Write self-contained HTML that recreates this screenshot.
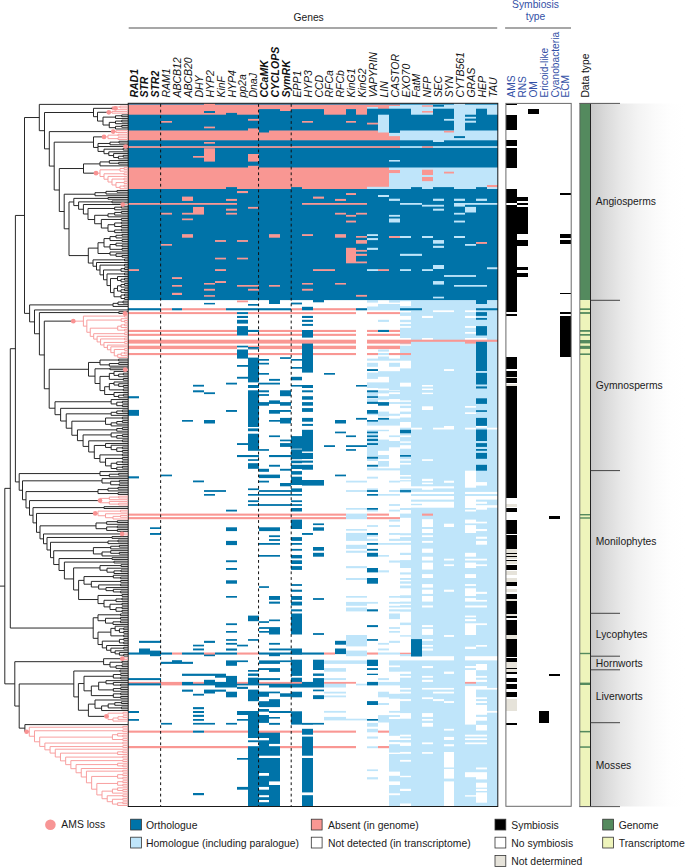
<!DOCTYPE html>
<html><head><meta charset="utf-8"><style>
html,body{margin:0;padding:0;background:#fff;width:685px;height:867px;overflow:hidden}
svg{display:block;font-family:"Liberation Sans",sans-serif}
</style></head><body>
<svg width="685" height="867" viewBox="0 0 685 867" font-family="&apos;Liberation Sans&apos;, sans-serif">
<defs><linearGradient id="gr" x1="0" x2="1" y1="0" y2="0">
<stop offset="0" stop-color="#c9c9c9"/><stop offset="0.15" stop-color="#d9d9d9"/><stop offset="0.32" stop-color="#e8e8e8"/>
<stop offset="0.5" stop-color="#f3f3f3"/><stop offset="0.68" stop-color="#fafafa"/><stop offset="0.85" stop-color="#fefefe"/><stop offset="1" stop-color="#ffffff"/>
</linearGradient></defs>
<rect x="590.5" y="103.5" width="94.5" height="703" fill="url(#gr)"/>
<text x="308.6" y="21.4" font-size="10.3" text-anchor="middle" fill="#1a1a1a">Genes</text>
<line x1="128.7" y1="28" x2="497.2" y2="28" stroke="#8a8a8a" stroke-width="1.7"/>
<text x="535.5" y="7.7" font-size="10.3" text-anchor="middle" fill="#3350a6">Symbiosis</text>
<text x="535.5" y="19.7" font-size="10.3" text-anchor="middle" fill="#3350a6">type</text>
<line x1="505.1" y1="28" x2="571" y2="28" stroke="#8a8a8a" stroke-width="1.7"/>
<text transform="translate(137.60,97.6) rotate(-90)" font-size="10.5" font-style="italic" font-weight="bold" fill="#111">RAD1</text>
<text transform="translate(148.48,97.6) rotate(-90)" font-size="10.5" font-style="italic" font-weight="bold" fill="#111">STR</text>
<text transform="translate(159.36,97.6) rotate(-90)" font-size="10.5" font-style="italic" font-weight="bold" fill="#111">STR2</text>
<text transform="translate(170.24,97.6) rotate(-90)" font-size="10.5" font-style="italic" fill="#111">RAM1</text>
<text transform="translate(181.12,97.6) rotate(-90)" font-size="10.5" font-style="italic" fill="#111">ABCB12</text>
<text transform="translate(192.00,97.6) rotate(-90)" font-size="10.5" font-style="italic" fill="#111">ABCB20</text>
<text transform="translate(202.88,97.6) rotate(-90)" font-size="10.5" font-style="italic" fill="#111">DHY</text>
<text transform="translate(213.76,97.6) rotate(-90)" font-size="10.5" font-style="italic" fill="#111">HYP2</text>
<text transform="translate(224.64,97.6) rotate(-90)" font-size="10.5" font-style="italic" fill="#111">KinF</text>
<text transform="translate(235.52,97.6) rotate(-90)" font-size="10.5" font-style="italic" fill="#111">HYP4</text>
<text transform="translate(246.40,97.6) rotate(-90)" font-size="10.5" font-style="italic" fill="#111">pp2a</text>
<text transform="translate(257.28,97.6) rotate(-90)" font-size="10.5" font-style="italic" fill="#111">DnaJ</text>
<text transform="translate(268.16,97.6) rotate(-90)" font-size="10.5" font-style="italic" font-weight="bold" fill="#111">CCaMK</text>
<text transform="translate(279.04,97.6) rotate(-90)" font-size="10.5" font-style="italic" font-weight="bold" fill="#111">CYCLOPS</text>
<text transform="translate(289.92,97.6) rotate(-90)" font-size="10.5" font-style="italic" font-weight="bold" fill="#111">SymRK</text>
<text transform="translate(300.80,97.6) rotate(-90)" font-size="10.5" font-style="italic" fill="#111">EPP1</text>
<text transform="translate(311.68,97.6) rotate(-90)" font-size="10.5" font-style="italic" fill="#111">HYP3</text>
<text transform="translate(322.56,97.6) rotate(-90)" font-size="10.5" font-style="italic" fill="#111">CCD</text>
<text transform="translate(333.44,97.6) rotate(-90)" font-size="10.5" font-style="italic" fill="#111">RFCa</text>
<text transform="translate(344.32,97.6) rotate(-90)" font-size="10.5" font-style="italic" fill="#111">RFCb</text>
<text transform="translate(355.20,97.6) rotate(-90)" font-size="10.5" font-style="italic" fill="#111">KinG1</text>
<text transform="translate(366.08,97.6) rotate(-90)" font-size="10.5" font-style="italic" fill="#111">KinG2</text>
<text transform="translate(376.96,97.6) rotate(-90)" font-size="10.5" font-style="italic" fill="#111">VAPYRIN</text>
<text transform="translate(387.84,97.6) rotate(-90)" font-size="10.5" font-style="italic" fill="#111">LIN</text>
<text transform="translate(398.72,97.6) rotate(-90)" font-size="10.5" font-style="italic" fill="#111">CASTOR</text>
<text transform="translate(409.60,97.6) rotate(-90)" font-size="10.5" font-style="italic" fill="#111">EXO70</text>
<text transform="translate(420.48,97.6) rotate(-90)" font-size="10.5" font-style="italic" fill="#111">FatM</text>
<text transform="translate(431.36,97.6) rotate(-90)" font-size="10.5" font-style="italic" fill="#111">NFP</text>
<text transform="translate(442.24,97.6) rotate(-90)" font-size="10.5" font-style="italic" fill="#111">SEC</text>
<text transform="translate(453.12,97.6) rotate(-90)" font-size="10.5" font-style="italic" fill="#111">SYN</text>
<text transform="translate(464.00,97.6) rotate(-90)" font-size="10.5" font-style="italic" fill="#111">CYTB561</text>
<text transform="translate(474.88,97.6) rotate(-90)" font-size="10.5" font-style="italic" fill="#111">GRAS</text>
<text transform="translate(485.76,97.6) rotate(-90)" font-size="10.5" font-style="italic" fill="#111">HEP</text>
<text transform="translate(496.64,97.6) rotate(-90)" font-size="10.5" font-style="italic" fill="#111">TAU</text>
<text transform="translate(515.10,97.6) rotate(-90)" font-size="10.2" fill="#3350a6">AMS</text>
<text transform="translate(525.97,97.6) rotate(-90)" font-size="10.2" fill="#3350a6">RNS</text>
<text transform="translate(536.84,97.6) rotate(-90)" font-size="10.2" fill="#3350a6">OM</text>
<text transform="translate(547.71,97.6) rotate(-90)" font-size="10.2" fill="#3350a6">Ericoid-like</text>
<text transform="translate(558.58,97.6) rotate(-90)" font-size="10.2" fill="#3350a6">Cyanobacteria</text>
<text transform="translate(569.45,97.6) rotate(-90)" font-size="10.2" fill="#3350a6">ECM</text>
<text transform="translate(589.2,97.6) rotate(-90)" font-size="10.3" fill="#111">Data type</text>
<g>
<rect x="128" y="103.50" width="11" height="1.70" fill="#0073a8"/>
<rect x="128" y="104.60" width="11" height="10.70" fill="#f99793"/>
<rect x="128" y="114.70" width="11" height="16.40" fill="#0073a8"/>
<rect x="128" y="130.50" width="11" height="10.40" fill="#f99793"/>
<rect x="128" y="140.30" width="11" height="6.50" fill="#0073a8"/>
<rect x="128" y="146.20" width="11" height="2.30" fill="#f99793"/>
<rect x="128" y="147.90" width="11" height="20.20" fill="#0073a8"/>
<rect x="128" y="167.50" width="11" height="22.10" fill="#f99793"/>
<rect x="128" y="189.00" width="11" height="14.60" fill="#0073a8"/>
<rect x="128" y="203.00" width="11" height="2.40" fill="#f99793"/>
<rect x="128" y="204.80" width="11" height="65.00" fill="#0073a8"/>
<rect x="128" y="269.20" width="11" height="2.40" fill="#f99793"/>
<rect x="128" y="271.00" width="11" height="29.10" fill="#0073a8"/>
<rect x="128" y="308.20" width="11" height="2.10" fill="#0073a8"/>
<rect x="128" y="312.10" width="11" height="2.00" fill="#f99793"/>
<rect x="128" y="329.90" width="11" height="2.10" fill="#f99793"/>
<rect x="128" y="333.80" width="11" height="2.10" fill="#f99793"/>
<rect x="128" y="339.70" width="11" height="3.90" fill="#f99793"/>
<rect x="128" y="345.70" width="11" height="3.40" fill="#f99793"/>
<rect x="128" y="353.00" width="11" height="2.10" fill="#f99793"/>
<rect x="128" y="396.20" width="11" height="2.10" fill="#0073a8"/>
<rect x="128" y="409.90" width="11" height="5.90" fill="#0073a8"/>
<rect x="128" y="476.30" width="11" height="2.10" fill="#0073a8"/>
<rect x="128" y="513.60" width="11" height="2.10" fill="#f99793"/>
<rect x="128" y="517.10" width="11" height="2.10" fill="#f99793"/>
<rect x="128" y="652.50" width="11" height="2.10" fill="#0073a8"/>
<rect x="128" y="678.10" width="11" height="2.00" fill="#0073a8"/>
<rect x="128" y="681.90" width="11" height="2.00" fill="#f99793"/>
<rect x="128" y="683.30" width="11" height="2.10" fill="#0073a8"/>
<rect x="128" y="711.00" width="11" height="2.00" fill="#0073a8"/>
<rect x="128" y="719.00" width="11" height="1.80" fill="#0073a8"/>
<rect x="128" y="730.60" width="11" height="2.10" fill="#f99793"/>
<rect x="128" y="746.00" width="11" height="2.20" fill="#f99793"/>
<rect x="139" y="103.50" width="11" height="1.70" fill="#0073a8"/>
<rect x="139" y="104.60" width="11" height="10.70" fill="#f99793"/>
<rect x="139" y="114.70" width="11" height="16.40" fill="#0073a8"/>
<rect x="139" y="130.50" width="11" height="10.40" fill="#f99793"/>
<rect x="139" y="140.30" width="11" height="6.50" fill="#0073a8"/>
<rect x="139" y="146.20" width="11" height="2.30" fill="#f99793"/>
<rect x="139" y="147.90" width="11" height="20.20" fill="#0073a8"/>
<rect x="139" y="167.50" width="11" height="22.10" fill="#f99793"/>
<rect x="139" y="189.00" width="11" height="14.60" fill="#0073a8"/>
<rect x="139" y="203.00" width="11" height="2.40" fill="#f99793"/>
<rect x="139" y="204.80" width="11" height="95.30" fill="#0073a8"/>
<rect x="139" y="308.20" width="11" height="2.10" fill="#0073a8"/>
<rect x="139" y="312.10" width="11" height="2.00" fill="#f99793"/>
<rect x="139" y="329.90" width="11" height="2.10" fill="#f99793"/>
<rect x="139" y="333.80" width="11" height="2.10" fill="#f99793"/>
<rect x="139" y="339.70" width="11" height="3.90" fill="#f99793"/>
<rect x="139" y="345.70" width="11" height="3.40" fill="#f99793"/>
<rect x="139" y="353.00" width="11" height="2.10" fill="#f99793"/>
<rect x="139" y="513.60" width="11" height="2.10" fill="#f99793"/>
<rect x="139" y="517.10" width="11" height="2.10" fill="#f99793"/>
<rect x="139" y="640.80" width="11" height="2.10" fill="#0073a8"/>
<rect x="139" y="648.50" width="11" height="6.10" fill="#0073a8"/>
<rect x="139" y="678.10" width="11" height="2.00" fill="#0073a8"/>
<rect x="139" y="681.90" width="11" height="2.00" fill="#f99793"/>
<rect x="139" y="683.30" width="11" height="2.10" fill="#0073a8"/>
<rect x="139" y="730.60" width="11" height="2.10" fill="#f99793"/>
<rect x="139" y="746.00" width="11" height="2.20" fill="#f99793"/>
<rect x="150" y="103.50" width="11" height="1.70" fill="#0073a8"/>
<rect x="150" y="104.60" width="11" height="10.70" fill="#f99793"/>
<rect x="150" y="114.70" width="11" height="16.40" fill="#0073a8"/>
<rect x="150" y="130.50" width="11" height="10.40" fill="#f99793"/>
<rect x="150" y="140.30" width="11" height="6.50" fill="#0073a8"/>
<rect x="150" y="146.20" width="11" height="2.30" fill="#f99793"/>
<rect x="150" y="147.90" width="11" height="20.20" fill="#0073a8"/>
<rect x="150" y="167.50" width="11" height="22.10" fill="#f99793"/>
<rect x="150" y="189.00" width="11" height="14.60" fill="#0073a8"/>
<rect x="150" y="203.00" width="11" height="2.40" fill="#f99793"/>
<rect x="150" y="204.80" width="11" height="95.30" fill="#0073a8"/>
<rect x="150" y="308.20" width="11" height="2.10" fill="#0073a8"/>
<rect x="150" y="312.10" width="11" height="2.00" fill="#f99793"/>
<rect x="150" y="329.90" width="11" height="2.10" fill="#f99793"/>
<rect x="150" y="333.80" width="11" height="2.10" fill="#f99793"/>
<rect x="150" y="339.70" width="11" height="3.90" fill="#f99793"/>
<rect x="150" y="345.70" width="11" height="3.40" fill="#f99793"/>
<rect x="150" y="353.00" width="11" height="2.10" fill="#f99793"/>
<rect x="150" y="513.60" width="11" height="2.10" fill="#f99793"/>
<rect x="150" y="517.10" width="11" height="2.10" fill="#f99793"/>
<rect x="150" y="527.30" width="11" height="1.70" fill="#0073a8"/>
<rect x="150" y="533.00" width="11" height="1.90" fill="#0073a8"/>
<rect x="150" y="640.80" width="11" height="2.10" fill="#0073a8"/>
<rect x="150" y="650.60" width="11" height="5.60" fill="#0073a8"/>
<rect x="150" y="678.10" width="11" height="2.00" fill="#0073a8"/>
<rect x="150" y="681.90" width="11" height="2.00" fill="#f99793"/>
<rect x="150" y="683.30" width="11" height="2.10" fill="#0073a8"/>
<rect x="150" y="730.60" width="11" height="2.10" fill="#f99793"/>
<rect x="150" y="746.00" width="11" height="2.20" fill="#f99793"/>
<rect x="161" y="103.50" width="11" height="1.70" fill="#0073a8"/>
<rect x="161" y="104.60" width="11" height="10.70" fill="#f99793"/>
<rect x="161" y="114.70" width="11" height="6.90" fill="#0073a8"/>
<rect x="161" y="121.00" width="11" height="2.30" fill="#f99793"/>
<rect x="161" y="122.70" width="11" height="8.40" fill="#0073a8"/>
<rect x="161" y="130.50" width="11" height="10.40" fill="#f99793"/>
<rect x="161" y="140.30" width="11" height="6.50" fill="#0073a8"/>
<rect x="161" y="146.20" width="11" height="2.30" fill="#f99793"/>
<rect x="161" y="147.90" width="11" height="20.20" fill="#0073a8"/>
<rect x="161" y="167.50" width="11" height="22.10" fill="#f99793"/>
<rect x="161" y="189.00" width="11" height="14.60" fill="#0073a8"/>
<rect x="161" y="203.00" width="11" height="2.40" fill="#f99793"/>
<rect x="161" y="204.80" width="11" height="8.60" fill="#0073a8"/>
<rect x="161" y="212.80" width="11" height="2.40" fill="#f99793"/>
<rect x="161" y="214.60" width="11" height="30.00" fill="#0073a8"/>
<rect x="161" y="244.00" width="11" height="2.30" fill="#f99793"/>
<rect x="161" y="245.70" width="11" height="54.40" fill="#0073a8"/>
<rect x="161" y="308.20" width="11" height="2.10" fill="#f99793"/>
<rect x="161" y="312.10" width="11" height="2.00" fill="#f99793"/>
<rect x="161" y="329.90" width="11" height="2.10" fill="#f99793"/>
<rect x="161" y="333.80" width="11" height="2.10" fill="#f99793"/>
<rect x="161" y="339.70" width="11" height="3.90" fill="#f99793"/>
<rect x="161" y="345.70" width="11" height="3.40" fill="#f99793"/>
<rect x="161" y="353.00" width="11" height="2.10" fill="#f99793"/>
<rect x="161" y="474.60" width="11" height="1.70" fill="#0073a8"/>
<rect x="161" y="513.60" width="11" height="2.10" fill="#f99793"/>
<rect x="161" y="517.10" width="11" height="2.10" fill="#f99793"/>
<rect x="161" y="652.50" width="11" height="2.10" fill="#0073a8"/>
<rect x="161" y="661.80" width="11" height="2.10" fill="#0073a8"/>
<rect x="161" y="681.90" width="11" height="3.50" fill="#f99793"/>
<rect x="161" y="722.90" width="11" height="1.70" fill="#0073a8"/>
<rect x="161" y="730.60" width="11" height="2.10" fill="#f99793"/>
<rect x="161" y="746.00" width="11" height="2.20" fill="#f99793"/>
<rect x="172" y="103.50" width="10" height="1.70" fill="#0073a8"/>
<rect x="172" y="104.60" width="10" height="10.70" fill="#f99793"/>
<rect x="172" y="114.70" width="10" height="16.40" fill="#0073a8"/>
<rect x="172" y="130.50" width="10" height="10.40" fill="#f99793"/>
<rect x="172" y="140.30" width="10" height="6.50" fill="#0073a8"/>
<rect x="172" y="146.20" width="10" height="2.30" fill="#f99793"/>
<rect x="172" y="147.90" width="10" height="20.20" fill="#0073a8"/>
<rect x="172" y="167.50" width="10" height="22.10" fill="#f99793"/>
<rect x="172" y="189.00" width="10" height="14.60" fill="#0073a8"/>
<rect x="172" y="203.00" width="10" height="2.40" fill="#f99793"/>
<rect x="172" y="204.80" width="10" height="73.00" fill="#0073a8"/>
<rect x="172" y="277.20" width="10" height="2.40" fill="#f99793"/>
<rect x="172" y="279.00" width="10" height="6.60" fill="#0073a8"/>
<rect x="172" y="285.00" width="10" height="2.30" fill="#f99793"/>
<rect x="172" y="286.70" width="10" height="6.70" fill="#0073a8"/>
<rect x="172" y="292.80" width="10" height="2.80" fill="#f99793"/>
<rect x="172" y="295.00" width="10" height="5.10" fill="#0073a8"/>
<rect x="172" y="308.20" width="10" height="2.10" fill="#0073a8"/>
<rect x="172" y="312.10" width="10" height="2.00" fill="#f99793"/>
<rect x="172" y="329.90" width="10" height="2.10" fill="#f99793"/>
<rect x="172" y="333.80" width="10" height="2.10" fill="#f99793"/>
<rect x="172" y="339.70" width="10" height="3.90" fill="#f99793"/>
<rect x="172" y="345.70" width="10" height="3.40" fill="#f99793"/>
<rect x="172" y="353.00" width="10" height="2.10" fill="#f99793"/>
<rect x="172" y="513.60" width="10" height="2.10" fill="#f99793"/>
<rect x="172" y="517.10" width="10" height="2.10" fill="#f99793"/>
<rect x="172" y="652.50" width="10" height="2.10" fill="#f99793"/>
<rect x="172" y="660.20" width="10" height="3.70" fill="#0073a8"/>
<rect x="172" y="681.90" width="10" height="3.50" fill="#f99793"/>
<rect x="172" y="730.60" width="10" height="2.10" fill="#f99793"/>
<rect x="172" y="746.00" width="10" height="2.20" fill="#f99793"/>
<rect x="182" y="103.50" width="11" height="1.70" fill="#0073a8"/>
<rect x="182" y="104.60" width="11" height="10.70" fill="#f99793"/>
<rect x="182" y="114.70" width="11" height="16.40" fill="#0073a8"/>
<rect x="182" y="130.50" width="11" height="10.40" fill="#f99793"/>
<rect x="182" y="140.30" width="11" height="6.50" fill="#0073a8"/>
<rect x="182" y="146.20" width="11" height="2.30" fill="#f99793"/>
<rect x="182" y="147.90" width="11" height="20.20" fill="#0073a8"/>
<rect x="182" y="167.50" width="11" height="22.10" fill="#f99793"/>
<rect x="182" y="189.00" width="11" height="8.20" fill="#0073a8"/>
<rect x="182" y="196.60" width="11" height="4.90" fill="#f99793"/>
<rect x="182" y="200.90" width="11" height="2.70" fill="#0073a8"/>
<rect x="182" y="203.00" width="11" height="2.40" fill="#f99793"/>
<rect x="182" y="204.80" width="11" height="8.60" fill="#0073a8"/>
<rect x="182" y="212.80" width="11" height="2.40" fill="#f99793"/>
<rect x="182" y="214.60" width="11" height="4.50" fill="#0073a8"/>
<rect x="182" y="218.50" width="11" height="2.30" fill="#f99793"/>
<rect x="182" y="220.20" width="11" height="14.60" fill="#0073a8"/>
<rect x="182" y="234.20" width="11" height="4.10" fill="#f99793"/>
<rect x="182" y="237.70" width="11" height="62.40" fill="#0073a8"/>
<rect x="182" y="308.20" width="11" height="2.10" fill="#f99793"/>
<rect x="182" y="312.10" width="11" height="2.00" fill="#f99793"/>
<rect x="182" y="329.90" width="11" height="2.10" fill="#f99793"/>
<rect x="182" y="333.80" width="11" height="2.10" fill="#f99793"/>
<rect x="182" y="339.70" width="11" height="3.90" fill="#f99793"/>
<rect x="182" y="345.70" width="11" height="3.40" fill="#f99793"/>
<rect x="182" y="353.00" width="11" height="2.10" fill="#f99793"/>
<rect x="182" y="420.00" width="11" height="1.70" fill="#0073a8"/>
<rect x="182" y="513.60" width="11" height="2.10" fill="#f99793"/>
<rect x="182" y="517.10" width="11" height="2.10" fill="#f99793"/>
<rect x="182" y="652.50" width="11" height="2.10" fill="#0073a8"/>
<rect x="182" y="661.80" width="11" height="2.10" fill="#0073a8"/>
<rect x="182" y="673.70" width="11" height="2.20" fill="#0073a8"/>
<rect x="182" y="681.90" width="11" height="3.50" fill="#0073a8"/>
<rect x="182" y="689.60" width="11" height="2.10" fill="#0073a8"/>
<rect x="182" y="730.60" width="11" height="2.10" fill="#f99793"/>
<rect x="182" y="746.00" width="11" height="2.20" fill="#f99793"/>
<rect x="193" y="103.50" width="11" height="1.70" fill="#0073a8"/>
<rect x="193" y="104.60" width="11" height="10.70" fill="#f99793"/>
<rect x="193" y="114.70" width="11" height="16.40" fill="#0073a8"/>
<rect x="193" y="130.50" width="11" height="10.40" fill="#f99793"/>
<rect x="193" y="140.30" width="11" height="6.50" fill="#0073a8"/>
<rect x="193" y="146.20" width="11" height="2.30" fill="#f99793"/>
<rect x="193" y="147.90" width="11" height="8.70" fill="#0073a8"/>
<rect x="193" y="156.00" width="11" height="2.30" fill="#f99793"/>
<rect x="193" y="157.70" width="11" height="10.40" fill="#0073a8"/>
<rect x="193" y="167.50" width="11" height="22.10" fill="#f99793"/>
<rect x="193" y="189.00" width="11" height="14.60" fill="#0073a8"/>
<rect x="193" y="203.00" width="11" height="2.40" fill="#f99793"/>
<rect x="193" y="204.80" width="11" height="2.70" fill="#0073a8"/>
<rect x="193" y="206.90" width="11" height="8.30" fill="#f99793"/>
<rect x="193" y="214.60" width="11" height="85.50" fill="#0073a8"/>
<rect x="193" y="308.20" width="11" height="2.10" fill="#f99793"/>
<rect x="193" y="312.10" width="11" height="2.00" fill="#f99793"/>
<rect x="193" y="329.90" width="11" height="2.10" fill="#f99793"/>
<rect x="193" y="333.80" width="11" height="2.10" fill="#f99793"/>
<rect x="193" y="339.70" width="11" height="3.90" fill="#f99793"/>
<rect x="193" y="345.70" width="11" height="3.40" fill="#f99793"/>
<rect x="193" y="353.00" width="11" height="2.10" fill="#f99793"/>
<rect x="193" y="384.80" width="11" height="1.80" fill="#0073a8"/>
<rect x="193" y="390.30" width="11" height="2.00" fill="#0073a8"/>
<rect x="193" y="480.50" width="11" height="1.80" fill="#0073a8"/>
<rect x="193" y="513.60" width="11" height="2.10" fill="#f99793"/>
<rect x="193" y="517.10" width="11" height="2.10" fill="#f99793"/>
<rect x="193" y="644.70" width="11" height="1.70" fill="#0073a8"/>
<rect x="193" y="648.50" width="11" height="1.90" fill="#0073a8"/>
<rect x="193" y="652.50" width="11" height="2.10" fill="#0073a8"/>
<rect x="193" y="673.70" width="11" height="2.20" fill="#0073a8"/>
<rect x="193" y="681.90" width="11" height="2.40" fill="#f99793"/>
<rect x="193" y="683.70" width="11" height="1.70" fill="#0073a8"/>
<rect x="193" y="693.80" width="11" height="1.80" fill="#0073a8"/>
<rect x="193" y="707.10" width="11" height="2.10" fill="#0073a8"/>
<rect x="193" y="711.00" width="11" height="2.00" fill="#0073a8"/>
<rect x="193" y="714.80" width="11" height="2.10" fill="#0073a8"/>
<rect x="193" y="719.00" width="11" height="1.80" fill="#0073a8"/>
<rect x="193" y="722.90" width="11" height="1.70" fill="#0073a8"/>
<rect x="193" y="730.60" width="11" height="2.10" fill="#0073a8"/>
<rect x="193" y="746.00" width="11" height="2.20" fill="#f99793"/>
<rect x="193" y="793.00" width="11" height="2.20" fill="#0073a8"/>
<rect x="204" y="103.50" width="11" height="8.10" fill="#f99793"/>
<rect x="204" y="111.00" width="11" height="2.60" fill="#0073a8"/>
<rect x="204" y="113.00" width="11" height="2.30" fill="#f99793"/>
<rect x="204" y="114.70" width="11" height="12.50" fill="#0073a8"/>
<rect x="204" y="126.60" width="11" height="2.30" fill="#f99793"/>
<rect x="204" y="128.30" width="11" height="2.80" fill="#0073a8"/>
<rect x="204" y="130.50" width="11" height="10.40" fill="#f99793"/>
<rect x="204" y="140.30" width="11" height="2.30" fill="#0073a8"/>
<rect x="204" y="142.00" width="11" height="2.30" fill="#f99793"/>
<rect x="204" y="143.70" width="11" height="3.10" fill="#0073a8"/>
<rect x="204" y="146.20" width="11" height="2.30" fill="#f99793"/>
<rect x="204" y="147.90" width="11" height="1.00" fill="#0073a8"/>
<rect x="204" y="148.30" width="11" height="13.90" fill="#f99793"/>
<rect x="204" y="161.60" width="11" height="6.50" fill="#0073a8"/>
<rect x="204" y="167.50" width="11" height="22.10" fill="#f99793"/>
<rect x="204" y="189.00" width="11" height="14.60" fill="#0073a8"/>
<rect x="204" y="203.00" width="11" height="2.40" fill="#f99793"/>
<rect x="204" y="204.80" width="11" height="78.80" fill="#0073a8"/>
<rect x="204" y="283.00" width="11" height="2.20" fill="#f99793"/>
<rect x="204" y="284.60" width="11" height="4.80" fill="#0073a8"/>
<rect x="204" y="288.80" width="11" height="2.50" fill="#f99793"/>
<rect x="204" y="290.70" width="11" height="5.10" fill="#0073a8"/>
<rect x="204" y="295.20" width="11" height="2.10" fill="#f99793"/>
<rect x="204" y="296.70" width="11" height="3.40" fill="#0073a8"/>
<rect x="204" y="302.90" width="11" height="1.50" fill="#0073a8"/>
<rect x="204" y="308.20" width="11" height="2.10" fill="#f99793"/>
<rect x="204" y="312.10" width="11" height="2.00" fill="#f99793"/>
<rect x="204" y="329.90" width="11" height="2.10" fill="#f99793"/>
<rect x="204" y="333.80" width="11" height="2.10" fill="#f99793"/>
<rect x="204" y="339.70" width="11" height="3.90" fill="#f99793"/>
<rect x="204" y="345.70" width="11" height="3.40" fill="#f99793"/>
<rect x="204" y="353.00" width="11" height="2.10" fill="#f99793"/>
<rect x="204" y="392.30" width="11" height="1.80" fill="#0073a8"/>
<rect x="204" y="420.00" width="11" height="3.50" fill="#0073a8"/>
<rect x="204" y="490.10" width="11" height="1.80" fill="#0073a8"/>
<rect x="204" y="494.00" width="11" height="1.70" fill="#0073a8"/>
<rect x="204" y="513.60" width="11" height="2.10" fill="#f99793"/>
<rect x="204" y="517.10" width="11" height="2.10" fill="#f99793"/>
<rect x="204" y="640.80" width="11" height="2.10" fill="#0073a8"/>
<rect x="204" y="652.50" width="11" height="2.70" fill="#f99793"/>
<rect x="204" y="654.60" width="11" height="1.60" fill="#0073a8"/>
<rect x="204" y="673.70" width="11" height="2.20" fill="#0073a8"/>
<rect x="204" y="679.80" width="11" height="5.60" fill="#0073a8"/>
<rect x="204" y="689.60" width="11" height="3.90" fill="#0073a8"/>
<rect x="204" y="722.90" width="11" height="1.70" fill="#0073a8"/>
<rect x="204" y="730.60" width="11" height="2.10" fill="#f99793"/>
<rect x="204" y="746.00" width="11" height="2.20" fill="#f99793"/>
<rect x="215" y="103.50" width="11" height="1.70" fill="#0073a8"/>
<rect x="215" y="104.60" width="11" height="10.70" fill="#f99793"/>
<rect x="215" y="114.70" width="11" height="16.40" fill="#0073a8"/>
<rect x="215" y="130.50" width="11" height="10.40" fill="#f99793"/>
<rect x="215" y="140.30" width="11" height="6.50" fill="#0073a8"/>
<rect x="215" y="146.20" width="11" height="2.30" fill="#f99793"/>
<rect x="215" y="147.90" width="11" height="20.20" fill="#0073a8"/>
<rect x="215" y="167.50" width="11" height="22.10" fill="#f99793"/>
<rect x="215" y="189.00" width="11" height="14.60" fill="#0073a8"/>
<rect x="215" y="203.00" width="11" height="2.40" fill="#f99793"/>
<rect x="215" y="204.80" width="11" height="35.90" fill="#0073a8"/>
<rect x="215" y="240.10" width="11" height="2.40" fill="#f99793"/>
<rect x="215" y="241.90" width="11" height="16.40" fill="#0073a8"/>
<rect x="215" y="257.70" width="11" height="2.30" fill="#f99793"/>
<rect x="215" y="259.40" width="11" height="10.40" fill="#0073a8"/>
<rect x="215" y="269.20" width="11" height="2.40" fill="#f99793"/>
<rect x="215" y="271.00" width="11" height="10.70" fill="#0073a8"/>
<rect x="215" y="281.10" width="11" height="2.50" fill="#f99793"/>
<rect x="215" y="283.00" width="11" height="17.10" fill="#0073a8"/>
<rect x="215" y="308.20" width="11" height="2.10" fill="#f99793"/>
<rect x="215" y="312.10" width="11" height="2.00" fill="#f99793"/>
<rect x="215" y="329.90" width="11" height="2.10" fill="#f99793"/>
<rect x="215" y="333.80" width="11" height="2.10" fill="#f99793"/>
<rect x="215" y="339.70" width="11" height="3.90" fill="#f99793"/>
<rect x="215" y="345.70" width="11" height="3.40" fill="#f99793"/>
<rect x="215" y="353.00" width="11" height="2.10" fill="#f99793"/>
<rect x="215" y="490.10" width="11" height="1.80" fill="#0073a8"/>
<rect x="215" y="513.60" width="11" height="2.10" fill="#f99793"/>
<rect x="215" y="517.10" width="11" height="2.10" fill="#f99793"/>
<rect x="215" y="652.50" width="11" height="2.10" fill="#0073a8"/>
<rect x="215" y="673.70" width="11" height="4.00" fill="#0073a8"/>
<rect x="215" y="681.90" width="11" height="5.60" fill="#0073a8"/>
<rect x="215" y="689.60" width="11" height="2.10" fill="#0073a8"/>
<rect x="215" y="730.60" width="11" height="2.10" fill="#f99793"/>
<rect x="215" y="746.00" width="11" height="2.20" fill="#f99793"/>
<rect x="226" y="103.50" width="11" height="1.70" fill="#0073a8"/>
<rect x="226" y="104.60" width="11" height="8.90" fill="#f99793"/>
<rect x="226" y="112.90" width="11" height="18.20" fill="#0073a8"/>
<rect x="226" y="130.50" width="11" height="10.40" fill="#f99793"/>
<rect x="226" y="140.30" width="11" height="6.50" fill="#0073a8"/>
<rect x="226" y="146.20" width="11" height="2.30" fill="#f99793"/>
<rect x="226" y="147.90" width="11" height="20.20" fill="#0073a8"/>
<rect x="226" y="167.50" width="11" height="20.20" fill="#f99793"/>
<rect x="226" y="187.10" width="11" height="12.40" fill="#0073a8"/>
<rect x="226" y="198.90" width="11" height="2.60" fill="#f99793"/>
<rect x="226" y="200.90" width="11" height="2.70" fill="#0073a8"/>
<rect x="226" y="203.00" width="11" height="2.40" fill="#f99793"/>
<rect x="226" y="204.80" width="11" height="4.50" fill="#0073a8"/>
<rect x="226" y="208.70" width="11" height="2.60" fill="#f99793"/>
<rect x="226" y="210.70" width="11" height="2.70" fill="#0073a8"/>
<rect x="226" y="212.80" width="11" height="2.40" fill="#f99793"/>
<rect x="226" y="214.60" width="11" height="85.50" fill="#0073a8"/>
<rect x="226" y="308.20" width="11" height="2.10" fill="#0073a8"/>
<rect x="226" y="312.10" width="11" height="2.00" fill="#f99793"/>
<rect x="226" y="329.90" width="11" height="2.10" fill="#f99793"/>
<rect x="226" y="333.80" width="11" height="2.10" fill="#f99793"/>
<rect x="226" y="339.70" width="11" height="3.90" fill="#f99793"/>
<rect x="226" y="345.70" width="11" height="3.40" fill="#f99793"/>
<rect x="226" y="353.00" width="11" height="2.10" fill="#f99793"/>
<rect x="226" y="382.70" width="11" height="1.80" fill="#0073a8"/>
<rect x="226" y="410.00" width="11" height="1.90" fill="#0073a8"/>
<rect x="226" y="509.70" width="11" height="1.80" fill="#0073a8"/>
<rect x="226" y="513.60" width="11" height="2.10" fill="#f99793"/>
<rect x="226" y="517.10" width="11" height="2.10" fill="#f99793"/>
<rect x="226" y="527.30" width="11" height="3.80" fill="#0073a8"/>
<rect x="226" y="540.90" width="11" height="4.20" fill="#0073a8"/>
<rect x="226" y="560.30" width="11" height="1.90" fill="#0073a8"/>
<rect x="226" y="568.00" width="11" height="1.90" fill="#0073a8"/>
<rect x="226" y="580.30" width="11" height="3.40" fill="#0073a8"/>
<rect x="226" y="596.00" width="11" height="1.70" fill="#0073a8"/>
<rect x="226" y="623.30" width="11" height="1.80" fill="#0073a8"/>
<rect x="226" y="631.00" width="11" height="1.70" fill="#0073a8"/>
<rect x="226" y="639.10" width="11" height="1.70" fill="#0073a8"/>
<rect x="226" y="642.90" width="11" height="1.80" fill="#0073a8"/>
<rect x="226" y="648.50" width="11" height="2.10" fill="#0073a8"/>
<rect x="226" y="652.50" width="11" height="2.10" fill="#0073a8"/>
<rect x="226" y="660.40" width="11" height="5.40" fill="#0073a8"/>
<rect x="226" y="675.90" width="11" height="11.60" fill="#0073a8"/>
<rect x="226" y="691.70" width="11" height="5.60" fill="#0073a8"/>
<rect x="226" y="722.90" width="11" height="1.70" fill="#0073a8"/>
<rect x="226" y="730.60" width="11" height="2.10" fill="#f99793"/>
<rect x="226" y="746.00" width="11" height="2.20" fill="#f99793"/>
<rect x="237" y="103.50" width="11" height="1.70" fill="#0073a8"/>
<rect x="237" y="104.60" width="11" height="10.70" fill="#f99793"/>
<rect x="237" y="114.70" width="11" height="16.40" fill="#0073a8"/>
<rect x="237" y="130.50" width="11" height="10.40" fill="#f99793"/>
<rect x="237" y="140.30" width="11" height="6.50" fill="#0073a8"/>
<rect x="237" y="146.20" width="11" height="2.30" fill="#f99793"/>
<rect x="237" y="147.90" width="11" height="20.20" fill="#0073a8"/>
<rect x="237" y="167.50" width="11" height="22.10" fill="#f99793"/>
<rect x="237" y="189.00" width="11" height="2.60" fill="#0073a8"/>
<rect x="237" y="191.00" width="11" height="2.70" fill="#f99793"/>
<rect x="237" y="193.10" width="11" height="47.60" fill="#0073a8"/>
<rect x="237" y="240.10" width="11" height="2.40" fill="#f99793"/>
<rect x="237" y="241.90" width="11" height="16.40" fill="#0073a8"/>
<rect x="237" y="257.70" width="11" height="2.30" fill="#f99793"/>
<rect x="237" y="259.40" width="11" height="26.20" fill="#0073a8"/>
<rect x="237" y="285.00" width="11" height="2.30" fill="#f99793"/>
<rect x="237" y="286.70" width="11" height="13.40" fill="#0073a8"/>
<rect x="237" y="300.50" width="11" height="1.80" fill="#f99793"/>
<rect x="237" y="308.20" width="11" height="2.10" fill="#0073a8"/>
<rect x="237" y="312.10" width="11" height="2.00" fill="#0073a8"/>
<rect x="237" y="315.90" width="11" height="2.10" fill="#0073a8"/>
<rect x="237" y="319.80" width="11" height="3.80" fill="#0073a8"/>
<rect x="237" y="326.10" width="11" height="9.40" fill="#0073a8"/>
<rect x="237" y="339.70" width="11" height="3.90" fill="#f99793"/>
<rect x="237" y="345.70" width="11" height="1.70" fill="#0073a8"/>
<rect x="237" y="349.50" width="11" height="9.10" fill="#0073a8"/>
<rect x="237" y="365.00" width="11" height="1.80" fill="#0073a8"/>
<rect x="237" y="376.80" width="11" height="1.90" fill="#0073a8"/>
<rect x="237" y="443.10" width="11" height="1.90" fill="#0073a8"/>
<rect x="237" y="455.00" width="11" height="2.10" fill="#0073a8"/>
<rect x="237" y="513.60" width="11" height="2.10" fill="#f99793"/>
<rect x="237" y="517.10" width="11" height="2.10" fill="#f99793"/>
<rect x="237" y="644.70" width="11" height="1.70" fill="#0073a8"/>
<rect x="237" y="652.50" width="11" height="2.10" fill="#f99793"/>
<rect x="237" y="660.40" width="11" height="1.70" fill="#0073a8"/>
<rect x="237" y="681.90" width="11" height="2.40" fill="#f99793"/>
<rect x="237" y="683.70" width="11" height="1.70" fill="#0073a8"/>
<rect x="237" y="686.80" width="11" height="2.10" fill="#0073a8"/>
<rect x="237" y="711.00" width="11" height="4.00" fill="#0073a8"/>
<rect x="237" y="719.00" width="11" height="1.70" fill="#0073a8"/>
<rect x="237" y="730.60" width="11" height="2.10" fill="#f99793"/>
<rect x="237" y="746.00" width="11" height="2.20" fill="#f99793"/>
<rect x="237" y="758.00" width="11" height="1.70" fill="#0073a8"/>
<rect x="237" y="786.90" width="11" height="2.80" fill="#0073a8"/>
<rect x="248" y="103.50" width="11" height="1.70" fill="#0073a8"/>
<rect x="248" y="104.60" width="11" height="10.70" fill="#f99793"/>
<rect x="248" y="114.70" width="11" height="4.80" fill="#0073a8"/>
<rect x="248" y="118.90" width="11" height="2.40" fill="#f99793"/>
<rect x="248" y="120.70" width="11" height="8.30" fill="#0073a8"/>
<rect x="248" y="128.40" width="11" height="12.50" fill="#f99793"/>
<rect x="248" y="140.30" width="11" height="6.50" fill="#0073a8"/>
<rect x="248" y="146.20" width="11" height="2.30" fill="#f99793"/>
<rect x="248" y="147.90" width="11" height="6.70" fill="#0073a8"/>
<rect x="248" y="154.00" width="11" height="8.20" fill="#f99793"/>
<rect x="248" y="161.60" width="11" height="4.80" fill="#0073a8"/>
<rect x="248" y="165.80" width="11" height="23.80" fill="#f99793"/>
<rect x="248" y="189.00" width="11" height="18.50" fill="#0073a8"/>
<rect x="248" y="206.90" width="11" height="2.40" fill="#f99793"/>
<rect x="248" y="208.70" width="11" height="76.90" fill="#0073a8"/>
<rect x="248" y="285.00" width="11" height="2.30" fill="#f99793"/>
<rect x="248" y="286.70" width="11" height="2.70" fill="#0073a8"/>
<rect x="248" y="288.80" width="11" height="2.50" fill="#f99793"/>
<rect x="248" y="290.70" width="11" height="9.40" fill="#0073a8"/>
<rect x="248" y="304.00" width="11" height="1.70" fill="#0073a8"/>
<rect x="248" y="308.20" width="11" height="2.10" fill="#0073a8"/>
<rect x="248" y="312.10" width="11" height="2.00" fill="#f99793"/>
<rect x="248" y="329.90" width="11" height="2.10" fill="#0073a8"/>
<rect x="248" y="333.80" width="11" height="2.10" fill="#f99793"/>
<rect x="248" y="339.70" width="11" height="3.90" fill="#f99793"/>
<rect x="248" y="345.70" width="11" height="1.90" fill="#f99793"/>
<rect x="248" y="347.00" width="11" height="2.40" fill="#0073a8"/>
<rect x="248" y="348.80" width="11" height="0.30" fill="#f99793"/>
<rect x="248" y="353.00" width="11" height="2.10" fill="#f99793"/>
<rect x="248" y="357.60" width="11" height="24.80" fill="#0073a8"/>
<rect x="248" y="385.00" width="11" height="3.00" fill="#0073a8"/>
<rect x="248" y="390.30" width="11" height="36.70" fill="#0073a8"/>
<rect x="248" y="428.40" width="11" height="2.80" fill="#0073a8"/>
<rect x="248" y="433.70" width="11" height="17.10" fill="#0073a8"/>
<rect x="248" y="455.00" width="11" height="2.10" fill="#0073a8"/>
<rect x="248" y="459.20" width="11" height="1.70" fill="#0073a8"/>
<rect x="248" y="463.20" width="11" height="5.60" fill="#0073a8"/>
<rect x="248" y="488.40" width="11" height="1.70" fill="#0073a8"/>
<rect x="248" y="494.00" width="11" height="1.70" fill="#0073a8"/>
<rect x="248" y="500.30" width="11" height="1.80" fill="#0073a8"/>
<rect x="248" y="504.10" width="11" height="1.80" fill="#0073a8"/>
<rect x="248" y="513.60" width="11" height="2.10" fill="#f99793"/>
<rect x="248" y="517.10" width="11" height="2.10" fill="#f99793"/>
<rect x="248" y="615.60" width="11" height="5.60" fill="#0073a8"/>
<rect x="248" y="639.10" width="11" height="1.70" fill="#0073a8"/>
<rect x="248" y="652.50" width="11" height="2.10" fill="#f99793"/>
<rect x="248" y="670.00" width="11" height="1.70" fill="#0073a8"/>
<rect x="248" y="673.50" width="11" height="2.40" fill="#0073a8"/>
<rect x="248" y="677.70" width="11" height="7.70" fill="#0073a8"/>
<rect x="248" y="689.60" width="11" height="11.60" fill="#0073a8"/>
<rect x="248" y="711.00" width="11" height="27.00" fill="#0073a8"/>
<rect x="248" y="740.30" width="11" height="1.90" fill="#0073a8"/>
<rect x="248" y="746.20" width="11" height="60.10" fill="#0073a8"/>
<rect x="259" y="103.50" width="10" height="1.70" fill="#0073a8"/>
<rect x="259" y="104.60" width="10" height="5.10" fill="#f99793"/>
<rect x="259" y="109.10" width="10" height="24.00" fill="#0073a8"/>
<rect x="259" y="132.50" width="10" height="8.40" fill="#f99793"/>
<rect x="259" y="140.30" width="10" height="6.50" fill="#0073a8"/>
<rect x="259" y="146.20" width="10" height="2.30" fill="#f99793"/>
<rect x="259" y="147.90" width="10" height="20.20" fill="#0073a8"/>
<rect x="259" y="167.50" width="10" height="22.10" fill="#f99793"/>
<rect x="259" y="189.00" width="10" height="111.10" fill="#0073a8"/>
<rect x="259" y="308.20" width="10" height="2.10" fill="#0073a8"/>
<rect x="259" y="312.10" width="10" height="2.00" fill="#f99793"/>
<rect x="259" y="329.90" width="10" height="2.10" fill="#f99793"/>
<rect x="259" y="333.80" width="10" height="2.10" fill="#f99793"/>
<rect x="259" y="339.70" width="10" height="3.90" fill="#f99793"/>
<rect x="259" y="345.70" width="10" height="3.40" fill="#f99793"/>
<rect x="259" y="353.00" width="10" height="2.10" fill="#f99793"/>
<rect x="259" y="359.00" width="10" height="1.70" fill="#0073a8"/>
<rect x="259" y="362.80" width="10" height="1.70" fill="#0073a8"/>
<rect x="259" y="373.00" width="10" height="1.70" fill="#0073a8"/>
<rect x="259" y="382.70" width="10" height="1.80" fill="#0073a8"/>
<rect x="259" y="390.30" width="10" height="2.00" fill="#0073a8"/>
<rect x="259" y="394.10" width="10" height="1.80" fill="#0073a8"/>
<rect x="259" y="402.10" width="10" height="3.60" fill="#0073a8"/>
<rect x="259" y="449.10" width="10" height="1.70" fill="#0073a8"/>
<rect x="259" y="468.80" width="10" height="3.00" fill="#0073a8"/>
<rect x="259" y="474.60" width="10" height="3.50" fill="#0073a8"/>
<rect x="259" y="480.70" width="10" height="1.80" fill="#0073a8"/>
<rect x="259" y="490.10" width="10" height="1.80" fill="#0073a8"/>
<rect x="259" y="494.00" width="10" height="1.70" fill="#0073a8"/>
<rect x="259" y="504.10" width="10" height="1.80" fill="#0073a8"/>
<rect x="259" y="513.60" width="10" height="2.10" fill="#f99793"/>
<rect x="259" y="517.10" width="10" height="2.10" fill="#f99793"/>
<rect x="259" y="527.30" width="10" height="3.80" fill="#0073a8"/>
<rect x="259" y="543.00" width="10" height="1.80" fill="#0073a8"/>
<rect x="259" y="555.00" width="10" height="1.70" fill="#0073a8"/>
<rect x="259" y="586.20" width="10" height="1.70" fill="#0073a8"/>
<rect x="259" y="621.20" width="10" height="1.70" fill="#0073a8"/>
<rect x="259" y="627.10" width="10" height="1.80" fill="#0073a8"/>
<rect x="259" y="631.00" width="10" height="1.70" fill="#0073a8"/>
<rect x="259" y="652.50" width="10" height="2.10" fill="#0073a8"/>
<rect x="259" y="660.40" width="10" height="3.50" fill="#0073a8"/>
<rect x="259" y="668.10" width="10" height="1.90" fill="#0073a8"/>
<rect x="259" y="678.10" width="10" height="2.00" fill="#0073a8"/>
<rect x="259" y="681.90" width="10" height="2.40" fill="#f99793"/>
<rect x="259" y="683.70" width="10" height="1.70" fill="#0073a8"/>
<rect x="259" y="691.60" width="10" height="5.20" fill="#0073a8"/>
<rect x="259" y="701.20" width="10" height="5.90" fill="#0073a8"/>
<rect x="259" y="709.00" width="10" height="2.70" fill="#0073a8"/>
<rect x="259" y="715.00" width="10" height="7.90" fill="#0073a8"/>
<rect x="259" y="730.60" width="10" height="2.70" fill="#f99793"/>
<rect x="259" y="732.70" width="10" height="5.30" fill="#0073a8"/>
<rect x="259" y="740.30" width="10" height="15.40" fill="#0073a8"/>
<rect x="259" y="758.00" width="10" height="15.00" fill="#0073a8"/>
<rect x="259" y="775.80" width="10" height="11.10" fill="#0073a8"/>
<rect x="259" y="789.70" width="10" height="5.50" fill="#0073a8"/>
<rect x="259" y="797.20" width="10" height="2.80" fill="#0073a8"/>
<rect x="259" y="802.20" width="10" height="4.10" fill="#0073a8"/>
<rect x="269" y="103.50" width="11" height="1.70" fill="#0073a8"/>
<rect x="269" y="104.60" width="11" height="5.10" fill="#f99793"/>
<rect x="269" y="109.10" width="11" height="22.00" fill="#0073a8"/>
<rect x="269" y="130.50" width="11" height="10.40" fill="#f99793"/>
<rect x="269" y="140.30" width="11" height="6.50" fill="#0073a8"/>
<rect x="269" y="146.20" width="11" height="2.30" fill="#f99793"/>
<rect x="269" y="147.90" width="11" height="20.20" fill="#0073a8"/>
<rect x="269" y="167.50" width="11" height="22.10" fill="#f99793"/>
<rect x="269" y="189.00" width="11" height="45.80" fill="#0073a8"/>
<rect x="269" y="234.20" width="11" height="4.10" fill="#f99793"/>
<rect x="269" y="237.70" width="11" height="47.90" fill="#0073a8"/>
<rect x="269" y="285.00" width="11" height="2.30" fill="#f99793"/>
<rect x="269" y="286.70" width="11" height="17.30" fill="#0073a8"/>
<rect x="269" y="308.20" width="11" height="2.10" fill="#0073a8"/>
<rect x="269" y="312.10" width="11" height="2.00" fill="#f99793"/>
<rect x="269" y="329.90" width="11" height="2.10" fill="#f99793"/>
<rect x="269" y="333.80" width="11" height="2.10" fill="#f99793"/>
<rect x="269" y="339.70" width="11" height="3.90" fill="#f99793"/>
<rect x="269" y="345.70" width="11" height="3.40" fill="#f99793"/>
<rect x="269" y="353.00" width="11" height="2.10" fill="#f99793"/>
<rect x="269" y="378.90" width="11" height="1.90" fill="#0073a8"/>
<rect x="269" y="382.70" width="11" height="1.80" fill="#0073a8"/>
<rect x="269" y="400.40" width="11" height="3.50" fill="#0073a8"/>
<rect x="269" y="410.00" width="11" height="3.70" fill="#0073a8"/>
<rect x="269" y="420.00" width="11" height="1.70" fill="#0073a8"/>
<rect x="269" y="435.40" width="11" height="1.70" fill="#0073a8"/>
<rect x="269" y="455.00" width="11" height="2.10" fill="#0073a8"/>
<rect x="269" y="464.80" width="11" height="1.90" fill="#0073a8"/>
<rect x="269" y="474.60" width="11" height="3.50" fill="#0073a8"/>
<rect x="269" y="490.10" width="11" height="1.80" fill="#0073a8"/>
<rect x="269" y="494.00" width="11" height="1.70" fill="#0073a8"/>
<rect x="269" y="504.10" width="11" height="1.80" fill="#0073a8"/>
<rect x="269" y="513.60" width="11" height="2.10" fill="#f99793"/>
<rect x="269" y="517.10" width="11" height="2.10" fill="#f99793"/>
<rect x="269" y="527.30" width="11" height="3.80" fill="#0073a8"/>
<rect x="269" y="535.30" width="11" height="1.80" fill="#0073a8"/>
<rect x="269" y="539.10" width="11" height="1.80" fill="#0073a8"/>
<rect x="269" y="543.00" width="11" height="1.80" fill="#0073a8"/>
<rect x="269" y="555.00" width="11" height="1.70" fill="#0073a8"/>
<rect x="269" y="596.00" width="11" height="3.90" fill="#0073a8"/>
<rect x="269" y="601.60" width="11" height="2.10" fill="#0073a8"/>
<rect x="269" y="619.50" width="11" height="1.70" fill="#0073a8"/>
<rect x="269" y="627.10" width="11" height="7.40" fill="#0073a8"/>
<rect x="269" y="642.90" width="11" height="1.80" fill="#0073a8"/>
<rect x="269" y="648.50" width="11" height="1.90" fill="#0073a8"/>
<rect x="269" y="652.50" width="11" height="3.70" fill="#0073a8"/>
<rect x="269" y="660.40" width="11" height="3.50" fill="#0073a8"/>
<rect x="269" y="668.10" width="11" height="3.80" fill="#0073a8"/>
<rect x="269" y="678.10" width="11" height="2.00" fill="#0073a8"/>
<rect x="269" y="681.90" width="11" height="2.40" fill="#f99793"/>
<rect x="269" y="683.70" width="11" height="3.80" fill="#0073a8"/>
<rect x="269" y="691.60" width="11" height="1.70" fill="#0073a8"/>
<rect x="269" y="699.20" width="11" height="7.90" fill="#0073a8"/>
<rect x="269" y="711.00" width="11" height="2.00" fill="#0073a8"/>
<rect x="269" y="717.00" width="11" height="1.60" fill="#0073a8"/>
<rect x="269" y="722.90" width="11" height="1.90" fill="#0073a8"/>
<rect x="269" y="730.60" width="11" height="2.70" fill="#f99793"/>
<rect x="269" y="732.70" width="11" height="11.20" fill="#0073a8"/>
<rect x="269" y="746.20" width="11" height="9.50" fill="#0073a8"/>
<rect x="269" y="758.00" width="11" height="23.40" fill="#0073a8"/>
<rect x="269" y="785.00" width="11" height="21.30" fill="#0073a8"/>
<rect x="280" y="103.50" width="11" height="1.70" fill="#0073a8"/>
<rect x="280" y="104.60" width="11" height="7.00" fill="#f99793"/>
<rect x="280" y="111.00" width="11" height="20.10" fill="#0073a8"/>
<rect x="280" y="130.50" width="11" height="10.40" fill="#f99793"/>
<rect x="280" y="140.30" width="11" height="6.50" fill="#0073a8"/>
<rect x="280" y="146.20" width="11" height="2.30" fill="#f99793"/>
<rect x="280" y="147.90" width="11" height="20.20" fill="#0073a8"/>
<rect x="280" y="167.50" width="11" height="22.10" fill="#f99793"/>
<rect x="280" y="189.00" width="11" height="111.10" fill="#0073a8"/>
<rect x="280" y="308.20" width="11" height="2.10" fill="#0073a8"/>
<rect x="280" y="312.10" width="11" height="2.00" fill="#f99793"/>
<rect x="280" y="329.90" width="11" height="2.10" fill="#f99793"/>
<rect x="280" y="333.80" width="11" height="2.10" fill="#f99793"/>
<rect x="280" y="339.70" width="11" height="3.90" fill="#f99793"/>
<rect x="280" y="345.70" width="11" height="3.40" fill="#f99793"/>
<rect x="280" y="353.00" width="11" height="2.10" fill="#f99793"/>
<rect x="280" y="357.20" width="11" height="1.70" fill="#0073a8"/>
<rect x="280" y="390.30" width="11" height="5.90" fill="#0073a8"/>
<rect x="280" y="402.10" width="11" height="3.60" fill="#0073a8"/>
<rect x="280" y="410.00" width="11" height="1.90" fill="#0073a8"/>
<rect x="280" y="417.90" width="11" height="5.60" fill="#0073a8"/>
<rect x="280" y="439.60" width="11" height="1.70" fill="#0073a8"/>
<rect x="280" y="443.10" width="11" height="3.80" fill="#0073a8"/>
<rect x="280" y="455.00" width="11" height="2.10" fill="#0073a8"/>
<rect x="280" y="468.80" width="11" height="1.90" fill="#0073a8"/>
<rect x="280" y="483.00" width="11" height="3.30" fill="#0073a8"/>
<rect x="280" y="490.10" width="11" height="1.80" fill="#0073a8"/>
<rect x="280" y="494.00" width="11" height="1.70" fill="#0073a8"/>
<rect x="280" y="504.10" width="11" height="1.80" fill="#0073a8"/>
<rect x="280" y="513.60" width="11" height="2.10" fill="#f99793"/>
<rect x="280" y="517.10" width="11" height="2.10" fill="#f99793"/>
<rect x="280" y="648.50" width="11" height="1.90" fill="#0073a8"/>
<rect x="280" y="652.50" width="11" height="2.10" fill="#0073a8"/>
<rect x="280" y="660.40" width="11" height="1.70" fill="#0073a8"/>
<rect x="280" y="681.90" width="11" height="2.40" fill="#f99793"/>
<rect x="280" y="683.70" width="11" height="3.80" fill="#0073a8"/>
<rect x="280" y="693.30" width="11" height="3.50" fill="#0073a8"/>
<rect x="280" y="711.00" width="11" height="2.00" fill="#0073a8"/>
<rect x="280" y="730.60" width="11" height="2.10" fill="#f99793"/>
<rect x="280" y="746.00" width="11" height="2.20" fill="#f99793"/>
<rect x="291" y="103.50" width="11" height="1.70" fill="#0073a8"/>
<rect x="291" y="104.60" width="11" height="5.10" fill="#f99793"/>
<rect x="291" y="109.10" width="11" height="22.00" fill="#0073a8"/>
<rect x="291" y="130.50" width="11" height="10.40" fill="#f99793"/>
<rect x="291" y="140.30" width="11" height="6.50" fill="#0073a8"/>
<rect x="291" y="146.20" width="11" height="2.30" fill="#f99793"/>
<rect x="291" y="147.90" width="11" height="20.20" fill="#0073a8"/>
<rect x="291" y="167.50" width="11" height="20.20" fill="#f99793"/>
<rect x="291" y="187.10" width="11" height="113.00" fill="#0073a8"/>
<rect x="291" y="302.60" width="11" height="1.80" fill="#0073a8"/>
<rect x="291" y="308.20" width="11" height="2.10" fill="#f99793"/>
<rect x="291" y="312.10" width="11" height="2.00" fill="#f99793"/>
<rect x="291" y="329.90" width="11" height="2.10" fill="#f99793"/>
<rect x="291" y="333.80" width="11" height="2.10" fill="#f99793"/>
<rect x="291" y="339.70" width="11" height="3.90" fill="#f99793"/>
<rect x="291" y="345.70" width="11" height="3.40" fill="#f99793"/>
<rect x="291" y="353.00" width="11" height="2.10" fill="#f99793"/>
<rect x="291" y="359.00" width="11" height="1.70" fill="#0073a8"/>
<rect x="291" y="367.00" width="11" height="1.70" fill="#0073a8"/>
<rect x="291" y="376.80" width="11" height="3.50" fill="#0073a8"/>
<rect x="291" y="385.00" width="11" height="1.60" fill="#0073a8"/>
<rect x="291" y="436.10" width="11" height="12.60" fill="#0073a8"/>
<rect x="291" y="449.40" width="11" height="9.80" fill="#0073a8"/>
<rect x="291" y="460.60" width="11" height="2.60" fill="#0073a8"/>
<rect x="291" y="464.80" width="11" height="4.20" fill="#0073a8"/>
<rect x="291" y="471.10" width="11" height="3.50" fill="#0073a8"/>
<rect x="291" y="476.70" width="11" height="8.30" fill="#0073a8"/>
<rect x="291" y="488.40" width="11" height="3.50" fill="#0073a8"/>
<rect x="291" y="494.00" width="11" height="1.70" fill="#0073a8"/>
<rect x="291" y="500.30" width="11" height="1.80" fill="#0073a8"/>
<rect x="291" y="504.10" width="11" height="1.80" fill="#0073a8"/>
<rect x="291" y="508.00" width="11" height="3.50" fill="#0073a8"/>
<rect x="291" y="513.60" width="11" height="2.10" fill="#f99793"/>
<rect x="291" y="517.10" width="11" height="2.10" fill="#f99793"/>
<rect x="291" y="519.60" width="11" height="9.40" fill="#0073a8"/>
<rect x="291" y="537.10" width="11" height="3.80" fill="#0073a8"/>
<rect x="291" y="543.00" width="11" height="1.80" fill="#0073a8"/>
<rect x="291" y="548.90" width="11" height="1.80" fill="#0073a8"/>
<rect x="291" y="555.00" width="11" height="3.40" fill="#0073a8"/>
<rect x="291" y="560.30" width="11" height="3.70" fill="#0073a8"/>
<rect x="291" y="566.10" width="11" height="3.80" fill="#0073a8"/>
<rect x="291" y="584.10" width="11" height="1.80" fill="#0073a8"/>
<rect x="291" y="589.70" width="11" height="2.10" fill="#0073a8"/>
<rect x="291" y="596.00" width="11" height="3.90" fill="#0073a8"/>
<rect x="291" y="601.60" width="11" height="3.90" fill="#0073a8"/>
<rect x="291" y="609.30" width="11" height="2.10" fill="#0073a8"/>
<rect x="291" y="613.50" width="11" height="21.00" fill="#0073a8"/>
<rect x="291" y="648.50" width="11" height="6.30" fill="#0073a8"/>
<rect x="291" y="659.70" width="11" height="16.20" fill="#0073a8"/>
<rect x="291" y="677.70" width="11" height="4.80" fill="#0073a8"/>
<rect x="291" y="681.90" width="11" height="2.40" fill="#f99793"/>
<rect x="291" y="683.70" width="11" height="3.80" fill="#0073a8"/>
<rect x="291" y="691.70" width="11" height="5.60" fill="#0073a8"/>
<rect x="291" y="711.30" width="11" height="13.30" fill="#0073a8"/>
<rect x="291" y="730.60" width="11" height="2.10" fill="#f99793"/>
<rect x="291" y="746.00" width="11" height="2.20" fill="#f99793"/>
<rect x="302" y="103.50" width="11" height="1.70" fill="#0073a8"/>
<rect x="302" y="104.60" width="11" height="5.10" fill="#f99793"/>
<rect x="302" y="109.10" width="11" height="12.50" fill="#0073a8"/>
<rect x="302" y="121.00" width="11" height="2.30" fill="#f99793"/>
<rect x="302" y="122.70" width="11" height="8.40" fill="#0073a8"/>
<rect x="302" y="130.50" width="11" height="10.40" fill="#f99793"/>
<rect x="302" y="140.30" width="11" height="6.50" fill="#0073a8"/>
<rect x="302" y="146.20" width="11" height="2.30" fill="#f99793"/>
<rect x="302" y="147.90" width="11" height="20.20" fill="#0073a8"/>
<rect x="302" y="167.50" width="11" height="22.10" fill="#f99793"/>
<rect x="302" y="189.00" width="11" height="14.60" fill="#0073a8"/>
<rect x="302" y="203.00" width="11" height="2.40" fill="#f99793"/>
<rect x="302" y="204.80" width="11" height="30.00" fill="#0073a8"/>
<rect x="302" y="234.20" width="11" height="2.40" fill="#f99793"/>
<rect x="302" y="236.00" width="11" height="47.60" fill="#0073a8"/>
<rect x="302" y="283.00" width="11" height="2.20" fill="#f99793"/>
<rect x="302" y="284.60" width="11" height="4.80" fill="#0073a8"/>
<rect x="302" y="288.80" width="11" height="2.50" fill="#f99793"/>
<rect x="302" y="290.70" width="11" height="9.40" fill="#0073a8"/>
<rect x="302" y="306.80" width="11" height="3.50" fill="#0073a8"/>
<rect x="302" y="312.10" width="11" height="2.00" fill="#f99793"/>
<rect x="302" y="315.90" width="11" height="2.10" fill="#0073a8"/>
<rect x="302" y="319.80" width="11" height="2.10" fill="#0073a8"/>
<rect x="302" y="323.90" width="11" height="2.00" fill="#0073a8"/>
<rect x="302" y="330.00" width="11" height="7.60" fill="#0073a8"/>
<rect x="302" y="339.70" width="11" height="4.50" fill="#f99793"/>
<rect x="302" y="343.60" width="11" height="29.00" fill="#0073a8"/>
<rect x="302" y="385.00" width="11" height="3.00" fill="#0073a8"/>
<rect x="302" y="390.30" width="11" height="2.00" fill="#0073a8"/>
<rect x="302" y="396.20" width="11" height="3.50" fill="#0073a8"/>
<rect x="302" y="402.10" width="11" height="3.60" fill="#0073a8"/>
<rect x="302" y="408.10" width="11" height="3.80" fill="#0073a8"/>
<rect x="302" y="417.90" width="11" height="3.80" fill="#0073a8"/>
<rect x="302" y="423.90" width="11" height="2.00" fill="#0073a8"/>
<rect x="302" y="429.80" width="11" height="21.70" fill="#0073a8"/>
<rect x="302" y="452.90" width="11" height="6.10" fill="#0073a8"/>
<rect x="302" y="460.60" width="11" height="2.10" fill="#0073a8"/>
<rect x="302" y="464.80" width="11" height="4.90" fill="#0073a8"/>
<rect x="302" y="480.00" width="11" height="5.60" fill="#0073a8"/>
<rect x="302" y="513.60" width="11" height="2.10" fill="#f99793"/>
<rect x="302" y="517.10" width="11" height="2.10" fill="#f99793"/>
<rect x="302" y="533.00" width="11" height="1.90" fill="#0073a8"/>
<rect x="302" y="652.50" width="11" height="2.10" fill="#0073a8"/>
<rect x="302" y="681.90" width="11" height="5.60" fill="#0073a8"/>
<rect x="302" y="722.90" width="11" height="1.90" fill="#0073a8"/>
<rect x="302" y="728.80" width="11" height="5.90" fill="#0073a8"/>
<rect x="302" y="736.60" width="11" height="19.10" fill="#0073a8"/>
<rect x="302" y="758.00" width="11" height="34.40" fill="#0073a8"/>
<rect x="302" y="795.20" width="11" height="11.10" fill="#0073a8"/>
<rect x="313" y="103.50" width="11" height="1.70" fill="#0073a8"/>
<rect x="313" y="104.60" width="11" height="5.10" fill="#f99793"/>
<rect x="313" y="109.10" width="11" height="22.00" fill="#0073a8"/>
<rect x="313" y="130.50" width="11" height="10.40" fill="#f99793"/>
<rect x="313" y="140.30" width="11" height="6.50" fill="#0073a8"/>
<rect x="313" y="146.20" width="11" height="2.30" fill="#f99793"/>
<rect x="313" y="147.90" width="11" height="20.20" fill="#0073a8"/>
<rect x="313" y="167.50" width="11" height="22.10" fill="#f99793"/>
<rect x="313" y="189.00" width="11" height="8.20" fill="#0073a8"/>
<rect x="313" y="196.60" width="11" height="2.70" fill="#f99793"/>
<rect x="313" y="198.70" width="11" height="4.90" fill="#0073a8"/>
<rect x="313" y="203.00" width="11" height="2.40" fill="#f99793"/>
<rect x="313" y="204.80" width="11" height="65.00" fill="#0073a8"/>
<rect x="313" y="269.20" width="11" height="2.40" fill="#f99793"/>
<rect x="313" y="271.00" width="11" height="31.30" fill="#0073a8"/>
<rect x="313" y="308.20" width="11" height="2.10" fill="#f99793"/>
<rect x="313" y="312.10" width="11" height="2.00" fill="#f99793"/>
<rect x="313" y="329.90" width="11" height="2.10" fill="#f99793"/>
<rect x="313" y="333.80" width="11" height="2.10" fill="#f99793"/>
<rect x="313" y="339.70" width="11" height="3.90" fill="#f99793"/>
<rect x="313" y="345.70" width="11" height="3.40" fill="#f99793"/>
<rect x="313" y="353.00" width="11" height="2.10" fill="#f99793"/>
<rect x="313" y="480.00" width="11" height="5.60" fill="#0073a8"/>
<rect x="313" y="513.60" width="11" height="2.10" fill="#f99793"/>
<rect x="313" y="517.10" width="11" height="2.10" fill="#f99793"/>
<rect x="313" y="523.40" width="11" height="1.70" fill="#0073a8"/>
<rect x="313" y="527.30" width="11" height="3.40" fill="#0073a8"/>
<rect x="313" y="547.00" width="11" height="3.70" fill="#0073a8"/>
<rect x="313" y="552.80" width="11" height="3.90" fill="#0073a8"/>
<rect x="313" y="598.10" width="11" height="1.80" fill="#0073a8"/>
<rect x="313" y="633.10" width="11" height="1.80" fill="#0073a8"/>
<rect x="313" y="652.50" width="11" height="2.10" fill="#0073a8"/>
<rect x="313" y="659.70" width="11" height="10.30" fill="#0073a8"/>
<rect x="313" y="673.50" width="11" height="2.40" fill="#0073a8"/>
<rect x="313" y="678.10" width="11" height="9.40" fill="#0073a8"/>
<rect x="313" y="689.60" width="11" height="1.70" fill="#0073a8"/>
<rect x="313" y="695.20" width="11" height="3.90" fill="#0073a8"/>
<rect x="313" y="722.90" width="11" height="1.70" fill="#0073a8"/>
<rect x="313" y="730.60" width="11" height="2.10" fill="#f99793"/>
<rect x="313" y="746.00" width="11" height="2.20" fill="#f99793"/>
<rect x="324" y="103.50" width="11" height="1.70" fill="#0073a8"/>
<rect x="324" y="104.60" width="11" height="10.70" fill="#f99793"/>
<rect x="324" y="114.70" width="11" height="16.40" fill="#0073a8"/>
<rect x="324" y="130.50" width="11" height="10.40" fill="#f99793"/>
<rect x="324" y="140.30" width="11" height="6.50" fill="#0073a8"/>
<rect x="324" y="146.20" width="11" height="2.30" fill="#f99793"/>
<rect x="324" y="147.90" width="11" height="20.20" fill="#0073a8"/>
<rect x="324" y="167.50" width="11" height="22.10" fill="#f99793"/>
<rect x="324" y="189.00" width="11" height="14.60" fill="#0073a8"/>
<rect x="324" y="203.00" width="11" height="2.40" fill="#f99793"/>
<rect x="324" y="204.80" width="11" height="65.00" fill="#0073a8"/>
<rect x="324" y="269.20" width="11" height="2.40" fill="#f99793"/>
<rect x="324" y="271.00" width="11" height="29.10" fill="#0073a8"/>
<rect x="324" y="308.20" width="11" height="2.10" fill="#f99793"/>
<rect x="324" y="312.10" width="11" height="2.00" fill="#f99793"/>
<rect x="324" y="329.90" width="11" height="2.10" fill="#f99793"/>
<rect x="324" y="333.80" width="11" height="2.10" fill="#f99793"/>
<rect x="324" y="339.70" width="11" height="3.90" fill="#f99793"/>
<rect x="324" y="345.70" width="11" height="3.40" fill="#f99793"/>
<rect x="324" y="353.00" width="11" height="2.10" fill="#f99793"/>
<rect x="324" y="373.00" width="11" height="1.70" fill="#0073a8"/>
<rect x="324" y="445.20" width="11" height="1.80" fill="#0073a8"/>
<rect x="324" y="513.60" width="11" height="2.10" fill="#f99793"/>
<rect x="324" y="517.10" width="11" height="2.10" fill="#f99793"/>
<rect x="324" y="652.50" width="11" height="2.10" fill="#f99793"/>
<rect x="324" y="660.40" width="11" height="3.50" fill="#bfe5fa"/>
<rect x="324" y="668.10" width="11" height="3.60" fill="#bfe5fa"/>
<rect x="324" y="678.10" width="11" height="2.00" fill="#bfe5fa"/>
<rect x="324" y="681.90" width="11" height="2.40" fill="#f99793"/>
<rect x="324" y="683.70" width="11" height="3.80" fill="#bfe5fa"/>
<rect x="324" y="691.70" width="11" height="1.80" fill="#bfe5fa"/>
<rect x="324" y="695.50" width="11" height="1.80" fill="#bfe5fa"/>
<rect x="324" y="710.90" width="11" height="1.80" fill="#bfe5fa"/>
<rect x="324" y="716.90" width="11" height="3.50" fill="#bfe5fa"/>
<rect x="324" y="730.60" width="11" height="2.10" fill="#f99793"/>
<rect x="324" y="746.00" width="11" height="2.20" fill="#f99793"/>
<rect x="335" y="103.50" width="11" height="1.70" fill="#0073a8"/>
<rect x="335" y="104.60" width="11" height="10.70" fill="#f99793"/>
<rect x="335" y="114.70" width="11" height="16.40" fill="#0073a8"/>
<rect x="335" y="130.50" width="11" height="10.40" fill="#f99793"/>
<rect x="335" y="140.30" width="11" height="6.50" fill="#0073a8"/>
<rect x="335" y="146.20" width="11" height="2.30" fill="#f99793"/>
<rect x="335" y="147.90" width="11" height="20.20" fill="#0073a8"/>
<rect x="335" y="167.50" width="11" height="22.10" fill="#f99793"/>
<rect x="335" y="189.00" width="11" height="10.50" fill="#0073a8"/>
<rect x="335" y="198.90" width="11" height="2.60" fill="#f99793"/>
<rect x="335" y="200.90" width="11" height="2.70" fill="#0073a8"/>
<rect x="335" y="203.00" width="11" height="2.40" fill="#f99793"/>
<rect x="335" y="204.80" width="11" height="8.60" fill="#0073a8"/>
<rect x="335" y="212.80" width="11" height="2.40" fill="#f99793"/>
<rect x="335" y="214.60" width="11" height="20.20" fill="#0073a8"/>
<rect x="335" y="234.20" width="11" height="4.10" fill="#f99793"/>
<rect x="335" y="237.70" width="11" height="45.90" fill="#0073a8"/>
<rect x="335" y="283.00" width="11" height="2.20" fill="#f99793"/>
<rect x="335" y="284.60" width="11" height="15.50" fill="#0073a8"/>
<rect x="335" y="308.20" width="11" height="2.10" fill="#f99793"/>
<rect x="335" y="312.10" width="11" height="2.00" fill="#f99793"/>
<rect x="335" y="329.90" width="11" height="2.10" fill="#f99793"/>
<rect x="335" y="333.80" width="11" height="2.10" fill="#f99793"/>
<rect x="335" y="339.70" width="11" height="3.90" fill="#f99793"/>
<rect x="335" y="345.70" width="11" height="3.40" fill="#f99793"/>
<rect x="335" y="353.00" width="11" height="2.10" fill="#f99793"/>
<rect x="335" y="420.00" width="11" height="3.50" fill="#0073a8"/>
<rect x="335" y="431.60" width="11" height="1.70" fill="#0073a8"/>
<rect x="335" y="474.60" width="11" height="1.70" fill="#0073a8"/>
<rect x="335" y="513.60" width="11" height="2.10" fill="#f99793"/>
<rect x="335" y="517.10" width="11" height="2.10" fill="#f99793"/>
<rect x="335" y="640.80" width="11" height="3.90" fill="#0073a8"/>
<rect x="335" y="648.50" width="11" height="5.60" fill="#0073a8"/>
<rect x="335" y="660.40" width="11" height="3.50" fill="#bfe5fa"/>
<rect x="335" y="668.10" width="11" height="3.60" fill="#bfe5fa"/>
<rect x="335" y="678.10" width="11" height="2.00" fill="#bfe5fa"/>
<rect x="335" y="681.90" width="11" height="2.40" fill="#f99793"/>
<rect x="335" y="683.70" width="11" height="3.80" fill="#bfe5fa"/>
<rect x="335" y="691.70" width="11" height="1.80" fill="#bfe5fa"/>
<rect x="335" y="695.50" width="11" height="1.80" fill="#bfe5fa"/>
<rect x="335" y="710.90" width="11" height="1.80" fill="#bfe5fa"/>
<rect x="335" y="716.90" width="11" height="3.50" fill="#bfe5fa"/>
<rect x="335" y="730.60" width="11" height="2.10" fill="#f99793"/>
<rect x="335" y="746.00" width="11" height="2.20" fill="#f99793"/>
<rect x="346" y="103.50" width="10" height="1.70" fill="#0073a8"/>
<rect x="346" y="104.60" width="10" height="5.10" fill="#f99793"/>
<rect x="346" y="109.10" width="10" height="12.50" fill="#0073a8"/>
<rect x="346" y="121.00" width="10" height="2.30" fill="#f99793"/>
<rect x="346" y="122.70" width="10" height="8.40" fill="#0073a8"/>
<rect x="346" y="130.50" width="10" height="10.40" fill="#f99793"/>
<rect x="346" y="140.30" width="10" height="6.50" fill="#0073a8"/>
<rect x="346" y="146.20" width="10" height="2.30" fill="#f99793"/>
<rect x="346" y="147.90" width="10" height="20.20" fill="#0073a8"/>
<rect x="346" y="167.50" width="10" height="22.10" fill="#f99793"/>
<rect x="346" y="189.00" width="10" height="4.70" fill="#0073a8"/>
<rect x="346" y="193.10" width="10" height="2.50" fill="#f99793"/>
<rect x="346" y="195.00" width="10" height="8.60" fill="#0073a8"/>
<rect x="346" y="203.00" width="10" height="2.40" fill="#f99793"/>
<rect x="346" y="204.80" width="10" height="10.70" fill="#0073a8"/>
<rect x="346" y="214.90" width="10" height="2.40" fill="#f99793"/>
<rect x="346" y="216.70" width="10" height="4.50" fill="#0073a8"/>
<rect x="346" y="220.60" width="10" height="2.50" fill="#f99793"/>
<rect x="346" y="222.50" width="10" height="25.90" fill="#0073a8"/>
<rect x="346" y="247.80" width="10" height="16.10" fill="#f99793"/>
<rect x="346" y="263.30" width="10" height="36.80" fill="#0073a8"/>
<rect x="346" y="308.20" width="10" height="2.10" fill="#f99793"/>
<rect x="346" y="312.10" width="10" height="2.00" fill="#f99793"/>
<rect x="346" y="329.90" width="10" height="2.10" fill="#f99793"/>
<rect x="346" y="333.80" width="10" height="2.10" fill="#f99793"/>
<rect x="346" y="339.70" width="10" height="3.90" fill="#f99793"/>
<rect x="346" y="345.70" width="10" height="3.40" fill="#f99793"/>
<rect x="346" y="353.00" width="10" height="2.10" fill="#f99793"/>
<rect x="346" y="435.40" width="10" height="1.70" fill="#0073a8"/>
<rect x="346" y="445.20" width="10" height="1.80" fill="#0073a8"/>
<rect x="346" y="449.10" width="10" height="1.70" fill="#0073a8"/>
<rect x="346" y="480.70" width="10" height="1.80" fill="#bfe5fa"/>
<rect x="346" y="490.10" width="10" height="1.80" fill="#bfe5fa"/>
<rect x="346" y="508.00" width="10" height="1.70" fill="#bfe5fa"/>
<rect x="346" y="513.60" width="10" height="5.60" fill="#bfe5fa"/>
<rect x="346" y="529.00" width="10" height="1.70" fill="#bfe5fa"/>
<rect x="346" y="532.90" width="10" height="8.00" fill="#bfe5fa"/>
<rect x="346" y="544.80" width="10" height="4.10" fill="#bfe5fa"/>
<rect x="346" y="550.70" width="10" height="2.10" fill="#bfe5fa"/>
<rect x="346" y="566.10" width="10" height="2.10" fill="#bfe5fa"/>
<rect x="346" y="578.00" width="10" height="2.00" fill="#bfe5fa"/>
<rect x="346" y="596.00" width="10" height="1.70" fill="#bfe5fa"/>
<rect x="346" y="601.90" width="10" height="3.90" fill="#bfe5fa"/>
<rect x="346" y="607.50" width="10" height="3.90" fill="#bfe5fa"/>
<rect x="346" y="635.00" width="10" height="11.40" fill="#bfe5fa"/>
<rect x="346" y="650.60" width="10" height="5.60" fill="#bfe5fa"/>
<rect x="346" y="660.40" width="10" height="3.50" fill="#bfe5fa"/>
<rect x="346" y="681.90" width="10" height="1.80" fill="#f99793"/>
<rect x="346" y="718.70" width="10" height="1.70" fill="#bfe5fa"/>
<rect x="346" y="730.60" width="10" height="2.10" fill="#f99793"/>
<rect x="346" y="746.00" width="10" height="2.20" fill="#f99793"/>
<rect x="356" y="103.50" width="11" height="1.70" fill="#0073a8"/>
<rect x="356" y="104.60" width="11" height="10.70" fill="#f99793"/>
<rect x="356" y="114.70" width="11" height="16.40" fill="#0073a8"/>
<rect x="356" y="130.50" width="11" height="10.40" fill="#f99793"/>
<rect x="356" y="140.30" width="11" height="6.50" fill="#0073a8"/>
<rect x="356" y="146.20" width="11" height="2.30" fill="#f99793"/>
<rect x="356" y="147.90" width="11" height="20.20" fill="#0073a8"/>
<rect x="356" y="167.50" width="11" height="22.10" fill="#f99793"/>
<rect x="356" y="189.00" width="11" height="14.60" fill="#0073a8"/>
<rect x="356" y="203.00" width="11" height="2.40" fill="#f99793"/>
<rect x="356" y="204.80" width="11" height="8.60" fill="#0073a8"/>
<rect x="356" y="212.80" width="11" height="2.40" fill="#f99793"/>
<rect x="356" y="214.60" width="11" height="22.00" fill="#0073a8"/>
<rect x="356" y="236.00" width="11" height="2.30" fill="#f99793"/>
<rect x="356" y="237.70" width="11" height="3.00" fill="#0073a8"/>
<rect x="356" y="240.10" width="11" height="4.20" fill="#f99793"/>
<rect x="356" y="243.70" width="11" height="6.80" fill="#0073a8"/>
<rect x="356" y="249.90" width="11" height="2.40" fill="#f99793"/>
<rect x="356" y="251.70" width="11" height="2.70" fill="#0073a8"/>
<rect x="356" y="253.80" width="11" height="2.70" fill="#f99793"/>
<rect x="356" y="255.90" width="11" height="6.20" fill="#0073a8"/>
<rect x="356" y="261.50" width="11" height="2.40" fill="#f99793"/>
<rect x="356" y="263.30" width="11" height="32.20" fill="#0073a8"/>
<rect x="356" y="294.90" width="11" height="2.40" fill="#f99793"/>
<rect x="356" y="296.70" width="11" height="3.40" fill="#0073a8"/>
<rect x="356" y="308.20" width="11" height="2.10" fill="#0073a8"/>
<rect x="356" y="385.00" width="11" height="1.60" fill="#0073a8"/>
<rect x="356" y="417.90" width="11" height="1.80" fill="#0073a8"/>
<rect x="356" y="445.20" width="11" height="1.80" fill="#0073a8"/>
<rect x="356" y="480.70" width="11" height="1.80" fill="#bfe5fa"/>
<rect x="356" y="490.10" width="11" height="1.80" fill="#bfe5fa"/>
<rect x="356" y="508.00" width="11" height="1.70" fill="#bfe5fa"/>
<rect x="356" y="513.60" width="11" height="5.60" fill="#bfe5fa"/>
<rect x="356" y="529.00" width="11" height="1.70" fill="#bfe5fa"/>
<rect x="356" y="532.90" width="11" height="8.00" fill="#bfe5fa"/>
<rect x="356" y="544.80" width="11" height="4.10" fill="#bfe5fa"/>
<rect x="356" y="550.70" width="11" height="2.10" fill="#bfe5fa"/>
<rect x="356" y="566.10" width="11" height="2.10" fill="#bfe5fa"/>
<rect x="356" y="578.00" width="11" height="2.00" fill="#bfe5fa"/>
<rect x="356" y="596.00" width="11" height="1.70" fill="#bfe5fa"/>
<rect x="356" y="601.90" width="11" height="3.90" fill="#bfe5fa"/>
<rect x="356" y="607.50" width="11" height="3.90" fill="#bfe5fa"/>
<rect x="356" y="635.00" width="11" height="11.40" fill="#bfe5fa"/>
<rect x="356" y="650.60" width="11" height="5.60" fill="#bfe5fa"/>
<rect x="356" y="660.40" width="11" height="3.50" fill="#bfe5fa"/>
<rect x="356" y="683.70" width="11" height="1.70" fill="#bfe5fa"/>
<rect x="356" y="718.70" width="11" height="1.70" fill="#bfe5fa"/>
<rect x="367" y="103.50" width="11" height="1.70" fill="#0073a8"/>
<rect x="367" y="104.60" width="11" height="3.00" fill="#f99793"/>
<rect x="367" y="107.00" width="11" height="2.30" fill="#bfe5fa"/>
<rect x="367" y="108.70" width="11" height="14.60" fill="#0073a8"/>
<rect x="367" y="122.70" width="11" height="2.40" fill="#f99793"/>
<rect x="367" y="124.50" width="11" height="6.60" fill="#0073a8"/>
<rect x="367" y="130.50" width="11" height="10.40" fill="#f99793"/>
<rect x="367" y="140.30" width="11" height="6.50" fill="#0073a8"/>
<rect x="367" y="146.20" width="11" height="2.30" fill="#f99793"/>
<rect x="367" y="147.90" width="11" height="20.20" fill="#0073a8"/>
<rect x="367" y="167.50" width="11" height="19.90" fill="#f99793"/>
<rect x="367" y="186.80" width="11" height="2.80" fill="#bfe5fa"/>
<rect x="367" y="189.00" width="11" height="45.80" fill="#0073a8"/>
<rect x="367" y="234.20" width="11" height="2.40" fill="#bfe5fa"/>
<rect x="367" y="236.00" width="11" height="2.70" fill="#0073a8"/>
<rect x="367" y="238.10" width="11" height="2.60" fill="#bfe5fa"/>
<rect x="367" y="240.10" width="11" height="8.30" fill="#0073a8"/>
<rect x="367" y="247.80" width="11" height="2.70" fill="#bfe5fa"/>
<rect x="367" y="249.90" width="11" height="19.90" fill="#0073a8"/>
<rect x="367" y="269.20" width="11" height="2.40" fill="#bfe5fa"/>
<rect x="367" y="271.00" width="11" height="29.70" fill="#0073a8"/>
<rect x="367" y="300.10" width="11" height="2.50" fill="#bfe5fa"/>
<rect x="367" y="306.50" width="11" height="3.80" fill="#bfe5fa"/>
<rect x="367" y="312.10" width="11" height="2.00" fill="#f99793"/>
<rect x="367" y="329.90" width="11" height="2.10" fill="#f99793"/>
<rect x="367" y="333.80" width="11" height="2.10" fill="#f99793"/>
<rect x="367" y="339.70" width="11" height="3.90" fill="#f99793"/>
<rect x="367" y="345.70" width="11" height="3.40" fill="#f99793"/>
<rect x="367" y="353.00" width="11" height="2.10" fill="#f99793"/>
<rect x="367" y="358.60" width="11" height="2.10" fill="#bfe5fa"/>
<rect x="367" y="362.80" width="11" height="4.00" fill="#bfe5fa"/>
<rect x="367" y="369.10" width="11" height="1.90" fill="#0073a8"/>
<rect x="367" y="372.60" width="11" height="6.30" fill="#bfe5fa"/>
<rect x="367" y="382.40" width="11" height="5.60" fill="#bfe5fa"/>
<rect x="367" y="390.30" width="11" height="2.60" fill="#0073a8"/>
<rect x="367" y="392.30" width="11" height="4.50" fill="#bfe5fa"/>
<rect x="367" y="396.20" width="11" height="1.70" fill="#0073a8"/>
<rect x="367" y="398.30" width="11" height="4.10" fill="#bfe5fa"/>
<rect x="367" y="401.80" width="11" height="2.10" fill="#0073a8"/>
<rect x="367" y="410.00" width="11" height="4.30" fill="#0073a8"/>
<rect x="367" y="413.70" width="11" height="1.40" fill="#bfe5fa"/>
<rect x="367" y="420.00" width="11" height="2.30" fill="#0073a8"/>
<rect x="367" y="421.70" width="11" height="3.90" fill="#bfe5fa"/>
<rect x="367" y="429.80" width="11" height="2.40" fill="#bfe5fa"/>
<rect x="367" y="431.60" width="11" height="2.30" fill="#0073a8"/>
<rect x="367" y="433.30" width="11" height="2.70" fill="#bfe5fa"/>
<rect x="367" y="435.40" width="11" height="2.30" fill="#0073a8"/>
<rect x="367" y="437.10" width="11" height="2.40" fill="#bfe5fa"/>
<rect x="367" y="438.90" width="11" height="2.70" fill="#0073a8"/>
<rect x="367" y="441.00" width="11" height="2.70" fill="#bfe5fa"/>
<rect x="367" y="443.10" width="11" height="2.50" fill="#0073a8"/>
<rect x="367" y="445.00" width="11" height="11.40" fill="#bfe5fa"/>
<rect x="367" y="456.70" width="11" height="2.60" fill="#0073a8"/>
<rect x="367" y="458.70" width="11" height="2.30" fill="#bfe5fa"/>
<rect x="367" y="464.80" width="11" height="1.90" fill="#0073a8"/>
<rect x="367" y="467.60" width="11" height="2.80" fill="#bfe5fa"/>
<rect x="367" y="476.70" width="11" height="1.90" fill="#bfe5fa"/>
<rect x="367" y="488.40" width="11" height="2.30" fill="#bfe5fa"/>
<rect x="367" y="490.10" width="11" height="1.80" fill="#0073a8"/>
<rect x="367" y="494.00" width="11" height="1.70" fill="#0073a8"/>
<rect x="367" y="508.00" width="11" height="2.30" fill="#0073a8"/>
<rect x="367" y="509.70" width="11" height="1.80" fill="#bfe5fa"/>
<rect x="367" y="513.60" width="11" height="2.10" fill="#f99793"/>
<rect x="367" y="517.10" width="11" height="2.10" fill="#f99793"/>
<rect x="367" y="525.10" width="11" height="1.80" fill="#bfe5fa"/>
<rect x="367" y="533.00" width="11" height="2.50" fill="#0073a8"/>
<rect x="367" y="534.90" width="11" height="1.80" fill="#bfe5fa"/>
<rect x="367" y="538.80" width="11" height="2.10" fill="#bfe5fa"/>
<rect x="367" y="543.00" width="11" height="1.80" fill="#0073a8"/>
<rect x="367" y="548.90" width="11" height="1.80" fill="#0073a8"/>
<rect x="367" y="552.80" width="11" height="3.90" fill="#0073a8"/>
<rect x="367" y="568.00" width="11" height="4.40" fill="#0073a8"/>
<rect x="367" y="578.00" width="11" height="5.70" fill="#0073a8"/>
<rect x="367" y="601.90" width="11" height="1.80" fill="#bfe5fa"/>
<rect x="367" y="609.30" width="11" height="2.10" fill="#0073a8"/>
<rect x="367" y="625.10" width="11" height="2.00" fill="#0073a8"/>
<rect x="367" y="639.10" width="11" height="1.70" fill="#0073a8"/>
<rect x="367" y="652.50" width="11" height="2.10" fill="#f99793"/>
<rect x="367" y="659.70" width="11" height="6.30" fill="#0073a8"/>
<rect x="367" y="668.10" width="11" height="1.90" fill="#0073a8"/>
<rect x="367" y="673.70" width="11" height="1.30" fill="#0073a8"/>
<rect x="367" y="681.90" width="11" height="3.50" fill="#0073a8"/>
<rect x="367" y="701.10" width="11" height="3.90" fill="#0073a8"/>
<rect x="367" y="719.00" width="11" height="1.70" fill="#0073a8"/>
<rect x="367" y="722.90" width="11" height="3.80" fill="#bfe5fa"/>
<rect x="367" y="728.80" width="11" height="3.50" fill="#bfe5fa"/>
<rect x="367" y="736.50" width="11" height="2.10" fill="#bfe5fa"/>
<rect x="367" y="746.30" width="11" height="1.90" fill="#bfe5fa"/>
<rect x="367" y="769.40" width="11" height="1.70" fill="#bfe5fa"/>
<rect x="367" y="777.20" width="11" height="2.20" fill="#bfe5fa"/>
<rect x="378" y="103.50" width="11" height="1.70" fill="#0073a8"/>
<rect x="378" y="104.60" width="11" height="4.70" fill="#f99793"/>
<rect x="378" y="108.70" width="11" height="6.60" fill="#0073a8"/>
<rect x="378" y="114.70" width="11" height="18.40" fill="#bfe5fa"/>
<rect x="378" y="132.50" width="11" height="8.40" fill="#f99793"/>
<rect x="378" y="140.30" width="11" height="6.50" fill="#0073a8"/>
<rect x="378" y="146.20" width="11" height="2.30" fill="#f99793"/>
<rect x="378" y="147.90" width="11" height="20.20" fill="#0073a8"/>
<rect x="378" y="167.50" width="11" height="19.90" fill="#f99793"/>
<rect x="378" y="186.80" width="11" height="2.80" fill="#bfe5fa"/>
<rect x="378" y="189.00" width="11" height="6.60" fill="#0073a8"/>
<rect x="378" y="195.00" width="11" height="2.60" fill="#bfe5fa"/>
<rect x="378" y="197.00" width="11" height="72.80" fill="#0073a8"/>
<rect x="378" y="269.20" width="11" height="2.40" fill="#f99793"/>
<rect x="378" y="271.00" width="11" height="29.10" fill="#0073a8"/>
<rect x="378" y="304.00" width="11" height="6.30" fill="#bfe5fa"/>
<rect x="378" y="312.10" width="11" height="2.00" fill="#f99793"/>
<rect x="378" y="319.80" width="11" height="2.10" fill="#bfe5fa"/>
<rect x="378" y="329.90" width="11" height="2.10" fill="#0073a8"/>
<rect x="378" y="333.80" width="11" height="2.10" fill="#f99793"/>
<rect x="378" y="339.70" width="11" height="3.90" fill="#f99793"/>
<rect x="378" y="345.70" width="11" height="3.40" fill="#f99793"/>
<rect x="378" y="349.50" width="11" height="2.10" fill="#bfe5fa"/>
<rect x="378" y="353.00" width="11" height="2.10" fill="#bfe5fa"/>
<rect x="378" y="356.50" width="11" height="4.20" fill="#bfe5fa"/>
<rect x="378" y="371.20" width="11" height="5.60" fill="#bfe5fa"/>
<rect x="378" y="382.40" width="11" height="6.10" fill="#bfe5fa"/>
<rect x="378" y="390.30" width="11" height="3.10" fill="#bfe5fa"/>
<rect x="378" y="396.20" width="11" height="3.50" fill="#bfe5fa"/>
<rect x="378" y="402.10" width="11" height="3.60" fill="#0073a8"/>
<rect x="378" y="411.60" width="11" height="4.90" fill="#bfe5fa"/>
<rect x="378" y="417.90" width="11" height="2.40" fill="#0073a8"/>
<rect x="378" y="419.70" width="11" height="5.90" fill="#bfe5fa"/>
<rect x="378" y="429.80" width="11" height="1.40" fill="#bfe5fa"/>
<rect x="378" y="439.60" width="11" height="11.20" fill="#bfe5fa"/>
<rect x="378" y="455.00" width="11" height="4.00" fill="#bfe5fa"/>
<rect x="378" y="461.00" width="11" height="5.70" fill="#bfe5fa"/>
<rect x="378" y="468.30" width="11" height="2.10" fill="#bfe5fa"/>
<rect x="378" y="494.00" width="11" height="1.70" fill="#bfe5fa"/>
<rect x="378" y="513.60" width="11" height="2.10" fill="#f99793"/>
<rect x="378" y="517.10" width="11" height="2.10" fill="#f99793"/>
<rect x="378" y="543.00" width="11" height="1.80" fill="#bfe5fa"/>
<rect x="378" y="555.00" width="11" height="1.70" fill="#bfe5fa"/>
<rect x="378" y="570.30" width="11" height="2.10" fill="#bfe5fa"/>
<rect x="378" y="642.90" width="11" height="1.80" fill="#bfe5fa"/>
<rect x="378" y="648.50" width="11" height="1.90" fill="#bfe5fa"/>
<rect x="378" y="652.50" width="11" height="2.10" fill="#bfe5fa"/>
<rect x="378" y="678.10" width="11" height="2.00" fill="#bfe5fa"/>
<rect x="378" y="681.90" width="11" height="3.50" fill="#bfe5fa"/>
<rect x="378" y="691.70" width="11" height="5.60" fill="#bfe5fa"/>
<rect x="378" y="703.00" width="11" height="2.00" fill="#bfe5fa"/>
<rect x="378" y="715.10" width="11" height="7.40" fill="#bfe5fa"/>
<rect x="378" y="730.60" width="11" height="2.10" fill="#f99793"/>
<rect x="378" y="746.00" width="11" height="2.20" fill="#f99793"/>
<rect x="389" y="103.50" width="11" height="1.70" fill="#0073a8"/>
<rect x="389" y="104.60" width="11" height="2.00" fill="#f99793"/>
<rect x="389" y="106.00" width="11" height="3.30" fill="#bfe5fa"/>
<rect x="389" y="108.70" width="11" height="24.80" fill="#0073a8"/>
<rect x="389" y="132.90" width="11" height="3.80" fill="#bfe5fa"/>
<rect x="389" y="136.10" width="11" height="4.80" fill="#f99793"/>
<rect x="389" y="140.30" width="11" height="6.50" fill="#0073a8"/>
<rect x="389" y="146.20" width="11" height="2.30" fill="#f99793"/>
<rect x="389" y="147.90" width="11" height="12.70" fill="#0073a8"/>
<rect x="389" y="160.00" width="11" height="2.20" fill="#bfe5fa"/>
<rect x="389" y="161.60" width="11" height="6.50" fill="#0073a8"/>
<rect x="389" y="167.50" width="11" height="3.10" fill="#bfe5fa"/>
<rect x="389" y="170.00" width="11" height="3.70" fill="#f99793"/>
<rect x="389" y="173.10" width="11" height="16.50" fill="#bfe5fa"/>
<rect x="389" y="189.00" width="11" height="10.30" fill="#0073a8"/>
<rect x="389" y="198.70" width="11" height="2.80" fill="#bfe5fa"/>
<rect x="389" y="200.90" width="11" height="14.60" fill="#0073a8"/>
<rect x="389" y="214.90" width="11" height="2.40" fill="#bfe5fa"/>
<rect x="389" y="216.70" width="11" height="2.40" fill="#0073a8"/>
<rect x="389" y="218.50" width="11" height="4.60" fill="#bfe5fa"/>
<rect x="389" y="222.50" width="11" height="14.10" fill="#0073a8"/>
<rect x="389" y="236.00" width="11" height="2.60" fill="#f99793"/>
<rect x="389" y="238.00" width="11" height="62.70" fill="#0073a8"/>
<rect x="389" y="300.10" width="11" height="2.50" fill="#bfe5fa"/>
<rect x="389" y="304.00" width="11" height="6.30" fill="#bfe5fa"/>
<rect x="389" y="312.10" width="11" height="2.00" fill="#f99793"/>
<rect x="389" y="329.90" width="11" height="2.10" fill="#f99793"/>
<rect x="389" y="333.80" width="11" height="2.10" fill="#f99793"/>
<rect x="389" y="339.70" width="11" height="3.90" fill="#f99793"/>
<rect x="389" y="345.70" width="11" height="3.40" fill="#f99793"/>
<rect x="389" y="353.00" width="11" height="2.10" fill="#f99793"/>
<rect x="389" y="358.60" width="11" height="2.10" fill="#bfe5fa"/>
<rect x="389" y="362.80" width="11" height="4.00" fill="#bfe5fa"/>
<rect x="389" y="371.20" width="11" height="18.80" fill="#bfe5fa"/>
<rect x="389" y="390.60" width="11" height="1.70" fill="#bfe5fa"/>
<rect x="389" y="394.10" width="11" height="4.90" fill="#bfe5fa"/>
<rect x="389" y="402.10" width="11" height="1.80" fill="#bfe5fa"/>
<rect x="389" y="413.70" width="11" height="2.10" fill="#bfe5fa"/>
<rect x="389" y="418.60" width="11" height="7.00" fill="#bfe5fa"/>
<rect x="389" y="435.40" width="11" height="1.70" fill="#bfe5fa"/>
<rect x="389" y="441.00" width="11" height="6.30" fill="#bfe5fa"/>
<rect x="389" y="468.30" width="11" height="2.10" fill="#bfe5fa"/>
<rect x="389" y="480.70" width="11" height="1.80" fill="#bfe5fa"/>
<rect x="389" y="490.10" width="11" height="1.80" fill="#bfe5fa"/>
<rect x="389" y="494.00" width="11" height="1.70" fill="#bfe5fa"/>
<rect x="389" y="504.10" width="11" height="1.80" fill="#bfe5fa"/>
<rect x="389" y="509.70" width="11" height="1.80" fill="#bfe5fa"/>
<rect x="389" y="517.10" width="11" height="2.10" fill="#f99793"/>
<rect x="389" y="519.60" width="11" height="2.00" fill="#bfe5fa"/>
<rect x="389" y="525.10" width="11" height="1.80" fill="#bfe5fa"/>
<rect x="389" y="533.00" width="11" height="1.90" fill="#bfe5fa"/>
<rect x="389" y="538.80" width="11" height="2.10" fill="#bfe5fa"/>
<rect x="389" y="543.00" width="11" height="1.80" fill="#bfe5fa"/>
<rect x="389" y="560.50" width="11" height="2.10" fill="#bfe5fa"/>
<rect x="389" y="596.00" width="11" height="1.70" fill="#bfe5fa"/>
<rect x="389" y="601.90" width="11" height="1.80" fill="#bfe5fa"/>
<rect x="389" y="605.80" width="11" height="1.70" fill="#bfe5fa"/>
<rect x="389" y="609.30" width="11" height="2.10" fill="#bfe5fa"/>
<rect x="389" y="613.50" width="11" height="5.60" fill="#bfe5fa"/>
<rect x="389" y="627.10" width="11" height="1.80" fill="#bfe5fa"/>
<rect x="389" y="631.00" width="11" height="1.70" fill="#bfe5fa"/>
<rect x="389" y="640.80" width="11" height="2.10" fill="#bfe5fa"/>
<rect x="389" y="652.50" width="11" height="2.10" fill="#bfe5fa"/>
<rect x="389" y="660.40" width="11" height="5.10" fill="#bfe5fa"/>
<rect x="389" y="667.20" width="11" height="4.50" fill="#bfe5fa"/>
<rect x="389" y="681.90" width="11" height="3.50" fill="#bfe5fa"/>
<rect x="389" y="693.80" width="11" height="4.90" fill="#bfe5fa"/>
<rect x="389" y="710.90" width="11" height="1.80" fill="#bfe5fa"/>
<rect x="389" y="715.10" width="11" height="1.80" fill="#bfe5fa"/>
<rect x="389" y="719.00" width="11" height="16.80" fill="#bfe5fa"/>
<rect x="389" y="740.00" width="11" height="2.10" fill="#bfe5fa"/>
<rect x="389" y="744.20" width="11" height="8.40" fill="#bfe5fa"/>
<rect x="389" y="754.00" width="11" height="17.60" fill="#bfe5fa"/>
<rect x="389" y="775.80" width="11" height="5.60" fill="#bfe5fa"/>
<rect x="389" y="785.00" width="11" height="8.30" fill="#bfe5fa"/>
<rect x="389" y="795.20" width="11" height="11.10" fill="#bfe5fa"/>
<rect x="400" y="103.50" width="11" height="1.70" fill="#0073a8"/>
<rect x="400" y="104.60" width="11" height="4.70" fill="#bfe5fa"/>
<rect x="400" y="108.70" width="11" height="22.40" fill="#0073a8"/>
<rect x="400" y="130.50" width="11" height="10.40" fill="#bfe5fa"/>
<rect x="400" y="140.30" width="11" height="6.50" fill="#0073a8"/>
<rect x="400" y="146.20" width="11" height="2.30" fill="#bfe5fa"/>
<rect x="400" y="147.90" width="11" height="20.20" fill="#0073a8"/>
<rect x="400" y="167.50" width="11" height="22.10" fill="#bfe5fa"/>
<rect x="400" y="189.00" width="11" height="14.60" fill="#0073a8"/>
<rect x="400" y="203.00" width="11" height="2.40" fill="#bfe5fa"/>
<rect x="400" y="204.80" width="11" height="31.80" fill="#0073a8"/>
<rect x="400" y="236.00" width="11" height="2.60" fill="#bfe5fa"/>
<rect x="400" y="238.00" width="11" height="16.40" fill="#0073a8"/>
<rect x="400" y="253.80" width="11" height="2.70" fill="#bfe5fa"/>
<rect x="400" y="255.90" width="11" height="13.90" fill="#0073a8"/>
<rect x="400" y="269.20" width="11" height="2.40" fill="#bfe5fa"/>
<rect x="400" y="271.00" width="11" height="29.70" fill="#0073a8"/>
<rect x="400" y="300.10" width="11" height="1.10" fill="#bfe5fa"/>
<rect x="400" y="306.10" width="11" height="2.70" fill="#bfe5fa"/>
<rect x="400" y="308.20" width="11" height="2.70" fill="#0073a8"/>
<rect x="400" y="310.30" width="11" height="0.70" fill="#bfe5fa"/>
<rect x="400" y="312.40" width="11" height="3.50" fill="#bfe5fa"/>
<rect x="400" y="319.80" width="11" height="2.40" fill="#bfe5fa"/>
<rect x="400" y="323.90" width="11" height="2.20" fill="#bfe5fa"/>
<rect x="400" y="327.80" width="11" height="10.20" fill="#bfe5fa"/>
<rect x="400" y="339.70" width="11" height="4.50" fill="#f99793"/>
<rect x="400" y="343.60" width="11" height="0.30" fill="#bfe5fa"/>
<rect x="400" y="345.70" width="11" height="7.90" fill="#bfe5fa"/>
<rect x="400" y="353.00" width="11" height="2.70" fill="#f99793"/>
<rect x="400" y="355.10" width="11" height="5.60" fill="#bfe5fa"/>
<rect x="400" y="368.40" width="11" height="14.30" fill="#bfe5fa"/>
<rect x="400" y="386.60" width="11" height="13.80" fill="#bfe5fa"/>
<rect x="400" y="401.80" width="11" height="2.40" fill="#bfe5fa"/>
<rect x="400" y="405.70" width="11" height="2.40" fill="#bfe5fa"/>
<rect x="400" y="411.60" width="11" height="2.50" fill="#bfe5fa"/>
<rect x="400" y="417.50" width="11" height="4.50" fill="#bfe5fa"/>
<rect x="400" y="427.70" width="11" height="2.70" fill="#bfe5fa"/>
<rect x="400" y="429.80" width="11" height="4.10" fill="#0073a8"/>
<rect x="400" y="433.30" width="11" height="2.10" fill="#bfe5fa"/>
<rect x="400" y="437.10" width="11" height="4.30" fill="#bfe5fa"/>
<rect x="400" y="442.80" width="11" height="2.40" fill="#bfe5fa"/>
<rect x="400" y="448.70" width="11" height="6.90" fill="#bfe5fa"/>
<rect x="400" y="455.00" width="11" height="2.30" fill="#0073a8"/>
<rect x="400" y="456.70" width="11" height="2.50" fill="#bfe5fa"/>
<rect x="400" y="460.60" width="11" height="2.40" fill="#bfe5fa"/>
<rect x="400" y="464.60" width="11" height="10.40" fill="#bfe5fa"/>
<rect x="400" y="476.50" width="11" height="2.30" fill="#bfe5fa"/>
<rect x="400" y="480.20" width="11" height="1.20" fill="#bfe5fa"/>
<rect x="400" y="488.40" width="11" height="2.30" fill="#bfe5fa"/>
<rect x="400" y="490.10" width="11" height="2.40" fill="#0073a8"/>
<rect x="400" y="491.90" width="11" height="0.70" fill="#bfe5fa"/>
<rect x="400" y="508.00" width="11" height="2.00" fill="#bfe5fa"/>
<rect x="400" y="513.60" width="11" height="4.20" fill="#bfe5fa"/>
<rect x="400" y="533.20" width="11" height="2.10" fill="#bfe5fa"/>
<rect x="400" y="537.10" width="11" height="3.80" fill="#bfe5fa"/>
<rect x="400" y="542.80" width="11" height="2.00" fill="#bfe5fa"/>
<rect x="400" y="552.80" width="11" height="2.20" fill="#bfe5fa"/>
<rect x="400" y="560.10" width="11" height="7.90" fill="#bfe5fa"/>
<rect x="400" y="572.40" width="11" height="2.10" fill="#bfe5fa"/>
<rect x="400" y="578.00" width="11" height="1.90" fill="#bfe5fa"/>
<rect x="400" y="581.30" width="11" height="2.40" fill="#bfe5fa"/>
<rect x="400" y="585.50" width="11" height="2.80" fill="#bfe5fa"/>
<rect x="400" y="595.30" width="11" height="2.80" fill="#bfe5fa"/>
<rect x="400" y="601.60" width="11" height="2.10" fill="#bfe5fa"/>
<rect x="400" y="605.10" width="11" height="2.40" fill="#bfe5fa"/>
<rect x="400" y="609.30" width="11" height="2.40" fill="#bfe5fa"/>
<rect x="400" y="622.60" width="11" height="2.50" fill="#bfe5fa"/>
<rect x="400" y="635.20" width="11" height="1.40" fill="#bfe5fa"/>
<rect x="400" y="652.70" width="11" height="2.00" fill="#f99793"/>
<rect x="400" y="654.10" width="11" height="2.10" fill="#bfe5fa"/>
<rect x="400" y="660.40" width="11" height="11.20" fill="#bfe5fa"/>
<rect x="400" y="673.90" width="11" height="2.00" fill="#bfe5fa"/>
<rect x="400" y="677.70" width="11" height="10.20" fill="#bfe5fa"/>
<rect x="400" y="689.60" width="11" height="2.10" fill="#bfe5fa"/>
<rect x="400" y="693.50" width="11" height="5.60" fill="#bfe5fa"/>
<rect x="400" y="701.10" width="11" height="12.00" fill="#bfe5fa"/>
<rect x="400" y="718.70" width="11" height="16.00" fill="#bfe5fa"/>
<rect x="400" y="736.50" width="11" height="1.80" fill="#bfe5fa"/>
<rect x="400" y="740.00" width="11" height="2.50" fill="#bfe5fa"/>
<rect x="400" y="745.90" width="11" height="6.00" fill="#bfe5fa"/>
<rect x="400" y="753.80" width="11" height="6.10" fill="#bfe5fa"/>
<rect x="400" y="761.70" width="11" height="14.10" fill="#bfe5fa"/>
<rect x="400" y="777.20" width="11" height="11.60" fill="#bfe5fa"/>
<rect x="400" y="791.00" width="11" height="12.50" fill="#bfe5fa"/>
<rect x="411" y="103.50" width="11" height="1.70" fill="#0073a8"/>
<rect x="411" y="104.60" width="11" height="10.70" fill="#bfe5fa"/>
<rect x="411" y="114.70" width="11" height="16.40" fill="#0073a8"/>
<rect x="411" y="130.50" width="11" height="10.40" fill="#bfe5fa"/>
<rect x="411" y="140.30" width="11" height="6.50" fill="#0073a8"/>
<rect x="411" y="146.20" width="11" height="2.30" fill="#bfe5fa"/>
<rect x="411" y="147.90" width="11" height="20.20" fill="#0073a8"/>
<rect x="411" y="167.50" width="11" height="20.20" fill="#bfe5fa"/>
<rect x="411" y="187.10" width="11" height="16.50" fill="#0073a8"/>
<rect x="411" y="203.00" width="11" height="2.40" fill="#bfe5fa"/>
<rect x="411" y="204.80" width="11" height="49.60" fill="#0073a8"/>
<rect x="411" y="253.80" width="11" height="2.70" fill="#bfe5fa"/>
<rect x="411" y="255.90" width="11" height="44.80" fill="#0073a8"/>
<rect x="411" y="300.10" width="11" height="8.70" fill="#bfe5fa"/>
<rect x="411" y="308.20" width="11" height="2.70" fill="#0073a8"/>
<rect x="411" y="310.30" width="11" height="30.00" fill="#bfe5fa"/>
<rect x="411" y="339.70" width="11" height="2.70" fill="#f99793"/>
<rect x="411" y="341.80" width="11" height="85.90" fill="#bfe5fa"/>
<rect x="411" y="429.50" width="11" height="56.80" fill="#bfe5fa"/>
<rect x="411" y="488.40" width="11" height="3.50" fill="#bfe5fa"/>
<rect x="411" y="494.00" width="11" height="2.00" fill="#bfe5fa"/>
<rect x="411" y="499.60" width="11" height="2.10" fill="#bfe5fa"/>
<rect x="411" y="503.80" width="11" height="1.40" fill="#bfe5fa"/>
<rect x="411" y="507.70" width="11" height="132.00" fill="#bfe5fa"/>
<rect x="411" y="639.10" width="11" height="17.50" fill="#0073a8"/>
<rect x="411" y="656.00" width="11" height="0.20" fill="#bfe5fa"/>
<rect x="411" y="660.40" width="11" height="145.90" fill="#bfe5fa"/>
<rect x="422" y="103.50" width="11" height="1.70" fill="#0073a8"/>
<rect x="422" y="104.60" width="11" height="1.30" fill="#bfe5fa"/>
<rect x="422" y="105.30" width="11" height="2.00" fill="#f99793"/>
<rect x="422" y="106.70" width="11" height="4.90" fill="#bfe5fa"/>
<rect x="422" y="111.00" width="11" height="2.20" fill="#f99793"/>
<rect x="422" y="112.60" width="11" height="2.70" fill="#bfe5fa"/>
<rect x="422" y="114.70" width="11" height="16.40" fill="#0073a8"/>
<rect x="422" y="130.50" width="11" height="10.40" fill="#bfe5fa"/>
<rect x="422" y="140.30" width="11" height="6.50" fill="#0073a8"/>
<rect x="422" y="146.20" width="11" height="2.30" fill="#f99793"/>
<rect x="422" y="147.90" width="11" height="20.20" fill="#0073a8"/>
<rect x="422" y="167.50" width="11" height="2.80" fill="#bfe5fa"/>
<rect x="422" y="169.70" width="11" height="5.90" fill="#f99793"/>
<rect x="422" y="175.00" width="11" height="2.60" fill="#bfe5fa"/>
<rect x="422" y="177.00" width="11" height="4.80" fill="#f99793"/>
<rect x="422" y="181.20" width="11" height="8.40" fill="#bfe5fa"/>
<rect x="422" y="189.00" width="11" height="16.40" fill="#0073a8"/>
<rect x="422" y="204.80" width="11" height="2.40" fill="#bfe5fa"/>
<rect x="422" y="206.60" width="11" height="30.00" fill="#0073a8"/>
<rect x="422" y="236.00" width="11" height="2.60" fill="#bfe5fa"/>
<rect x="422" y="238.00" width="11" height="31.80" fill="#0073a8"/>
<rect x="422" y="269.20" width="11" height="2.40" fill="#bfe5fa"/>
<rect x="422" y="271.00" width="11" height="29.70" fill="#0073a8"/>
<rect x="422" y="300.10" width="11" height="15.80" fill="#bfe5fa"/>
<rect x="422" y="318.00" width="11" height="20.00" fill="#bfe5fa"/>
<rect x="422" y="339.70" width="11" height="2.70" fill="#f99793"/>
<rect x="422" y="341.80" width="11" height="43.20" fill="#bfe5fa"/>
<rect x="422" y="386.60" width="11" height="1.90" fill="#bfe5fa"/>
<rect x="422" y="390.00" width="11" height="2.70" fill="#bfe5fa"/>
<rect x="422" y="394.10" width="11" height="12.20" fill="#bfe5fa"/>
<rect x="422" y="410.00" width="11" height="49.20" fill="#bfe5fa"/>
<rect x="422" y="460.90" width="11" height="17.90" fill="#bfe5fa"/>
<rect x="422" y="481.10" width="11" height="1.50" fill="#bfe5fa"/>
<rect x="422" y="484.20" width="11" height="2.10" fill="#bfe5fa"/>
<rect x="422" y="489.80" width="11" height="2.10" fill="#bfe5fa"/>
<rect x="422" y="494.00" width="11" height="2.00" fill="#bfe5fa"/>
<rect x="422" y="499.60" width="11" height="2.10" fill="#bfe5fa"/>
<rect x="422" y="507.70" width="11" height="6.50" fill="#bfe5fa"/>
<rect x="422" y="513.60" width="11" height="2.70" fill="#f99793"/>
<rect x="422" y="515.70" width="11" height="3.50" fill="#bfe5fa"/>
<rect x="422" y="527.00" width="11" height="2.00" fill="#bfe5fa"/>
<rect x="422" y="533.00" width="11" height="2.30" fill="#bfe5fa"/>
<rect x="422" y="537.10" width="11" height="3.80" fill="#bfe5fa"/>
<rect x="422" y="542.80" width="11" height="5.80" fill="#bfe5fa"/>
<rect x="422" y="552.80" width="11" height="3.90" fill="#bfe5fa"/>
<rect x="422" y="560.50" width="11" height="2.10" fill="#bfe5fa"/>
<rect x="422" y="569.60" width="11" height="4.50" fill="#bfe5fa"/>
<rect x="422" y="578.00" width="11" height="6.10" fill="#bfe5fa"/>
<rect x="422" y="587.60" width="11" height="2.10" fill="#bfe5fa"/>
<rect x="422" y="593.90" width="11" height="2.10" fill="#bfe5fa"/>
<rect x="422" y="601.60" width="11" height="3.90" fill="#bfe5fa"/>
<rect x="422" y="607.50" width="11" height="17.60" fill="#bfe5fa"/>
<rect x="422" y="627.10" width="11" height="1.80" fill="#bfe5fa"/>
<rect x="422" y="634.90" width="11" height="4.20" fill="#bfe5fa"/>
<rect x="422" y="640.80" width="11" height="4.20" fill="#bfe5fa"/>
<rect x="422" y="646.70" width="11" height="1.80" fill="#bfe5fa"/>
<rect x="422" y="650.60" width="11" height="5.60" fill="#bfe5fa"/>
<rect x="422" y="660.40" width="11" height="5.60" fill="#bfe5fa"/>
<rect x="422" y="668.10" width="11" height="7.80" fill="#bfe5fa"/>
<rect x="422" y="677.70" width="11" height="2.10" fill="#bfe5fa"/>
<rect x="422" y="681.90" width="11" height="6.00" fill="#bfe5fa"/>
<rect x="422" y="689.60" width="11" height="7.70" fill="#bfe5fa"/>
<rect x="422" y="699.10" width="11" height="14.00" fill="#bfe5fa"/>
<rect x="422" y="716.90" width="11" height="2.10" fill="#bfe5fa"/>
<rect x="422" y="720.70" width="11" height="2.20" fill="#bfe5fa"/>
<rect x="422" y="726.70" width="11" height="15.70" fill="#bfe5fa"/>
<rect x="422" y="744.20" width="11" height="7.90" fill="#bfe5fa"/>
<rect x="422" y="753.80" width="11" height="52.50" fill="#bfe5fa"/>
<rect x="433" y="103.50" width="11" height="1.70" fill="#0073a8"/>
<rect x="433" y="104.60" width="11" height="0.90" fill="#bfe5fa"/>
<rect x="433" y="104.90" width="11" height="2.40" fill="#0073a8"/>
<rect x="433" y="106.70" width="11" height="2.60" fill="#bfe5fa"/>
<rect x="433" y="108.70" width="11" height="22.40" fill="#0073a8"/>
<rect x="433" y="130.50" width="11" height="12.10" fill="#bfe5fa"/>
<rect x="433" y="142.00" width="11" height="4.80" fill="#0073a8"/>
<rect x="433" y="146.20" width="11" height="2.30" fill="#bfe5fa"/>
<rect x="433" y="147.90" width="11" height="20.20" fill="#0073a8"/>
<rect x="433" y="167.50" width="11" height="20.20" fill="#bfe5fa"/>
<rect x="433" y="187.10" width="11" height="12.20" fill="#0073a8"/>
<rect x="433" y="198.70" width="11" height="2.80" fill="#bfe5fa"/>
<rect x="433" y="200.90" width="11" height="4.50" fill="#0073a8"/>
<rect x="433" y="204.80" width="11" height="2.40" fill="#bfe5fa"/>
<rect x="433" y="206.60" width="11" height="2.70" fill="#0073a8"/>
<rect x="433" y="208.70" width="11" height="2.60" fill="#bfe5fa"/>
<rect x="433" y="210.70" width="11" height="30.00" fill="#0073a8"/>
<rect x="433" y="240.10" width="11" height="4.20" fill="#bfe5fa"/>
<rect x="433" y="243.70" width="11" height="2.70" fill="#0073a8"/>
<rect x="433" y="245.80" width="11" height="2.70" fill="#bfe5fa"/>
<rect x="433" y="247.90" width="11" height="17.70" fill="#0073a8"/>
<rect x="433" y="265.00" width="11" height="4.60" fill="#bfe5fa"/>
<rect x="433" y="269.00" width="11" height="12.70" fill="#0073a8"/>
<rect x="433" y="281.10" width="11" height="4.10" fill="#bfe5fa"/>
<rect x="433" y="284.60" width="11" height="12.70" fill="#0073a8"/>
<rect x="433" y="296.70" width="11" height="2.30" fill="#bfe5fa"/>
<rect x="433" y="298.40" width="11" height="2.30" fill="#0073a8"/>
<rect x="433" y="300.10" width="11" height="10.20" fill="#bfe5fa"/>
<rect x="433" y="312.10" width="11" height="28.20" fill="#bfe5fa"/>
<rect x="433" y="339.70" width="11" height="2.70" fill="#f99793"/>
<rect x="433" y="341.80" width="11" height="85.90" fill="#bfe5fa"/>
<rect x="433" y="429.50" width="11" height="56.80" fill="#bfe5fa"/>
<rect x="433" y="488.40" width="11" height="3.50" fill="#bfe5fa"/>
<rect x="433" y="494.00" width="11" height="2.00" fill="#bfe5fa"/>
<rect x="433" y="499.60" width="11" height="2.10" fill="#bfe5fa"/>
<rect x="433" y="507.70" width="11" height="148.50" fill="#bfe5fa"/>
<rect x="433" y="660.40" width="11" height="27.50" fill="#bfe5fa"/>
<rect x="433" y="689.60" width="11" height="2.10" fill="#bfe5fa"/>
<rect x="433" y="693.50" width="11" height="5.60" fill="#bfe5fa"/>
<rect x="433" y="701.10" width="11" height="105.20" fill="#bfe5fa"/>
<rect x="444" y="103.50" width="10" height="1.70" fill="#0073a8"/>
<rect x="444" y="104.60" width="10" height="4.70" fill="#bfe5fa"/>
<rect x="444" y="108.70" width="10" height="10.80" fill="#0073a8"/>
<rect x="444" y="118.90" width="10" height="2.40" fill="#bfe5fa"/>
<rect x="444" y="120.70" width="10" height="10.40" fill="#0073a8"/>
<rect x="444" y="130.50" width="10" height="0.90" fill="#bfe5fa"/>
<rect x="444" y="130.80" width="10" height="2.30" fill="#f99793"/>
<rect x="444" y="132.50" width="10" height="8.40" fill="#bfe5fa"/>
<rect x="444" y="140.30" width="10" height="6.50" fill="#0073a8"/>
<rect x="444" y="146.20" width="10" height="2.30" fill="#bfe5fa"/>
<rect x="444" y="147.90" width="10" height="20.20" fill="#0073a8"/>
<rect x="444" y="167.50" width="10" height="4.80" fill="#bfe5fa"/>
<rect x="444" y="171.70" width="10" height="2.40" fill="#f99793"/>
<rect x="444" y="173.50" width="10" height="14.20" fill="#bfe5fa"/>
<rect x="444" y="187.10" width="10" height="88.60" fill="#0073a8"/>
<rect x="444" y="275.10" width="10" height="2.40" fill="#bfe5fa"/>
<rect x="444" y="276.90" width="10" height="23.80" fill="#0073a8"/>
<rect x="444" y="300.10" width="10" height="10.20" fill="#bfe5fa"/>
<rect x="444" y="312.10" width="10" height="28.20" fill="#bfe5fa"/>
<rect x="444" y="339.70" width="10" height="2.70" fill="#f99793"/>
<rect x="444" y="341.80" width="10" height="27.30" fill="#bfe5fa"/>
<rect x="444" y="371.00" width="10" height="55.00" fill="#bfe5fa"/>
<rect x="444" y="429.50" width="10" height="51.20" fill="#bfe5fa"/>
<rect x="444" y="482.80" width="10" height="3.50" fill="#bfe5fa"/>
<rect x="444" y="488.40" width="10" height="3.50" fill="#bfe5fa"/>
<rect x="444" y="494.00" width="10" height="2.00" fill="#bfe5fa"/>
<rect x="444" y="499.60" width="10" height="2.10" fill="#bfe5fa"/>
<rect x="444" y="507.70" width="10" height="16.00" fill="#bfe5fa"/>
<rect x="444" y="527.00" width="10" height="31.70" fill="#bfe5fa"/>
<rect x="444" y="560.50" width="10" height="3.80" fill="#bfe5fa"/>
<rect x="444" y="566.10" width="10" height="23.60" fill="#bfe5fa"/>
<rect x="444" y="591.80" width="10" height="43.20" fill="#bfe5fa"/>
<rect x="444" y="636.90" width="10" height="19.30" fill="#bfe5fa"/>
<rect x="444" y="660.40" width="10" height="11.20" fill="#bfe5fa"/>
<rect x="444" y="673.90" width="10" height="14.00" fill="#bfe5fa"/>
<rect x="444" y="689.60" width="10" height="2.10" fill="#bfe5fa"/>
<rect x="444" y="693.50" width="10" height="7.60" fill="#bfe5fa"/>
<rect x="444" y="703.00" width="10" height="25.80" fill="#bfe5fa"/>
<rect x="444" y="730.60" width="10" height="6.30" fill="#bfe5fa"/>
<rect x="444" y="740.00" width="10" height="4.20" fill="#bfe5fa"/>
<rect x="444" y="746.30" width="10" height="5.70" fill="#bfe5fa"/>
<rect x="444" y="767.50" width="10" height="1.40" fill="#bfe5fa"/>
<rect x="444" y="778.60" width="10" height="2.80" fill="#bfe5fa"/>
<rect x="454" y="103.50" width="11" height="33.20" fill="#bfe5fa"/>
<rect x="454" y="136.10" width="11" height="2.60" fill="#0073a8"/>
<rect x="454" y="138.10" width="11" height="2.80" fill="#bfe5fa"/>
<rect x="454" y="140.30" width="11" height="6.50" fill="#0073a8"/>
<rect x="454" y="146.20" width="11" height="2.30" fill="#bfe5fa"/>
<rect x="454" y="147.90" width="11" height="20.20" fill="#0073a8"/>
<rect x="454" y="167.50" width="11" height="22.10" fill="#bfe5fa"/>
<rect x="454" y="189.00" width="11" height="10.30" fill="#0073a8"/>
<rect x="454" y="198.70" width="11" height="2.80" fill="#bfe5fa"/>
<rect x="454" y="200.90" width="11" height="2.70" fill="#0073a8"/>
<rect x="454" y="203.00" width="11" height="4.20" fill="#bfe5fa"/>
<rect x="454" y="206.60" width="11" height="6.80" fill="#0073a8"/>
<rect x="454" y="212.80" width="11" height="2.40" fill="#bfe5fa"/>
<rect x="454" y="214.60" width="11" height="6.60" fill="#0073a8"/>
<rect x="454" y="220.60" width="11" height="2.50" fill="#bfe5fa"/>
<rect x="454" y="222.50" width="11" height="14.10" fill="#0073a8"/>
<rect x="454" y="236.00" width="11" height="2.60" fill="#bfe5fa"/>
<rect x="454" y="238.00" width="11" height="37.70" fill="#0073a8"/>
<rect x="454" y="275.10" width="11" height="2.40" fill="#bfe5fa"/>
<rect x="454" y="276.90" width="11" height="8.70" fill="#0073a8"/>
<rect x="454" y="285.00" width="11" height="2.30" fill="#bfe5fa"/>
<rect x="454" y="286.70" width="11" height="14.00" fill="#0073a8"/>
<rect x="454" y="300.10" width="11" height="40.20" fill="#bfe5fa"/>
<rect x="454" y="339.70" width="11" height="2.70" fill="#f99793"/>
<rect x="454" y="341.80" width="11" height="464.50" fill="#bfe5fa"/>
<rect x="465" y="103.50" width="11" height="1.70" fill="#0073a8"/>
<rect x="465" y="104.60" width="11" height="10.70" fill="#bfe5fa"/>
<rect x="465" y="114.70" width="11" height="2.70" fill="#0073a8"/>
<rect x="465" y="116.80" width="11" height="2.40" fill="#bfe5fa"/>
<rect x="465" y="118.60" width="11" height="2.70" fill="#0073a8"/>
<rect x="465" y="120.70" width="11" height="2.60" fill="#bfe5fa"/>
<rect x="465" y="122.70" width="11" height="8.40" fill="#0073a8"/>
<rect x="465" y="130.50" width="11" height="10.40" fill="#bfe5fa"/>
<rect x="465" y="140.30" width="11" height="6.50" fill="#0073a8"/>
<rect x="465" y="146.20" width="11" height="2.30" fill="#bfe5fa"/>
<rect x="465" y="147.90" width="11" height="20.20" fill="#0073a8"/>
<rect x="465" y="167.50" width="11" height="22.10" fill="#bfe5fa"/>
<rect x="465" y="189.00" width="11" height="14.60" fill="#0073a8"/>
<rect x="465" y="203.00" width="11" height="2.40" fill="#bfe5fa"/>
<rect x="465" y="204.80" width="11" height="2.70" fill="#0073a8"/>
<rect x="465" y="206.90" width="11" height="6.20" fill="#bfe5fa"/>
<rect x="465" y="212.50" width="11" height="32.10" fill="#0073a8"/>
<rect x="465" y="244.00" width="11" height="2.40" fill="#bfe5fa"/>
<rect x="465" y="245.80" width="11" height="29.90" fill="#0073a8"/>
<rect x="465" y="275.10" width="11" height="2.40" fill="#bfe5fa"/>
<rect x="465" y="276.90" width="11" height="8.70" fill="#0073a8"/>
<rect x="465" y="285.00" width="11" height="2.30" fill="#bfe5fa"/>
<rect x="465" y="286.70" width="11" height="14.00" fill="#0073a8"/>
<rect x="465" y="300.10" width="11" height="10.20" fill="#bfe5fa"/>
<rect x="465" y="312.10" width="11" height="3.80" fill="#bfe5fa"/>
<rect x="465" y="318.00" width="11" height="8.10" fill="#bfe5fa"/>
<rect x="465" y="327.80" width="11" height="4.20" fill="#bfe5fa"/>
<rect x="465" y="333.70" width="11" height="4.30" fill="#bfe5fa"/>
<rect x="465" y="339.70" width="11" height="4.50" fill="#f99793"/>
<rect x="465" y="343.60" width="11" height="62.40" fill="#bfe5fa"/>
<rect x="465" y="407.70" width="11" height="4.60" fill="#bfe5fa"/>
<rect x="465" y="414.00" width="11" height="13.70" fill="#bfe5fa"/>
<rect x="465" y="429.50" width="11" height="41.20" fill="#bfe5fa"/>
<rect x="465" y="487.70" width="11" height="4.20" fill="#bfe5fa"/>
<rect x="465" y="494.00" width="11" height="2.00" fill="#bfe5fa"/>
<rect x="465" y="508.00" width="11" height="1.70" fill="#bfe5fa"/>
<rect x="465" y="511.50" width="11" height="8.10" fill="#bfe5fa"/>
<rect x="465" y="523.40" width="11" height="1.70" fill="#bfe5fa"/>
<rect x="465" y="533.00" width="11" height="19.80" fill="#bfe5fa"/>
<rect x="465" y="556.70" width="11" height="2.00" fill="#bfe5fa"/>
<rect x="465" y="560.50" width="11" height="2.10" fill="#bfe5fa"/>
<rect x="465" y="568.00" width="11" height="6.10" fill="#bfe5fa"/>
<rect x="465" y="578.00" width="11" height="6.10" fill="#bfe5fa"/>
<rect x="465" y="585.90" width="11" height="2.40" fill="#bfe5fa"/>
<rect x="465" y="596.00" width="11" height="2.10" fill="#bfe5fa"/>
<rect x="465" y="601.60" width="11" height="3.90" fill="#bfe5fa"/>
<rect x="465" y="607.50" width="11" height="8.10" fill="#bfe5fa"/>
<rect x="465" y="617.30" width="11" height="1.80" fill="#bfe5fa"/>
<rect x="465" y="621.20" width="11" height="2.10" fill="#bfe5fa"/>
<rect x="465" y="635.00" width="11" height="11.70" fill="#bfe5fa"/>
<rect x="465" y="649.00" width="11" height="7.20" fill="#bfe5fa"/>
<rect x="465" y="660.40" width="11" height="5.60" fill="#bfe5fa"/>
<rect x="465" y="668.10" width="11" height="1.90" fill="#bfe5fa"/>
<rect x="465" y="681.90" width="11" height="2.40" fill="#f99793"/>
<rect x="465" y="683.70" width="11" height="2.40" fill="#bfe5fa"/>
<rect x="465" y="724.60" width="11" height="10.10" fill="#bfe5fa"/>
<rect x="465" y="736.50" width="11" height="1.80" fill="#bfe5fa"/>
<rect x="465" y="740.00" width="11" height="2.50" fill="#bfe5fa"/>
<rect x="465" y="744.20" width="11" height="28.00" fill="#bfe5fa"/>
<rect x="465" y="777.20" width="11" height="18.00" fill="#bfe5fa"/>
<rect x="465" y="796.60" width="11" height="9.70" fill="#bfe5fa"/>
<rect x="476" y="103.50" width="11" height="1.70" fill="#0073a8"/>
<rect x="476" y="104.60" width="11" height="4.70" fill="#bfe5fa"/>
<rect x="476" y="108.70" width="11" height="22.40" fill="#0073a8"/>
<rect x="476" y="130.50" width="11" height="10.40" fill="#bfe5fa"/>
<rect x="476" y="140.30" width="11" height="6.50" fill="#0073a8"/>
<rect x="476" y="146.20" width="11" height="2.30" fill="#bfe5fa"/>
<rect x="476" y="147.90" width="11" height="20.20" fill="#0073a8"/>
<rect x="476" y="167.50" width="11" height="20.20" fill="#bfe5fa"/>
<rect x="476" y="187.10" width="11" height="12.20" fill="#0073a8"/>
<rect x="476" y="198.70" width="11" height="2.80" fill="#bfe5fa"/>
<rect x="476" y="200.90" width="11" height="2.70" fill="#0073a8"/>
<rect x="476" y="203.00" width="11" height="2.40" fill="#bfe5fa"/>
<rect x="476" y="204.80" width="11" height="37.80" fill="#0073a8"/>
<rect x="476" y="242.00" width="11" height="2.50" fill="#f99793"/>
<rect x="476" y="243.90" width="11" height="41.70" fill="#0073a8"/>
<rect x="476" y="285.00" width="11" height="2.30" fill="#bfe5fa"/>
<rect x="476" y="286.70" width="11" height="17.90" fill="#0073a8"/>
<rect x="476" y="304.00" width="11" height="4.80" fill="#bfe5fa"/>
<rect x="476" y="308.20" width="11" height="2.70" fill="#0073a8"/>
<rect x="476" y="310.30" width="11" height="2.40" fill="#bfe5fa"/>
<rect x="476" y="312.10" width="11" height="4.40" fill="#0073a8"/>
<rect x="476" y="315.90" width="11" height="2.70" fill="#bfe5fa"/>
<rect x="476" y="318.00" width="11" height="2.40" fill="#0073a8"/>
<rect x="476" y="319.80" width="11" height="6.90" fill="#bfe5fa"/>
<rect x="476" y="326.10" width="11" height="10.00" fill="#0073a8"/>
<rect x="476" y="335.50" width="11" height="2.50" fill="#bfe5fa"/>
<rect x="476" y="339.70" width="11" height="2.70" fill="#f99793"/>
<rect x="476" y="341.80" width="11" height="29.80" fill="#0073a8"/>
<rect x="476" y="371.00" width="11" height="2.50" fill="#bfe5fa"/>
<rect x="476" y="372.90" width="11" height="12.20" fill="#0073a8"/>
<rect x="476" y="384.50" width="11" height="2.50" fill="#bfe5fa"/>
<rect x="476" y="386.40" width="11" height="2.70" fill="#0073a8"/>
<rect x="476" y="388.50" width="11" height="10.40" fill="#bfe5fa"/>
<rect x="476" y="398.30" width="11" height="6.20" fill="#0073a8"/>
<rect x="476" y="403.90" width="11" height="6.90" fill="#bfe5fa"/>
<rect x="476" y="410.20" width="11" height="2.30" fill="#0073a8"/>
<rect x="476" y="411.90" width="11" height="6.60" fill="#bfe5fa"/>
<rect x="476" y="417.90" width="11" height="8.00" fill="#0073a8"/>
<rect x="476" y="427.70" width="11" height="2.40" fill="#bfe5fa"/>
<rect x="476" y="429.50" width="11" height="12.10" fill="#0073a8"/>
<rect x="476" y="441.00" width="11" height="2.70" fill="#bfe5fa"/>
<rect x="476" y="443.10" width="11" height="4.40" fill="#0073a8"/>
<rect x="476" y="446.90" width="11" height="2.70" fill="#bfe5fa"/>
<rect x="476" y="449.00" width="11" height="2.40" fill="#0073a8"/>
<rect x="476" y="450.80" width="11" height="2.70" fill="#bfe5fa"/>
<rect x="476" y="452.90" width="11" height="6.50" fill="#0073a8"/>
<rect x="476" y="458.80" width="11" height="6.60" fill="#bfe5fa"/>
<rect x="476" y="464.80" width="11" height="6.50" fill="#0073a8"/>
<rect x="476" y="470.70" width="11" height="11.40" fill="#bfe5fa"/>
<rect x="476" y="485.60" width="11" height="6.30" fill="#bfe5fa"/>
<rect x="476" y="494.00" width="11" height="2.00" fill="#bfe5fa"/>
<rect x="476" y="499.60" width="11" height="2.10" fill="#bfe5fa"/>
<rect x="476" y="503.80" width="11" height="1.40" fill="#bfe5fa"/>
<rect x="476" y="509.70" width="11" height="12.00" fill="#bfe5fa"/>
<rect x="476" y="523.40" width="11" height="5.60" fill="#bfe5fa"/>
<rect x="476" y="531.10" width="11" height="5.60" fill="#bfe5fa"/>
<rect x="476" y="538.80" width="11" height="2.10" fill="#bfe5fa"/>
<rect x="476" y="544.70" width="11" height="14.00" fill="#bfe5fa"/>
<rect x="476" y="560.50" width="11" height="3.80" fill="#bfe5fa"/>
<rect x="476" y="566.10" width="11" height="25.70" fill="#bfe5fa"/>
<rect x="476" y="593.90" width="11" height="6.00" fill="#bfe5fa"/>
<rect x="476" y="601.60" width="11" height="3.90" fill="#bfe5fa"/>
<rect x="476" y="607.50" width="11" height="15.80" fill="#bfe5fa"/>
<rect x="476" y="625.10" width="11" height="19.90" fill="#bfe5fa"/>
<rect x="476" y="646.70" width="11" height="9.50" fill="#bfe5fa"/>
<rect x="476" y="660.40" width="11" height="3.60" fill="#bfe5fa"/>
<rect x="476" y="670.20" width="11" height="5.70" fill="#bfe5fa"/>
<rect x="476" y="677.70" width="11" height="2.10" fill="#bfe5fa"/>
<rect x="476" y="681.90" width="11" height="4.20" fill="#bfe5fa"/>
<rect x="476" y="689.60" width="11" height="7.70" fill="#bfe5fa"/>
<rect x="476" y="699.10" width="11" height="2.00" fill="#bfe5fa"/>
<rect x="476" y="703.00" width="11" height="2.00" fill="#bfe5fa"/>
<rect x="476" y="714.80" width="11" height="2.10" fill="#bfe5fa"/>
<rect x="476" y="720.70" width="11" height="4.20" fill="#bfe5fa"/>
<rect x="476" y="730.50" width="11" height="4.20" fill="#bfe5fa"/>
<rect x="476" y="736.50" width="11" height="1.80" fill="#bfe5fa"/>
<rect x="476" y="740.00" width="11" height="2.50" fill="#bfe5fa"/>
<rect x="476" y="744.20" width="11" height="23.30" fill="#bfe5fa"/>
<rect x="476" y="769.40" width="11" height="2.80" fill="#bfe5fa"/>
<rect x="476" y="779.40" width="11" height="3.30" fill="#bfe5fa"/>
<rect x="476" y="787.70" width="11" height="1.10" fill="#bfe5fa"/>
<rect x="476" y="791.00" width="11" height="1.40" fill="#bfe5fa"/>
<rect x="476" y="802.70" width="11" height="3.60" fill="#bfe5fa"/>
<rect x="487" y="103.50" width="11" height="1.70" fill="#0073a8"/>
<rect x="487" y="104.60" width="11" height="10.70" fill="#bfe5fa"/>
<rect x="487" y="114.70" width="11" height="16.40" fill="#0073a8"/>
<rect x="487" y="130.50" width="11" height="10.40" fill="#bfe5fa"/>
<rect x="487" y="140.30" width="11" height="6.50" fill="#0073a8"/>
<rect x="487" y="146.20" width="11" height="2.30" fill="#bfe5fa"/>
<rect x="487" y="147.90" width="11" height="20.20" fill="#0073a8"/>
<rect x="487" y="167.50" width="11" height="18.10" fill="#bfe5fa"/>
<rect x="487" y="185.00" width="11" height="2.70" fill="#f99793"/>
<rect x="487" y="187.10" width="11" height="2.50" fill="#bfe5fa"/>
<rect x="487" y="189.00" width="11" height="14.60" fill="#0073a8"/>
<rect x="487" y="203.00" width="11" height="2.40" fill="#bfe5fa"/>
<rect x="487" y="204.80" width="11" height="63.10" fill="#0073a8"/>
<rect x="487" y="267.30" width="11" height="2.50" fill="#bfe5fa"/>
<rect x="487" y="269.20" width="11" height="31.50" fill="#0073a8"/>
<rect x="487" y="300.10" width="11" height="8.70" fill="#bfe5fa"/>
<rect x="487" y="308.20" width="11" height="2.70" fill="#0073a8"/>
<rect x="487" y="310.30" width="11" height="30.00" fill="#bfe5fa"/>
<rect x="487" y="339.70" width="11" height="2.70" fill="#f99793"/>
<rect x="487" y="341.80" width="11" height="85.90" fill="#bfe5fa"/>
<rect x="487" y="429.50" width="11" height="62.40" fill="#bfe5fa"/>
<rect x="487" y="494.00" width="11" height="2.00" fill="#bfe5fa"/>
<rect x="487" y="499.60" width="11" height="5.60" fill="#bfe5fa"/>
<rect x="487" y="507.70" width="11" height="148.50" fill="#bfe5fa"/>
<rect x="487" y="660.40" width="11" height="27.50" fill="#bfe5fa"/>
<rect x="487" y="689.60" width="11" height="21.30" fill="#bfe5fa"/>
<rect x="487" y="712.70" width="11" height="93.60" fill="#bfe5fa"/>
</g>
<line x1="160.64" y1="104" x2="160.64" y2="806" stroke="#111" stroke-width="1" stroke-dasharray="2.8,2.9"/>
<line x1="258.56" y1="104" x2="258.56" y2="806" stroke="#111" stroke-width="1" stroke-dasharray="2.8,2.9"/>
<line x1="291.20" y1="104" x2="291.20" y2="806" stroke="#111" stroke-width="1" stroke-dasharray="2.8,2.9"/>
<rect x="128.2" y="103.3" width="369.6" height="703.2" fill="none" stroke="#1a1a1a" stroke-width="1"/>
<g shape-rendering="crispEdges">
<rect x="505.90" y="103.50" width="10.87" height="1.50" fill="#000"/>
<rect x="505.90" y="115.00" width="10.87" height="15.00" fill="#000"/>
<rect x="505.90" y="140.40" width="10.87" height="5.30" fill="#000"/>
<rect x="505.90" y="147.80" width="10.87" height="19.80" fill="#000"/>
<rect x="505.90" y="188.80" width="10.87" height="13.90" fill="#000"/>
<rect x="505.90" y="205.00" width="10.87" height="106.90" fill="#000"/>
<rect x="505.90" y="313.80" width="10.87" height="2.00" fill="#000"/>
<rect x="505.90" y="357.40" width="10.87" height="11.50" fill="#000"/>
<rect x="505.90" y="370.70" width="10.87" height="5.80" fill="#000"/>
<rect x="505.90" y="378.30" width="10.87" height="5.10" fill="#000"/>
<rect x="505.90" y="386.40" width="10.87" height="111.40" fill="#000"/>
<rect x="505.90" y="508.00" width="10.87" height="3.80" fill="#000"/>
<rect x="505.90" y="519.70" width="10.87" height="13.80" fill="#000"/>
<rect x="505.90" y="535.40" width="10.87" height="13.30" fill="#000"/>
<rect x="505.90" y="552.70" width="10.87" height="1.60" fill="#000"/>
<rect x="505.90" y="555.50" width="10.87" height="1.00" fill="#000"/>
<rect x="505.90" y="559.60" width="10.87" height="1.60" fill="#000"/>
<rect x="505.90" y="564.90" width="10.87" height="5.10" fill="#000"/>
<rect x="505.90" y="581.50" width="10.87" height="4.50" fill="#000"/>
<rect x="505.90" y="594.20" width="10.87" height="4.60" fill="#000"/>
<rect x="505.90" y="601.00" width="10.87" height="12.80" fill="#000"/>
<rect x="505.90" y="616.10" width="10.87" height="2.30" fill="#000"/>
<rect x="505.90" y="619.60" width="10.87" height="15.40" fill="#000"/>
<rect x="505.90" y="639.20" width="10.87" height="17.30" fill="#000"/>
<rect x="505.90" y="658.00" width="10.87" height="3.60" fill="#000"/>
<rect x="505.90" y="668.00" width="10.87" height="1.40" fill="#000"/>
<rect x="505.90" y="671.80" width="10.87" height="1.90" fill="#000"/>
<rect x="505.90" y="677.80" width="10.87" height="4.00" fill="#000"/>
<rect x="505.90" y="684.10" width="10.87" height="5.30" fill="#000"/>
<rect x="505.90" y="691.60" width="10.87" height="5.70" fill="#000"/>
<rect x="505.90" y="722.70" width="10.87" height="2.00" fill="#000"/>
<rect x="505.90" y="376.70" width="10.87" height="1.30" fill="#e6e3da"/>
<rect x="505.90" y="383.90" width="10.87" height="2.50" fill="#e6e3da"/>
<rect x="505.90" y="503.80" width="10.87" height="3.40" fill="#e6e3da"/>
<rect x="505.90" y="548.70" width="10.87" height="4.00" fill="#e6e3da"/>
<rect x="505.90" y="554.30" width="10.87" height="1.20" fill="#e6e3da"/>
<rect x="505.90" y="557.00" width="10.87" height="1.50" fill="#e6e3da"/>
<rect x="505.90" y="561.20" width="10.87" height="3.00" fill="#e6e3da"/>
<rect x="505.90" y="571.00" width="10.87" height="4.00" fill="#e6e3da"/>
<rect x="505.90" y="578.00" width="10.87" height="3.50" fill="#e6e3da"/>
<rect x="505.90" y="589.00" width="10.87" height="3.30" fill="#e6e3da"/>
<rect x="505.90" y="598.80" width="10.87" height="2.20" fill="#e6e3da"/>
<rect x="505.90" y="613.80" width="10.87" height="2.30" fill="#e6e3da"/>
<rect x="505.90" y="635.00" width="10.87" height="4.20" fill="#e6e3da"/>
<rect x="505.90" y="661.60" width="10.87" height="5.90" fill="#e6e3da"/>
<rect x="505.90" y="669.40" width="10.87" height="2.10" fill="#e6e3da"/>
<rect x="505.90" y="699.40" width="10.87" height="11.20" fill="#e6e3da"/>
<rect x="516.77" y="196.90" width="10.87" height="3.70" fill="#000"/>
<rect x="516.77" y="202.90" width="10.87" height="2.10" fill="#000"/>
<rect x="516.77" y="206.80" width="10.87" height="27.00" fill="#000"/>
<rect x="516.77" y="240.00" width="10.87" height="5.80" fill="#000"/>
<rect x="516.77" y="267.20" width="10.87" height="2.30" fill="#000"/>
<rect x="516.77" y="272.50" width="10.87" height="4.50" fill="#000"/>
<rect x="527.64" y="108.80" width="10.87" height="5.50" fill="#000"/>
<rect x="538.51" y="711.20" width="10.87" height="11.50" fill="#000"/>
<rect x="549.38" y="515.80" width="10.87" height="3.40" fill="#000"/>
<rect x="549.38" y="674.00" width="10.87" height="1.90" fill="#000"/>
<rect x="560.25" y="192.70" width="10.87" height="1.90" fill="#000"/>
<rect x="560.25" y="233.80" width="10.87" height="3.90" fill="#000"/>
<rect x="560.25" y="239.60" width="10.87" height="3.90" fill="#000"/>
<rect x="560.25" y="292.60" width="10.87" height="1.80" fill="#000"/>
<rect x="560.25" y="311.90" width="10.87" height="2.30" fill="#000"/>
<rect x="560.25" y="316.00" width="10.87" height="41.40" fill="#000"/>
</g>
<rect x="505.9" y="103.4" width="65.3" height="702.9" fill="none" stroke="#6a6a6a" stroke-width="1"/>
<rect x="580" y="103.5" width="10.2" height="196.6" fill="#548a5e"/>
<rect x="580" y="300.1" width="10.2" height="506.3" fill="#eef4bb"/>
<rect x="580" y="308.30" width="10.2" height="1.70" fill="#548a5e"/>
<rect x="580" y="312.10" width="10.2" height="1.80" fill="#548a5e"/>
<rect x="580" y="330.00" width="10.2" height="1.80" fill="#548a5e"/>
<rect x="580" y="334.00" width="10.2" height="1.70" fill="#548a5e"/>
<rect x="580" y="340.00" width="10.2" height="3.40" fill="#548a5e"/>
<rect x="580" y="345.80" width="10.2" height="3.10" fill="#548a5e"/>
<rect x="580" y="353.40" width="10.2" height="1.60" fill="#548a5e"/>
<rect x="580" y="514.00" width="10.2" height="1.40" fill="#548a5e"/>
<rect x="580" y="517.30" width="10.2" height="1.40" fill="#548a5e"/>
<rect x="580" y="652.80" width="10.2" height="1.40" fill="#548a5e"/>
<rect x="580" y="682.60" width="10.2" height="2.40" fill="#548a5e"/>
<rect x="580" y="730.90" width="10.2" height="1.50" fill="#548a5e"/>
<rect x="580" y="746.30" width="10.2" height="1.50" fill="#548a5e"/>
<line x1="579.8" y1="103.5" x2="579.8" y2="806.5" stroke="#555" stroke-width="0.8"/>
<line x1="590.5" y1="103.5" x2="590.5" y2="806.5" stroke="#222" stroke-width="1"/>
<line x1="579.3" y1="103.4" x2="620" y2="103.4" stroke="#555" stroke-width="1"/>
<line x1="579.3" y1="806.6" x2="620" y2="806.6" stroke="#555" stroke-width="1"/>
<line x1="590.7" y1="300.3" x2="620" y2="300.3" stroke="#444" stroke-width="1"/>
<line x1="590.7" y1="470.6" x2="620" y2="470.6" stroke="#444" stroke-width="1"/>
<line x1="590.7" y1="613.3" x2="620" y2="613.3" stroke="#444" stroke-width="1"/>
<line x1="590.7" y1="656.2" x2="620" y2="656.2" stroke="#444" stroke-width="1"/>
<line x1="590.7" y1="669.8" x2="620" y2="669.8" stroke="#444" stroke-width="1"/>
<line x1="590.7" y1="722.7" x2="620" y2="722.7" stroke="#444" stroke-width="1"/>
<text x="595.8" y="204.6" font-size="10.3" fill="#1a1a1a">Angiosperms</text>
<text x="595.8" y="388.6" font-size="10.3" fill="#1a1a1a">Gymnosperms</text>
<text x="595.8" y="545.1" font-size="10.3" fill="#1a1a1a">Monilophytes</text>
<text x="595.8" y="638.0" font-size="10.3" fill="#1a1a1a">Lycophytes</text>
<text x="595.8" y="667.0" font-size="10.3" fill="#1a1a1a">Hornworts</text>
<text x="595.8" y="699.9" font-size="10.3" fill="#1a1a1a">Liverworts</text>
<text x="595.8" y="768.6" font-size="10.3" fill="#1a1a1a">Mosses</text>
<g stroke-width="0.95">
<line x1="120.00" y1="106.14" x2="120.00" y2="107.89" stroke="#f89b9b"/>
<line x1="120.00" y1="106.14" x2="128.00" y2="106.14" stroke="#f89b9b"/>
<line x1="120.00" y1="107.89" x2="128.00" y2="107.89" stroke="#f89b9b"/>
<line x1="112.00" y1="107.01" x2="112.00" y2="109.65" stroke="#f89b9b"/>
<line x1="112.00" y1="107.01" x2="120.00" y2="107.01" stroke="#f89b9b"/>
<line x1="112.00" y1="109.65" x2="128.00" y2="109.65" stroke="#f89b9b"/>
<line x1="112.00" y1="111.41" x2="112.00" y2="113.16" stroke="#f89b9b"/>
<line x1="112.00" y1="111.41" x2="128.00" y2="111.41" stroke="#f89b9b"/>
<line x1="112.00" y1="113.16" x2="128.00" y2="113.16" stroke="#f89b9b"/>
<line x1="121.75" y1="114.92" x2="121.75" y2="116.68" stroke="#1e1e1e"/>
<line x1="121.75" y1="114.92" x2="128.00" y2="114.92" stroke="#1e1e1e"/>
<line x1="121.75" y1="116.68" x2="128.00" y2="116.68" stroke="#1e1e1e"/>
<line x1="115.50" y1="115.80" x2="115.50" y2="118.43" stroke="#1e1e1e"/>
<line x1="115.50" y1="115.80" x2="121.75" y2="115.80" stroke="#1e1e1e"/>
<line x1="115.50" y1="118.43" x2="128.00" y2="118.43" stroke="#1e1e1e"/>
<line x1="121.75" y1="120.19" x2="121.75" y2="121.95" stroke="#1e1e1e"/>
<line x1="121.75" y1="120.19" x2="128.00" y2="120.19" stroke="#1e1e1e"/>
<line x1="121.75" y1="121.95" x2="128.00" y2="121.95" stroke="#1e1e1e"/>
<line x1="115.50" y1="121.07" x2="115.50" y2="123.71" stroke="#1e1e1e"/>
<line x1="115.50" y1="121.07" x2="121.75" y2="121.07" stroke="#1e1e1e"/>
<line x1="115.50" y1="123.71" x2="128.00" y2="123.71" stroke="#1e1e1e"/>
<line x1="121.75" y1="125.46" x2="121.75" y2="127.22" stroke="#1e1e1e"/>
<line x1="121.75" y1="125.46" x2="128.00" y2="125.46" stroke="#1e1e1e"/>
<line x1="121.75" y1="127.22" x2="128.00" y2="127.22" stroke="#1e1e1e"/>
<line x1="115.50" y1="126.34" x2="115.50" y2="128.98" stroke="#1e1e1e"/>
<line x1="115.50" y1="126.34" x2="121.75" y2="126.34" stroke="#1e1e1e"/>
<line x1="115.50" y1="128.98" x2="128.00" y2="128.98" stroke="#1e1e1e"/>
<line x1="109.25" y1="122.39" x2="109.25" y2="127.66" stroke="#1e1e1e"/>
<line x1="109.25" y1="122.39" x2="115.50" y2="122.39" stroke="#1e1e1e"/>
<line x1="109.25" y1="127.66" x2="115.50" y2="127.66" stroke="#1e1e1e"/>
<line x1="103.00" y1="117.12" x2="103.00" y2="125.02" stroke="#1e1e1e"/>
<line x1="103.00" y1="117.12" x2="115.50" y2="117.12" stroke="#1e1e1e"/>
<line x1="103.00" y1="125.02" x2="109.25" y2="125.02" stroke="#1e1e1e"/>
<line x1="97.50" y1="112.28" x2="97.50" y2="121.07" stroke="#1e1e1e"/>
<line x1="97.50" y1="112.28" x2="108.80" y2="112.28" stroke="#1e1e1e"/>
<line x1="108.80" y1="112.28" x2="112.00" y2="112.28" stroke="#f89b9b"/>
<line x1="97.50" y1="121.07" x2="103.00" y2="121.07" stroke="#1e1e1e"/>
<line x1="93.50" y1="108.33" x2="93.50" y2="116.68" stroke="#1e1e1e"/>
<line x1="93.50" y1="108.33" x2="115.40" y2="108.33" stroke="#1e1e1e"/>
<line x1="115.40" y1="108.33" x2="112.00" y2="108.33" stroke="#f89b9b"/>
<line x1="93.50" y1="116.68" x2="97.50" y2="116.68" stroke="#1e1e1e"/>
<line x1="116.00" y1="130.73" x2="116.00" y2="132.49" stroke="#f89b9b"/>
<line x1="116.00" y1="130.73" x2="128.00" y2="130.73" stroke="#f89b9b"/>
<line x1="116.00" y1="132.49" x2="128.00" y2="132.49" stroke="#f89b9b"/>
<line x1="118.00" y1="134.25" x2="118.00" y2="136.00" stroke="#f89b9b"/>
<line x1="118.00" y1="134.25" x2="128.00" y2="134.25" stroke="#f89b9b"/>
<line x1="118.00" y1="136.00" x2="128.00" y2="136.00" stroke="#f89b9b"/>
<line x1="118.00" y1="137.76" x2="118.00" y2="139.52" stroke="#f89b9b"/>
<line x1="118.00" y1="137.76" x2="128.00" y2="137.76" stroke="#f89b9b"/>
<line x1="118.00" y1="139.52" x2="128.00" y2="139.52" stroke="#f89b9b"/>
<line x1="108.00" y1="135.13" x2="108.00" y2="138.64" stroke="#f89b9b"/>
<line x1="108.00" y1="135.13" x2="118.00" y2="135.13" stroke="#f89b9b"/>
<line x1="108.00" y1="138.64" x2="118.00" y2="138.64" stroke="#f89b9b"/>
<line x1="119.00" y1="141.28" x2="119.00" y2="143.03" stroke="#1e1e1e"/>
<line x1="119.00" y1="141.28" x2="128.00" y2="141.28" stroke="#1e1e1e"/>
<line x1="119.00" y1="143.03" x2="128.00" y2="143.03" stroke="#1e1e1e"/>
<line x1="110.00" y1="142.15" x2="110.00" y2="144.79" stroke="#1e1e1e"/>
<line x1="110.00" y1="142.15" x2="119.00" y2="142.15" stroke="#1e1e1e"/>
<line x1="110.00" y1="144.79" x2="128.00" y2="144.79" stroke="#1e1e1e"/>
<line x1="123.20" y1="148.30" x2="123.20" y2="150.06" stroke="#1e1e1e"/>
<line x1="123.20" y1="148.30" x2="128.00" y2="148.30" stroke="#1e1e1e"/>
<line x1="123.20" y1="150.06" x2="128.00" y2="150.06" stroke="#1e1e1e"/>
<line x1="123.20" y1="155.33" x2="123.20" y2="157.09" stroke="#1e1e1e"/>
<line x1="123.20" y1="155.33" x2="128.00" y2="155.33" stroke="#1e1e1e"/>
<line x1="123.20" y1="157.09" x2="128.00" y2="157.09" stroke="#1e1e1e"/>
<line x1="118.40" y1="156.21" x2="118.40" y2="158.85" stroke="#1e1e1e"/>
<line x1="118.40" y1="156.21" x2="123.20" y2="156.21" stroke="#1e1e1e"/>
<line x1="118.40" y1="158.85" x2="128.00" y2="158.85" stroke="#1e1e1e"/>
<line x1="113.60" y1="153.57" x2="113.60" y2="157.53" stroke="#1e1e1e"/>
<line x1="113.60" y1="153.57" x2="128.00" y2="153.57" stroke="#1e1e1e"/>
<line x1="113.60" y1="157.53" x2="118.40" y2="157.53" stroke="#1e1e1e"/>
<line x1="108.80" y1="151.82" x2="108.80" y2="155.55" stroke="#1e1e1e"/>
<line x1="108.80" y1="151.82" x2="128.00" y2="151.82" stroke="#1e1e1e"/>
<line x1="108.80" y1="155.55" x2="113.60" y2="155.55" stroke="#1e1e1e"/>
<line x1="104.00" y1="149.18" x2="104.00" y2="153.68" stroke="#1e1e1e"/>
<line x1="104.00" y1="149.18" x2="123.20" y2="149.18" stroke="#1e1e1e"/>
<line x1="104.00" y1="153.68" x2="108.80" y2="153.68" stroke="#1e1e1e"/>
<line x1="98.00" y1="143.47" x2="98.00" y2="151.43" stroke="#1e1e1e"/>
<line x1="98.00" y1="143.47" x2="110.00" y2="143.47" stroke="#1e1e1e"/>
<line x1="98.00" y1="146.55" x2="125.60" y2="146.55" stroke="#1e1e1e"/>
<line x1="125.60" y1="146.55" x2="128.00" y2="146.55" stroke="#f89b9b"/>
<line x1="98.00" y1="151.43" x2="104.00" y2="151.43" stroke="#1e1e1e"/>
<line x1="93.50" y1="136.88" x2="93.50" y2="147.45" stroke="#1e1e1e"/>
<line x1="93.50" y1="136.88" x2="104.00" y2="136.88" stroke="#1e1e1e"/>
<line x1="104.00" y1="136.88" x2="108.00" y2="136.88" stroke="#f89b9b"/>
<line x1="93.50" y1="147.45" x2="98.00" y2="147.45" stroke="#1e1e1e"/>
<line x1="118.67" y1="162.36" x2="118.67" y2="164.12" stroke="#1e1e1e"/>
<line x1="118.67" y1="162.36" x2="128.00" y2="162.36" stroke="#1e1e1e"/>
<line x1="118.67" y1="164.12" x2="128.00" y2="164.12" stroke="#1e1e1e"/>
<line x1="109.33" y1="160.60" x2="109.33" y2="163.24" stroke="#1e1e1e"/>
<line x1="109.33" y1="160.60" x2="128.00" y2="160.60" stroke="#1e1e1e"/>
<line x1="109.33" y1="163.24" x2="118.67" y2="163.24" stroke="#1e1e1e"/>
<line x1="100.00" y1="161.92" x2="100.00" y2="165.87" stroke="#1e1e1e"/>
<line x1="100.00" y1="161.92" x2="109.33" y2="161.92" stroke="#1e1e1e"/>
<line x1="100.00" y1="165.87" x2="128.00" y2="165.87" stroke="#1e1e1e"/>
<line x1="124.00" y1="167.63" x2="124.00" y2="169.39" stroke="#f89b9b"/>
<line x1="124.00" y1="167.63" x2="128.00" y2="167.63" stroke="#f89b9b"/>
<line x1="124.00" y1="169.39" x2="128.00" y2="169.39" stroke="#f89b9b"/>
<line x1="120.00" y1="168.51" x2="120.00" y2="171.14" stroke="#f89b9b"/>
<line x1="120.00" y1="168.51" x2="124.00" y2="168.51" stroke="#f89b9b"/>
<line x1="120.00" y1="171.14" x2="128.00" y2="171.14" stroke="#f89b9b"/>
<line x1="124.00" y1="172.90" x2="124.00" y2="174.66" stroke="#f89b9b"/>
<line x1="124.00" y1="172.90" x2="128.00" y2="172.90" stroke="#f89b9b"/>
<line x1="124.00" y1="174.66" x2="128.00" y2="174.66" stroke="#f89b9b"/>
<line x1="124.00" y1="178.17" x2="124.00" y2="179.93" stroke="#f89b9b"/>
<line x1="124.00" y1="178.17" x2="128.00" y2="178.17" stroke="#f89b9b"/>
<line x1="124.00" y1="179.93" x2="128.00" y2="179.93" stroke="#f89b9b"/>
<line x1="124.00" y1="181.69" x2="124.00" y2="183.44" stroke="#f89b9b"/>
<line x1="124.00" y1="181.69" x2="128.00" y2="181.69" stroke="#f89b9b"/>
<line x1="124.00" y1="183.44" x2="128.00" y2="183.44" stroke="#f89b9b"/>
<line x1="124.00" y1="185.20" x2="124.00" y2="186.96" stroke="#f89b9b"/>
<line x1="124.00" y1="185.20" x2="128.00" y2="185.20" stroke="#f89b9b"/>
<line x1="124.00" y1="186.96" x2="128.00" y2="186.96" stroke="#f89b9b"/>
<line x1="120.00" y1="186.08" x2="120.00" y2="188.71" stroke="#f89b9b"/>
<line x1="120.00" y1="186.08" x2="124.00" y2="186.08" stroke="#f89b9b"/>
<line x1="120.00" y1="188.71" x2="128.00" y2="188.71" stroke="#f89b9b"/>
<line x1="116.00" y1="182.56" x2="116.00" y2="187.40" stroke="#f89b9b"/>
<line x1="116.00" y1="182.56" x2="124.00" y2="182.56" stroke="#f89b9b"/>
<line x1="116.00" y1="187.40" x2="120.00" y2="187.40" stroke="#f89b9b"/>
<line x1="112.00" y1="179.05" x2="112.00" y2="184.98" stroke="#f89b9b"/>
<line x1="112.00" y1="179.05" x2="124.00" y2="179.05" stroke="#f89b9b"/>
<line x1="112.00" y1="184.98" x2="116.00" y2="184.98" stroke="#f89b9b"/>
<line x1="108.00" y1="176.42" x2="108.00" y2="182.02" stroke="#f89b9b"/>
<line x1="108.00" y1="176.42" x2="128.00" y2="176.42" stroke="#f89b9b"/>
<line x1="108.00" y1="182.02" x2="112.00" y2="182.02" stroke="#f89b9b"/>
<line x1="104.00" y1="173.78" x2="104.00" y2="179.22" stroke="#f89b9b"/>
<line x1="104.00" y1="173.78" x2="124.00" y2="173.78" stroke="#f89b9b"/>
<line x1="104.00" y1="179.22" x2="108.00" y2="179.22" stroke="#f89b9b"/>
<line x1="100.00" y1="169.83" x2="100.00" y2="176.50" stroke="#f89b9b"/>
<line x1="100.00" y1="169.83" x2="120.00" y2="169.83" stroke="#f89b9b"/>
<line x1="100.00" y1="176.50" x2="104.00" y2="176.50" stroke="#f89b9b"/>
<line x1="83.50" y1="163.90" x2="83.50" y2="173.16" stroke="#1e1e1e"/>
<line x1="83.50" y1="163.90" x2="100.00" y2="163.90" stroke="#1e1e1e"/>
<line x1="83.50" y1="173.16" x2="96.00" y2="173.16" stroke="#1e1e1e"/>
<line x1="96.00" y1="173.16" x2="100.00" y2="173.16" stroke="#f89b9b"/>
<line x1="117.00" y1="190.47" x2="117.00" y2="192.23" stroke="#1e1e1e"/>
<line x1="117.00" y1="190.47" x2="128.00" y2="190.47" stroke="#1e1e1e"/>
<line x1="117.00" y1="192.23" x2="128.00" y2="192.23" stroke="#1e1e1e"/>
<line x1="106.00" y1="191.35" x2="106.00" y2="193.99" stroke="#1e1e1e"/>
<line x1="106.00" y1="191.35" x2="117.00" y2="191.35" stroke="#1e1e1e"/>
<line x1="106.00" y1="193.99" x2="128.00" y2="193.99" stroke="#1e1e1e"/>
<line x1="95.00" y1="192.67" x2="95.00" y2="195.74" stroke="#1e1e1e"/>
<line x1="95.00" y1="192.67" x2="106.00" y2="192.67" stroke="#1e1e1e"/>
<line x1="95.00" y1="195.74" x2="128.00" y2="195.74" stroke="#1e1e1e"/>
<line x1="108.00" y1="197.50" x2="108.00" y2="199.26" stroke="#1e1e1e"/>
<line x1="108.00" y1="197.50" x2="128.00" y2="197.50" stroke="#1e1e1e"/>
<line x1="108.00" y1="199.26" x2="128.00" y2="199.26" stroke="#1e1e1e"/>
<line x1="112.00" y1="201.01" x2="112.00" y2="202.77" stroke="#1e1e1e"/>
<line x1="112.00" y1="201.01" x2="128.00" y2="201.01" stroke="#1e1e1e"/>
<line x1="112.00" y1="202.77" x2="128.00" y2="202.77" stroke="#1e1e1e"/>
<line x1="121.33" y1="206.28" x2="121.33" y2="208.04" stroke="#1e1e1e"/>
<line x1="121.33" y1="206.28" x2="128.00" y2="206.28" stroke="#1e1e1e"/>
<line x1="121.33" y1="208.04" x2="128.00" y2="208.04" stroke="#1e1e1e"/>
<line x1="114.67" y1="207.16" x2="114.67" y2="209.80" stroke="#1e1e1e"/>
<line x1="114.67" y1="207.16" x2="121.33" y2="207.16" stroke="#1e1e1e"/>
<line x1="114.67" y1="209.80" x2="128.00" y2="209.80" stroke="#1e1e1e"/>
<line x1="121.33" y1="211.56" x2="121.33" y2="213.31" stroke="#1e1e1e"/>
<line x1="121.33" y1="211.56" x2="128.00" y2="211.56" stroke="#1e1e1e"/>
<line x1="121.33" y1="213.31" x2="128.00" y2="213.31" stroke="#1e1e1e"/>
<line x1="114.67" y1="212.43" x2="114.67" y2="215.07" stroke="#1e1e1e"/>
<line x1="114.67" y1="212.43" x2="121.33" y2="212.43" stroke="#1e1e1e"/>
<line x1="114.67" y1="215.07" x2="128.00" y2="215.07" stroke="#1e1e1e"/>
<line x1="108.00" y1="213.75" x2="108.00" y2="216.83" stroke="#1e1e1e"/>
<line x1="108.00" y1="213.75" x2="114.67" y2="213.75" stroke="#1e1e1e"/>
<line x1="108.00" y1="216.83" x2="128.00" y2="216.83" stroke="#1e1e1e"/>
<line x1="121.33" y1="218.58" x2="121.33" y2="220.34" stroke="#1e1e1e"/>
<line x1="121.33" y1="218.58" x2="128.00" y2="218.58" stroke="#1e1e1e"/>
<line x1="121.33" y1="220.34" x2="128.00" y2="220.34" stroke="#1e1e1e"/>
<line x1="121.33" y1="222.10" x2="121.33" y2="223.85" stroke="#1e1e1e"/>
<line x1="121.33" y1="222.10" x2="128.00" y2="222.10" stroke="#1e1e1e"/>
<line x1="121.33" y1="223.85" x2="128.00" y2="223.85" stroke="#1e1e1e"/>
<line x1="121.33" y1="225.61" x2="121.33" y2="227.37" stroke="#1e1e1e"/>
<line x1="121.33" y1="225.61" x2="128.00" y2="225.61" stroke="#1e1e1e"/>
<line x1="121.33" y1="227.37" x2="128.00" y2="227.37" stroke="#1e1e1e"/>
<line x1="114.67" y1="222.98" x2="114.67" y2="226.49" stroke="#1e1e1e"/>
<line x1="114.67" y1="222.98" x2="121.33" y2="222.98" stroke="#1e1e1e"/>
<line x1="114.67" y1="226.49" x2="121.33" y2="226.49" stroke="#1e1e1e"/>
<line x1="121.33" y1="229.13" x2="121.33" y2="230.88" stroke="#1e1e1e"/>
<line x1="121.33" y1="229.13" x2="128.00" y2="229.13" stroke="#1e1e1e"/>
<line x1="121.33" y1="230.88" x2="128.00" y2="230.88" stroke="#1e1e1e"/>
<line x1="114.67" y1="230.00" x2="114.67" y2="232.64" stroke="#1e1e1e"/>
<line x1="114.67" y1="230.00" x2="121.33" y2="230.00" stroke="#1e1e1e"/>
<line x1="114.67" y1="232.64" x2="128.00" y2="232.64" stroke="#1e1e1e"/>
<line x1="108.00" y1="224.73" x2="108.00" y2="231.32" stroke="#1e1e1e"/>
<line x1="108.00" y1="224.73" x2="114.67" y2="224.73" stroke="#1e1e1e"/>
<line x1="108.00" y1="231.32" x2="114.67" y2="231.32" stroke="#1e1e1e"/>
<line x1="101.33" y1="219.46" x2="101.33" y2="228.03" stroke="#1e1e1e"/>
<line x1="101.33" y1="219.46" x2="121.33" y2="219.46" stroke="#1e1e1e"/>
<line x1="101.33" y1="228.03" x2="108.00" y2="228.03" stroke="#1e1e1e"/>
<line x1="94.67" y1="215.29" x2="94.67" y2="223.74" stroke="#1e1e1e"/>
<line x1="94.67" y1="215.29" x2="108.00" y2="215.29" stroke="#1e1e1e"/>
<line x1="94.67" y1="223.74" x2="101.33" y2="223.74" stroke="#1e1e1e"/>
<line x1="88.00" y1="208.48" x2="88.00" y2="219.52" stroke="#1e1e1e"/>
<line x1="88.00" y1="208.48" x2="114.67" y2="208.48" stroke="#1e1e1e"/>
<line x1="88.00" y1="219.52" x2="94.67" y2="219.52" stroke="#1e1e1e"/>
<line x1="83.40" y1="204.53" x2="83.40" y2="214.00" stroke="#1e1e1e"/>
<line x1="83.40" y1="204.53" x2="122.80" y2="204.53" stroke="#1e1e1e"/>
<line x1="122.80" y1="204.53" x2="128.00" y2="204.53" stroke="#f89b9b"/>
<line x1="83.40" y1="214.00" x2="88.00" y2="214.00" stroke="#1e1e1e"/>
<line x1="78.60" y1="201.89" x2="78.60" y2="209.26" stroke="#1e1e1e"/>
<line x1="78.60" y1="201.89" x2="112.00" y2="201.89" stroke="#1e1e1e"/>
<line x1="78.60" y1="209.26" x2="83.40" y2="209.26" stroke="#1e1e1e"/>
<line x1="73.80" y1="198.38" x2="73.80" y2="205.58" stroke="#1e1e1e"/>
<line x1="73.80" y1="198.38" x2="108.00" y2="198.38" stroke="#1e1e1e"/>
<line x1="73.80" y1="205.58" x2="78.60" y2="205.58" stroke="#1e1e1e"/>
<line x1="122.00" y1="234.40" x2="122.00" y2="236.15" stroke="#1e1e1e"/>
<line x1="122.00" y1="234.40" x2="128.00" y2="234.40" stroke="#1e1e1e"/>
<line x1="122.00" y1="236.15" x2="128.00" y2="236.15" stroke="#1e1e1e"/>
<line x1="116.00" y1="235.27" x2="116.00" y2="237.91" stroke="#1e1e1e"/>
<line x1="116.00" y1="235.27" x2="122.00" y2="235.27" stroke="#1e1e1e"/>
<line x1="116.00" y1="237.91" x2="128.00" y2="237.91" stroke="#1e1e1e"/>
<line x1="122.00" y1="239.67" x2="122.00" y2="241.42" stroke="#1e1e1e"/>
<line x1="122.00" y1="239.67" x2="128.00" y2="239.67" stroke="#1e1e1e"/>
<line x1="122.00" y1="241.42" x2="128.00" y2="241.42" stroke="#1e1e1e"/>
<line x1="110.00" y1="236.59" x2="110.00" y2="240.55" stroke="#1e1e1e"/>
<line x1="110.00" y1="236.59" x2="116.00" y2="236.59" stroke="#1e1e1e"/>
<line x1="110.00" y1="240.55" x2="122.00" y2="240.55" stroke="#1e1e1e"/>
<line x1="122.00" y1="244.94" x2="122.00" y2="246.70" stroke="#1e1e1e"/>
<line x1="122.00" y1="244.94" x2="128.00" y2="244.94" stroke="#1e1e1e"/>
<line x1="122.00" y1="246.70" x2="128.00" y2="246.70" stroke="#1e1e1e"/>
<line x1="116.00" y1="243.18" x2="116.00" y2="245.82" stroke="#1e1e1e"/>
<line x1="116.00" y1="243.18" x2="128.00" y2="243.18" stroke="#1e1e1e"/>
<line x1="116.00" y1="245.82" x2="122.00" y2="245.82" stroke="#1e1e1e"/>
<line x1="122.00" y1="248.45" x2="122.00" y2="250.21" stroke="#1e1e1e"/>
<line x1="122.00" y1="248.45" x2="128.00" y2="248.45" stroke="#1e1e1e"/>
<line x1="122.00" y1="250.21" x2="128.00" y2="250.21" stroke="#1e1e1e"/>
<line x1="110.00" y1="244.50" x2="110.00" y2="249.33" stroke="#1e1e1e"/>
<line x1="110.00" y1="244.50" x2="116.00" y2="244.50" stroke="#1e1e1e"/>
<line x1="110.00" y1="249.33" x2="122.00" y2="249.33" stroke="#1e1e1e"/>
<line x1="104.00" y1="238.57" x2="104.00" y2="246.92" stroke="#1e1e1e"/>
<line x1="104.00" y1="238.57" x2="110.00" y2="238.57" stroke="#1e1e1e"/>
<line x1="104.00" y1="246.92" x2="110.00" y2="246.92" stroke="#1e1e1e"/>
<line x1="122.00" y1="255.48" x2="122.00" y2="257.24" stroke="#1e1e1e"/>
<line x1="122.00" y1="255.48" x2="128.00" y2="255.48" stroke="#1e1e1e"/>
<line x1="122.00" y1="257.24" x2="128.00" y2="257.24" stroke="#1e1e1e"/>
<line x1="116.00" y1="253.72" x2="116.00" y2="256.36" stroke="#1e1e1e"/>
<line x1="116.00" y1="253.72" x2="128.00" y2="253.72" stroke="#1e1e1e"/>
<line x1="116.00" y1="256.36" x2="122.00" y2="256.36" stroke="#1e1e1e"/>
<line x1="110.00" y1="251.97" x2="110.00" y2="255.04" stroke="#1e1e1e"/>
<line x1="110.00" y1="251.97" x2="128.00" y2="251.97" stroke="#1e1e1e"/>
<line x1="110.00" y1="255.04" x2="116.00" y2="255.04" stroke="#1e1e1e"/>
<line x1="98.00" y1="242.74" x2="98.00" y2="253.50" stroke="#1e1e1e"/>
<line x1="98.00" y1="242.74" x2="104.00" y2="242.74" stroke="#1e1e1e"/>
<line x1="98.00" y1="253.50" x2="110.00" y2="253.50" stroke="#1e1e1e"/>
<line x1="124.50" y1="258.99" x2="124.50" y2="260.75" stroke="#1e1e1e"/>
<line x1="124.50" y1="258.99" x2="128.00" y2="258.99" stroke="#1e1e1e"/>
<line x1="124.50" y1="260.75" x2="128.00" y2="260.75" stroke="#1e1e1e"/>
<line x1="124.50" y1="264.27" x2="124.50" y2="266.02" stroke="#1e1e1e"/>
<line x1="124.50" y1="264.27" x2="128.00" y2="264.27" stroke="#1e1e1e"/>
<line x1="124.50" y1="266.02" x2="128.00" y2="266.02" stroke="#1e1e1e"/>
<line x1="124.50" y1="267.78" x2="124.50" y2="269.54" stroke="#1e1e1e"/>
<line x1="124.50" y1="267.78" x2="128.00" y2="267.78" stroke="#1e1e1e"/>
<line x1="124.50" y1="269.54" x2="128.00" y2="269.54" stroke="#1e1e1e"/>
<line x1="121.00" y1="268.66" x2="121.00" y2="271.29" stroke="#1e1e1e"/>
<line x1="121.00" y1="268.66" x2="124.50" y2="268.66" stroke="#1e1e1e"/>
<line x1="121.00" y1="271.29" x2="128.00" y2="271.29" stroke="#1e1e1e"/>
<line x1="124.50" y1="273.05" x2="124.50" y2="274.81" stroke="#1e1e1e"/>
<line x1="124.50" y1="273.05" x2="128.00" y2="273.05" stroke="#1e1e1e"/>
<line x1="124.50" y1="274.81" x2="128.00" y2="274.81" stroke="#1e1e1e"/>
<line x1="124.50" y1="278.32" x2="124.50" y2="280.08" stroke="#1e1e1e"/>
<line x1="124.50" y1="278.32" x2="128.00" y2="278.32" stroke="#1e1e1e"/>
<line x1="124.50" y1="280.08" x2="128.00" y2="280.08" stroke="#1e1e1e"/>
<line x1="121.00" y1="279.20" x2="121.00" y2="281.84" stroke="#1e1e1e"/>
<line x1="121.00" y1="279.20" x2="124.50" y2="279.20" stroke="#1e1e1e"/>
<line x1="121.00" y1="281.84" x2="128.00" y2="281.84" stroke="#1e1e1e"/>
<line x1="117.50" y1="276.56" x2="117.50" y2="280.52" stroke="#1e1e1e"/>
<line x1="117.50" y1="276.56" x2="128.00" y2="276.56" stroke="#1e1e1e"/>
<line x1="117.50" y1="280.52" x2="121.00" y2="280.52" stroke="#1e1e1e"/>
<line x1="124.50" y1="283.59" x2="124.50" y2="285.35" stroke="#1e1e1e"/>
<line x1="124.50" y1="283.59" x2="128.00" y2="283.59" stroke="#1e1e1e"/>
<line x1="124.50" y1="285.35" x2="128.00" y2="285.35" stroke="#1e1e1e"/>
<line x1="121.00" y1="284.47" x2="121.00" y2="287.11" stroke="#1e1e1e"/>
<line x1="121.00" y1="284.47" x2="124.50" y2="284.47" stroke="#1e1e1e"/>
<line x1="121.00" y1="287.11" x2="128.00" y2="287.11" stroke="#1e1e1e"/>
<line x1="124.50" y1="288.86" x2="124.50" y2="290.62" stroke="#1e1e1e"/>
<line x1="124.50" y1="288.86" x2="128.00" y2="288.86" stroke="#1e1e1e"/>
<line x1="124.50" y1="290.62" x2="128.00" y2="290.62" stroke="#1e1e1e"/>
<line x1="121.00" y1="289.74" x2="121.00" y2="292.38" stroke="#1e1e1e"/>
<line x1="121.00" y1="289.74" x2="124.50" y2="289.74" stroke="#1e1e1e"/>
<line x1="121.00" y1="292.38" x2="128.00" y2="292.38" stroke="#1e1e1e"/>
<line x1="117.50" y1="285.79" x2="117.50" y2="291.06" stroke="#1e1e1e"/>
<line x1="117.50" y1="285.79" x2="121.00" y2="285.79" stroke="#1e1e1e"/>
<line x1="117.50" y1="291.06" x2="121.00" y2="291.06" stroke="#1e1e1e"/>
<line x1="124.50" y1="294.13" x2="124.50" y2="295.89" stroke="#1e1e1e"/>
<line x1="124.50" y1="294.13" x2="128.00" y2="294.13" stroke="#1e1e1e"/>
<line x1="124.50" y1="295.89" x2="128.00" y2="295.89" stroke="#1e1e1e"/>
<line x1="124.50" y1="297.65" x2="124.50" y2="299.41" stroke="#1e1e1e"/>
<line x1="124.50" y1="297.65" x2="128.00" y2="297.65" stroke="#1e1e1e"/>
<line x1="124.50" y1="299.41" x2="128.00" y2="299.41" stroke="#1e1e1e"/>
<line x1="121.00" y1="295.01" x2="121.00" y2="298.53" stroke="#1e1e1e"/>
<line x1="121.00" y1="295.01" x2="124.50" y2="295.01" stroke="#1e1e1e"/>
<line x1="121.00" y1="298.53" x2="124.50" y2="298.53" stroke="#1e1e1e"/>
<line x1="114.00" y1="288.42" x2="114.00" y2="296.77" stroke="#1e1e1e"/>
<line x1="114.00" y1="288.42" x2="117.50" y2="288.42" stroke="#1e1e1e"/>
<line x1="114.00" y1="296.77" x2="121.00" y2="296.77" stroke="#1e1e1e"/>
<line x1="110.50" y1="278.54" x2="110.50" y2="292.60" stroke="#1e1e1e"/>
<line x1="110.50" y1="278.54" x2="117.50" y2="278.54" stroke="#1e1e1e"/>
<line x1="110.50" y1="292.60" x2="114.00" y2="292.60" stroke="#1e1e1e"/>
<line x1="107.00" y1="273.93" x2="107.00" y2="285.57" stroke="#1e1e1e"/>
<line x1="107.00" y1="273.93" x2="124.50" y2="273.93" stroke="#1e1e1e"/>
<line x1="107.00" y1="285.57" x2="110.50" y2="285.57" stroke="#1e1e1e"/>
<line x1="103.50" y1="269.98" x2="103.50" y2="279.75" stroke="#1e1e1e"/>
<line x1="103.50" y1="269.98" x2="121.00" y2="269.98" stroke="#1e1e1e"/>
<line x1="103.50" y1="279.75" x2="107.00" y2="279.75" stroke="#1e1e1e"/>
<line x1="100.00" y1="265.14" x2="100.00" y2="274.86" stroke="#1e1e1e"/>
<line x1="100.00" y1="265.14" x2="124.50" y2="265.14" stroke="#1e1e1e"/>
<line x1="100.00" y1="274.86" x2="103.50" y2="274.86" stroke="#1e1e1e"/>
<line x1="96.50" y1="262.51" x2="96.50" y2="270.00" stroke="#1e1e1e"/>
<line x1="96.50" y1="262.51" x2="128.00" y2="262.51" stroke="#1e1e1e"/>
<line x1="96.50" y1="270.00" x2="100.00" y2="270.00" stroke="#1e1e1e"/>
<line x1="93.00" y1="259.87" x2="93.00" y2="266.26" stroke="#1e1e1e"/>
<line x1="93.00" y1="259.87" x2="124.50" y2="259.87" stroke="#1e1e1e"/>
<line x1="93.00" y1="266.26" x2="96.50" y2="266.26" stroke="#1e1e1e"/>
<line x1="88.30" y1="248.12" x2="88.30" y2="263.06" stroke="#1e1e1e"/>
<line x1="88.30" y1="248.12" x2="98.00" y2="248.12" stroke="#1e1e1e"/>
<line x1="88.30" y1="263.06" x2="93.00" y2="263.06" stroke="#1e1e1e"/>
<line x1="69.00" y1="201.98" x2="69.00" y2="255.59" stroke="#1e1e1e"/>
<line x1="69.00" y1="201.98" x2="73.80" y2="201.98" stroke="#1e1e1e"/>
<line x1="69.00" y1="255.59" x2="88.30" y2="255.59" stroke="#1e1e1e"/>
<line x1="64.20" y1="194.21" x2="64.20" y2="228.79" stroke="#1e1e1e"/>
<line x1="64.20" y1="194.21" x2="95.00" y2="194.21" stroke="#1e1e1e"/>
<line x1="64.20" y1="228.79" x2="69.00" y2="228.79" stroke="#1e1e1e"/>
<line x1="59.30" y1="168.53" x2="59.30" y2="211.50" stroke="#1e1e1e"/>
<line x1="59.30" y1="168.53" x2="83.50" y2="168.53" stroke="#1e1e1e"/>
<line x1="59.30" y1="211.50" x2="64.20" y2="211.50" stroke="#1e1e1e"/>
<line x1="54.20" y1="142.17" x2="54.20" y2="190.01" stroke="#1e1e1e"/>
<line x1="54.20" y1="142.17" x2="93.50" y2="142.17" stroke="#1e1e1e"/>
<line x1="54.20" y1="190.01" x2="59.30" y2="190.01" stroke="#1e1e1e"/>
<line x1="49.30" y1="131.61" x2="49.30" y2="166.09" stroke="#1e1e1e"/>
<line x1="49.30" y1="131.61" x2="113.20" y2="131.61" stroke="#1e1e1e"/>
<line x1="113.20" y1="131.61" x2="116.00" y2="131.61" stroke="#f89b9b"/>
<line x1="49.30" y1="166.09" x2="54.20" y2="166.09" stroke="#1e1e1e"/>
<line x1="44.50" y1="112.50" x2="44.50" y2="148.85" stroke="#1e1e1e"/>
<line x1="44.50" y1="112.50" x2="93.50" y2="112.50" stroke="#1e1e1e"/>
<line x1="44.50" y1="148.85" x2="49.30" y2="148.85" stroke="#1e1e1e"/>
<line x1="39.30" y1="104.38" x2="39.30" y2="130.68" stroke="#1e1e1e"/>
<line x1="39.30" y1="104.38" x2="128.00" y2="104.38" stroke="#1e1e1e"/>
<line x1="39.30" y1="130.68" x2="44.50" y2="130.68" stroke="#1e1e1e"/>
<line x1="123.00" y1="301.16" x2="123.00" y2="302.92" stroke="#1e1e1e"/>
<line x1="123.00" y1="301.16" x2="128.00" y2="301.16" stroke="#1e1e1e"/>
<line x1="123.00" y1="302.92" x2="128.00" y2="302.92" stroke="#1e1e1e"/>
<line x1="118.00" y1="302.04" x2="118.00" y2="304.68" stroke="#1e1e1e"/>
<line x1="118.00" y1="302.04" x2="123.00" y2="302.04" stroke="#1e1e1e"/>
<line x1="118.00" y1="304.68" x2="128.00" y2="304.68" stroke="#1e1e1e"/>
<line x1="113.00" y1="303.36" x2="113.00" y2="306.43" stroke="#1e1e1e"/>
<line x1="113.00" y1="303.36" x2="118.00" y2="303.36" stroke="#1e1e1e"/>
<line x1="113.00" y1="306.43" x2="128.00" y2="306.43" stroke="#1e1e1e"/>
<line x1="118.80" y1="311.70" x2="118.80" y2="313.46" stroke="#1e1e1e"/>
<line x1="118.80" y1="311.70" x2="128.00" y2="311.70" stroke="#1e1e1e"/>
<line x1="118.80" y1="313.46" x2="125.00" y2="313.46" stroke="#1e1e1e"/>
<line x1="125.00" y1="313.46" x2="128.00" y2="313.46" stroke="#f89b9b"/>
<line x1="124.57" y1="315.22" x2="124.57" y2="316.98" stroke="#f89b9b"/>
<line x1="124.57" y1="315.22" x2="128.00" y2="315.22" stroke="#f89b9b"/>
<line x1="124.57" y1="316.98" x2="128.00" y2="316.98" stroke="#f89b9b"/>
<line x1="124.57" y1="320.49" x2="124.57" y2="322.25" stroke="#f89b9b"/>
<line x1="124.57" y1="320.49" x2="128.00" y2="320.49" stroke="#f89b9b"/>
<line x1="124.57" y1="322.25" x2="128.00" y2="322.25" stroke="#f89b9b"/>
<line x1="121.14" y1="318.73" x2="121.14" y2="321.37" stroke="#f89b9b"/>
<line x1="121.14" y1="318.73" x2="128.00" y2="318.73" stroke="#f89b9b"/>
<line x1="121.14" y1="321.37" x2="124.57" y2="321.37" stroke="#f89b9b"/>
<line x1="124.57" y1="324.00" x2="124.57" y2="325.76" stroke="#f89b9b"/>
<line x1="124.57" y1="324.00" x2="128.00" y2="324.00" stroke="#f89b9b"/>
<line x1="124.57" y1="325.76" x2="128.00" y2="325.76" stroke="#f89b9b"/>
<line x1="121.14" y1="324.88" x2="121.14" y2="327.52" stroke="#f89b9b"/>
<line x1="121.14" y1="324.88" x2="124.57" y2="324.88" stroke="#f89b9b"/>
<line x1="121.14" y1="327.52" x2="128.00" y2="327.52" stroke="#f89b9b"/>
<line x1="124.57" y1="329.27" x2="124.57" y2="331.03" stroke="#f89b9b"/>
<line x1="124.57" y1="329.27" x2="128.00" y2="329.27" stroke="#f89b9b"/>
<line x1="124.57" y1="331.03" x2="128.00" y2="331.03" stroke="#f89b9b"/>
<line x1="117.71" y1="326.20" x2="117.71" y2="330.15" stroke="#f89b9b"/>
<line x1="117.71" y1="326.20" x2="121.14" y2="326.20" stroke="#f89b9b"/>
<line x1="117.71" y1="330.15" x2="124.57" y2="330.15" stroke="#f89b9b"/>
<line x1="124.57" y1="332.79" x2="124.57" y2="334.55" stroke="#f89b9b"/>
<line x1="124.57" y1="332.79" x2="128.00" y2="332.79" stroke="#f89b9b"/>
<line x1="124.57" y1="334.55" x2="128.00" y2="334.55" stroke="#f89b9b"/>
<line x1="124.57" y1="338.06" x2="124.57" y2="339.82" stroke="#f89b9b"/>
<line x1="124.57" y1="338.06" x2="128.00" y2="338.06" stroke="#f89b9b"/>
<line x1="124.57" y1="339.82" x2="128.00" y2="339.82" stroke="#f89b9b"/>
<line x1="124.57" y1="341.57" x2="124.57" y2="343.33" stroke="#f89b9b"/>
<line x1="124.57" y1="341.57" x2="128.00" y2="341.57" stroke="#f89b9b"/>
<line x1="124.57" y1="343.33" x2="128.00" y2="343.33" stroke="#f89b9b"/>
<line x1="124.57" y1="348.60" x2="124.57" y2="350.36" stroke="#f89b9b"/>
<line x1="124.57" y1="348.60" x2="128.00" y2="348.60" stroke="#f89b9b"/>
<line x1="124.57" y1="350.36" x2="128.00" y2="350.36" stroke="#f89b9b"/>
<line x1="124.57" y1="352.12" x2="124.57" y2="353.87" stroke="#f89b9b"/>
<line x1="124.57" y1="352.12" x2="128.00" y2="352.12" stroke="#f89b9b"/>
<line x1="124.57" y1="353.87" x2="128.00" y2="353.87" stroke="#f89b9b"/>
<line x1="121.14" y1="352.99" x2="121.14" y2="355.63" stroke="#f89b9b"/>
<line x1="121.14" y1="352.99" x2="124.57" y2="352.99" stroke="#f89b9b"/>
<line x1="121.14" y1="355.63" x2="128.00" y2="355.63" stroke="#f89b9b"/>
<line x1="117.71" y1="354.31" x2="117.71" y2="357.39" stroke="#f89b9b"/>
<line x1="117.71" y1="354.31" x2="121.14" y2="354.31" stroke="#f89b9b"/>
<line x1="117.71" y1="357.39" x2="128.00" y2="357.39" stroke="#f89b9b"/>
<line x1="114.28" y1="349.48" x2="114.28" y2="355.85" stroke="#f89b9b"/>
<line x1="114.28" y1="349.48" x2="124.57" y2="349.48" stroke="#f89b9b"/>
<line x1="114.28" y1="355.85" x2="117.71" y2="355.85" stroke="#f89b9b"/>
<line x1="110.85" y1="346.84" x2="110.85" y2="352.66" stroke="#f89b9b"/>
<line x1="110.85" y1="346.84" x2="128.00" y2="346.84" stroke="#f89b9b"/>
<line x1="110.85" y1="352.66" x2="114.28" y2="352.66" stroke="#f89b9b"/>
<line x1="107.42" y1="345.09" x2="107.42" y2="349.75" stroke="#f89b9b"/>
<line x1="107.42" y1="345.09" x2="128.00" y2="345.09" stroke="#f89b9b"/>
<line x1="107.42" y1="349.75" x2="110.85" y2="349.75" stroke="#f89b9b"/>
<line x1="103.98" y1="342.45" x2="103.98" y2="347.42" stroke="#f89b9b"/>
<line x1="103.98" y1="342.45" x2="124.57" y2="342.45" stroke="#f89b9b"/>
<line x1="103.98" y1="347.42" x2="107.42" y2="347.42" stroke="#f89b9b"/>
<line x1="100.55" y1="338.94" x2="100.55" y2="344.94" stroke="#f89b9b"/>
<line x1="100.55" y1="338.94" x2="124.57" y2="338.94" stroke="#f89b9b"/>
<line x1="100.55" y1="344.94" x2="103.98" y2="344.94" stroke="#f89b9b"/>
<line x1="97.12" y1="336.30" x2="97.12" y2="341.94" stroke="#f89b9b"/>
<line x1="97.12" y1="336.30" x2="128.00" y2="336.30" stroke="#f89b9b"/>
<line x1="97.12" y1="341.94" x2="100.55" y2="341.94" stroke="#f89b9b"/>
<line x1="93.69" y1="333.67" x2="93.69" y2="339.12" stroke="#f89b9b"/>
<line x1="93.69" y1="333.67" x2="124.57" y2="333.67" stroke="#f89b9b"/>
<line x1="93.69" y1="339.12" x2="97.12" y2="339.12" stroke="#f89b9b"/>
<line x1="90.26" y1="328.18" x2="90.26" y2="336.39" stroke="#f89b9b"/>
<line x1="90.26" y1="328.18" x2="117.71" y2="328.18" stroke="#f89b9b"/>
<line x1="90.26" y1="336.39" x2="93.69" y2="336.39" stroke="#f89b9b"/>
<line x1="86.83" y1="320.05" x2="86.83" y2="332.28" stroke="#f89b9b"/>
<line x1="86.83" y1="320.05" x2="121.14" y2="320.05" stroke="#f89b9b"/>
<line x1="86.83" y1="332.28" x2="90.26" y2="332.28" stroke="#f89b9b"/>
<line x1="83.40" y1="316.10" x2="83.40" y2="326.17" stroke="#f89b9b"/>
<line x1="83.40" y1="316.10" x2="124.57" y2="316.10" stroke="#f89b9b"/>
<line x1="83.40" y1="326.17" x2="86.83" y2="326.17" stroke="#f89b9b"/>
<line x1="118.67" y1="359.14" x2="118.67" y2="360.90" stroke="#1e1e1e"/>
<line x1="118.67" y1="359.14" x2="128.00" y2="359.14" stroke="#1e1e1e"/>
<line x1="118.67" y1="360.90" x2="128.00" y2="360.90" stroke="#1e1e1e"/>
<line x1="118.67" y1="362.66" x2="118.67" y2="364.41" stroke="#1e1e1e"/>
<line x1="118.67" y1="362.66" x2="128.00" y2="362.66" stroke="#1e1e1e"/>
<line x1="118.67" y1="364.41" x2="128.00" y2="364.41" stroke="#1e1e1e"/>
<line x1="109.33" y1="363.54" x2="109.33" y2="366.17" stroke="#1e1e1e"/>
<line x1="109.33" y1="363.54" x2="118.67" y2="363.54" stroke="#1e1e1e"/>
<line x1="109.33" y1="366.17" x2="128.00" y2="366.17" stroke="#1e1e1e"/>
<line x1="100.00" y1="360.02" x2="100.00" y2="364.85" stroke="#1e1e1e"/>
<line x1="100.00" y1="360.02" x2="118.67" y2="360.02" stroke="#1e1e1e"/>
<line x1="100.00" y1="364.85" x2="109.33" y2="364.85" stroke="#1e1e1e"/>
<line x1="110.00" y1="367.93" x2="110.00" y2="369.69" stroke="#1e1e1e"/>
<line x1="110.00" y1="367.93" x2="128.00" y2="367.93" stroke="#1e1e1e"/>
<line x1="110.00" y1="369.69" x2="125.20" y2="369.69" stroke="#1e1e1e"/>
<line x1="125.20" y1="369.69" x2="128.00" y2="369.69" stroke="#f89b9b"/>
<line x1="123.33" y1="373.20" x2="123.33" y2="374.96" stroke="#1e1e1e"/>
<line x1="123.33" y1="373.20" x2="128.00" y2="373.20" stroke="#1e1e1e"/>
<line x1="123.33" y1="374.96" x2="128.00" y2="374.96" stroke="#1e1e1e"/>
<line x1="118.67" y1="374.08" x2="118.67" y2="376.71" stroke="#1e1e1e"/>
<line x1="118.67" y1="374.08" x2="123.33" y2="374.08" stroke="#1e1e1e"/>
<line x1="118.67" y1="376.71" x2="128.00" y2="376.71" stroke="#1e1e1e"/>
<line x1="114.00" y1="371.44" x2="114.00" y2="375.40" stroke="#1e1e1e"/>
<line x1="114.00" y1="371.44" x2="128.00" y2="371.44" stroke="#1e1e1e"/>
<line x1="114.00" y1="375.40" x2="118.67" y2="375.40" stroke="#1e1e1e"/>
<line x1="123.33" y1="378.47" x2="123.33" y2="380.23" stroke="#1e1e1e"/>
<line x1="123.33" y1="378.47" x2="128.00" y2="378.47" stroke="#1e1e1e"/>
<line x1="123.33" y1="380.23" x2="128.00" y2="380.23" stroke="#1e1e1e"/>
<line x1="109.33" y1="373.42" x2="109.33" y2="379.35" stroke="#1e1e1e"/>
<line x1="109.33" y1="373.42" x2="114.00" y2="373.42" stroke="#1e1e1e"/>
<line x1="109.33" y1="379.35" x2="123.33" y2="379.35" stroke="#1e1e1e"/>
<line x1="123.33" y1="385.50" x2="123.33" y2="387.26" stroke="#1e1e1e"/>
<line x1="123.33" y1="385.50" x2="128.00" y2="385.50" stroke="#1e1e1e"/>
<line x1="123.33" y1="387.26" x2="128.00" y2="387.26" stroke="#1e1e1e"/>
<line x1="118.67" y1="383.74" x2="118.67" y2="386.38" stroke="#1e1e1e"/>
<line x1="118.67" y1="383.74" x2="128.00" y2="383.74" stroke="#1e1e1e"/>
<line x1="118.67" y1="386.38" x2="123.33" y2="386.38" stroke="#1e1e1e"/>
<line x1="114.00" y1="381.98" x2="114.00" y2="385.06" stroke="#1e1e1e"/>
<line x1="114.00" y1="381.98" x2="128.00" y2="381.98" stroke="#1e1e1e"/>
<line x1="114.00" y1="385.06" x2="118.67" y2="385.06" stroke="#1e1e1e"/>
<line x1="123.33" y1="389.01" x2="123.33" y2="390.77" stroke="#1e1e1e"/>
<line x1="123.33" y1="389.01" x2="128.00" y2="389.01" stroke="#1e1e1e"/>
<line x1="123.33" y1="390.77" x2="128.00" y2="390.77" stroke="#1e1e1e"/>
<line x1="109.33" y1="383.52" x2="109.33" y2="389.89" stroke="#1e1e1e"/>
<line x1="109.33" y1="383.52" x2="114.00" y2="383.52" stroke="#1e1e1e"/>
<line x1="109.33" y1="389.89" x2="123.33" y2="389.89" stroke="#1e1e1e"/>
<line x1="123.33" y1="394.28" x2="123.33" y2="396.04" stroke="#1e1e1e"/>
<line x1="123.33" y1="394.28" x2="128.00" y2="394.28" stroke="#1e1e1e"/>
<line x1="123.33" y1="396.04" x2="128.00" y2="396.04" stroke="#1e1e1e"/>
<line x1="118.67" y1="395.16" x2="118.67" y2="397.80" stroke="#1e1e1e"/>
<line x1="118.67" y1="395.16" x2="123.33" y2="395.16" stroke="#1e1e1e"/>
<line x1="118.67" y1="397.80" x2="128.00" y2="397.80" stroke="#1e1e1e"/>
<line x1="114.00" y1="392.53" x2="114.00" y2="396.48" stroke="#1e1e1e"/>
<line x1="114.00" y1="392.53" x2="128.00" y2="392.53" stroke="#1e1e1e"/>
<line x1="114.00" y1="396.48" x2="118.67" y2="396.48" stroke="#1e1e1e"/>
<line x1="104.67" y1="386.71" x2="104.67" y2="394.50" stroke="#1e1e1e"/>
<line x1="104.67" y1="386.71" x2="109.33" y2="386.71" stroke="#1e1e1e"/>
<line x1="104.67" y1="394.50" x2="114.00" y2="394.50" stroke="#1e1e1e"/>
<line x1="100.00" y1="376.38" x2="100.00" y2="390.60" stroke="#1e1e1e"/>
<line x1="100.00" y1="376.38" x2="109.33" y2="376.38" stroke="#1e1e1e"/>
<line x1="100.00" y1="390.60" x2="104.67" y2="390.60" stroke="#1e1e1e"/>
<line x1="95.00" y1="368.81" x2="95.00" y2="383.49" stroke="#1e1e1e"/>
<line x1="95.00" y1="368.81" x2="110.00" y2="368.81" stroke="#1e1e1e"/>
<line x1="95.00" y1="383.49" x2="100.00" y2="383.49" stroke="#1e1e1e"/>
<line x1="88.50" y1="362.44" x2="88.50" y2="376.15" stroke="#1e1e1e"/>
<line x1="88.50" y1="362.44" x2="100.00" y2="362.44" stroke="#1e1e1e"/>
<line x1="88.50" y1="376.15" x2="95.00" y2="376.15" stroke="#1e1e1e"/>
<line x1="122.38" y1="401.31" x2="122.38" y2="403.07" stroke="#1e1e1e"/>
<line x1="122.38" y1="401.31" x2="128.00" y2="401.31" stroke="#1e1e1e"/>
<line x1="122.38" y1="403.07" x2="128.00" y2="403.07" stroke="#1e1e1e"/>
<line x1="122.38" y1="404.83" x2="122.38" y2="406.58" stroke="#1e1e1e"/>
<line x1="122.38" y1="404.83" x2="128.00" y2="404.83" stroke="#1e1e1e"/>
<line x1="122.38" y1="406.58" x2="128.00" y2="406.58" stroke="#1e1e1e"/>
<line x1="116.77" y1="402.19" x2="116.77" y2="405.70" stroke="#1e1e1e"/>
<line x1="116.77" y1="402.19" x2="122.38" y2="402.19" stroke="#1e1e1e"/>
<line x1="116.77" y1="405.70" x2="122.38" y2="405.70" stroke="#1e1e1e"/>
<line x1="111.15" y1="399.55" x2="111.15" y2="403.95" stroke="#1e1e1e"/>
<line x1="111.15" y1="399.55" x2="128.00" y2="399.55" stroke="#1e1e1e"/>
<line x1="111.15" y1="403.95" x2="116.77" y2="403.95" stroke="#1e1e1e"/>
<line x1="122.38" y1="410.10" x2="122.38" y2="411.85" stroke="#1e1e1e"/>
<line x1="122.38" y1="410.10" x2="128.00" y2="410.10" stroke="#1e1e1e"/>
<line x1="122.38" y1="411.85" x2="128.00" y2="411.85" stroke="#1e1e1e"/>
<line x1="116.77" y1="410.98" x2="116.77" y2="413.61" stroke="#1e1e1e"/>
<line x1="116.77" y1="410.98" x2="122.38" y2="410.98" stroke="#1e1e1e"/>
<line x1="116.77" y1="413.61" x2="128.00" y2="413.61" stroke="#1e1e1e"/>
<line x1="111.15" y1="412.29" x2="111.15" y2="415.37" stroke="#1e1e1e"/>
<line x1="111.15" y1="412.29" x2="116.77" y2="412.29" stroke="#1e1e1e"/>
<line x1="111.15" y1="415.37" x2="128.00" y2="415.37" stroke="#1e1e1e"/>
<line x1="122.38" y1="417.12" x2="122.38" y2="418.88" stroke="#1e1e1e"/>
<line x1="122.38" y1="417.12" x2="128.00" y2="417.12" stroke="#1e1e1e"/>
<line x1="122.38" y1="418.88" x2="128.00" y2="418.88" stroke="#1e1e1e"/>
<line x1="122.38" y1="420.64" x2="122.38" y2="422.40" stroke="#1e1e1e"/>
<line x1="122.38" y1="420.64" x2="128.00" y2="420.64" stroke="#1e1e1e"/>
<line x1="122.38" y1="422.40" x2="128.00" y2="422.40" stroke="#1e1e1e"/>
<line x1="116.77" y1="421.52" x2="116.77" y2="424.15" stroke="#1e1e1e"/>
<line x1="116.77" y1="421.52" x2="122.38" y2="421.52" stroke="#1e1e1e"/>
<line x1="116.77" y1="424.15" x2="128.00" y2="424.15" stroke="#1e1e1e"/>
<line x1="111.15" y1="422.83" x2="111.15" y2="425.91" stroke="#1e1e1e"/>
<line x1="111.15" y1="422.83" x2="116.77" y2="422.83" stroke="#1e1e1e"/>
<line x1="111.15" y1="425.91" x2="128.00" y2="425.91" stroke="#1e1e1e"/>
<line x1="105.54" y1="418.00" x2="105.54" y2="424.37" stroke="#1e1e1e"/>
<line x1="105.54" y1="418.00" x2="122.38" y2="418.00" stroke="#1e1e1e"/>
<line x1="105.54" y1="424.37" x2="111.15" y2="424.37" stroke="#1e1e1e"/>
<line x1="122.38" y1="427.67" x2="122.38" y2="429.42" stroke="#1e1e1e"/>
<line x1="122.38" y1="427.67" x2="128.00" y2="427.67" stroke="#1e1e1e"/>
<line x1="122.38" y1="429.42" x2="128.00" y2="429.42" stroke="#1e1e1e"/>
<line x1="116.77" y1="428.54" x2="116.77" y2="431.18" stroke="#1e1e1e"/>
<line x1="116.77" y1="428.54" x2="122.38" y2="428.54" stroke="#1e1e1e"/>
<line x1="116.77" y1="431.18" x2="128.00" y2="431.18" stroke="#1e1e1e"/>
<line x1="122.38" y1="434.69" x2="122.38" y2="436.45" stroke="#1e1e1e"/>
<line x1="122.38" y1="434.69" x2="128.00" y2="434.69" stroke="#1e1e1e"/>
<line x1="122.38" y1="436.45" x2="128.00" y2="436.45" stroke="#1e1e1e"/>
<line x1="116.77" y1="435.57" x2="116.77" y2="438.21" stroke="#1e1e1e"/>
<line x1="116.77" y1="435.57" x2="122.38" y2="435.57" stroke="#1e1e1e"/>
<line x1="116.77" y1="438.21" x2="128.00" y2="438.21" stroke="#1e1e1e"/>
<line x1="111.15" y1="432.94" x2="111.15" y2="436.89" stroke="#1e1e1e"/>
<line x1="111.15" y1="432.94" x2="128.00" y2="432.94" stroke="#1e1e1e"/>
<line x1="111.15" y1="436.89" x2="116.77" y2="436.89" stroke="#1e1e1e"/>
<line x1="122.38" y1="439.97" x2="122.38" y2="441.72" stroke="#1e1e1e"/>
<line x1="122.38" y1="439.97" x2="128.00" y2="439.97" stroke="#1e1e1e"/>
<line x1="122.38" y1="441.72" x2="128.00" y2="441.72" stroke="#1e1e1e"/>
<line x1="122.38" y1="446.99" x2="122.38" y2="448.75" stroke="#1e1e1e"/>
<line x1="122.38" y1="446.99" x2="128.00" y2="446.99" stroke="#1e1e1e"/>
<line x1="122.38" y1="448.75" x2="128.00" y2="448.75" stroke="#1e1e1e"/>
<line x1="122.38" y1="450.51" x2="122.38" y2="452.26" stroke="#1e1e1e"/>
<line x1="122.38" y1="450.51" x2="128.00" y2="450.51" stroke="#1e1e1e"/>
<line x1="122.38" y1="452.26" x2="128.00" y2="452.26" stroke="#1e1e1e"/>
<line x1="116.77" y1="447.87" x2="116.77" y2="451.39" stroke="#1e1e1e"/>
<line x1="116.77" y1="447.87" x2="122.38" y2="447.87" stroke="#1e1e1e"/>
<line x1="116.77" y1="451.39" x2="122.38" y2="451.39" stroke="#1e1e1e"/>
<line x1="111.15" y1="445.24" x2="111.15" y2="449.63" stroke="#1e1e1e"/>
<line x1="111.15" y1="445.24" x2="128.00" y2="445.24" stroke="#1e1e1e"/>
<line x1="111.15" y1="449.63" x2="116.77" y2="449.63" stroke="#1e1e1e"/>
<line x1="105.54" y1="443.48" x2="105.54" y2="447.43" stroke="#1e1e1e"/>
<line x1="105.54" y1="443.48" x2="128.00" y2="443.48" stroke="#1e1e1e"/>
<line x1="105.54" y1="447.43" x2="111.15" y2="447.43" stroke="#1e1e1e"/>
<line x1="122.38" y1="454.02" x2="122.38" y2="455.78" stroke="#1e1e1e"/>
<line x1="122.38" y1="454.02" x2="128.00" y2="454.02" stroke="#1e1e1e"/>
<line x1="122.38" y1="455.78" x2="128.00" y2="455.78" stroke="#1e1e1e"/>
<line x1="122.38" y1="457.54" x2="122.38" y2="459.29" stroke="#1e1e1e"/>
<line x1="122.38" y1="457.54" x2="128.00" y2="457.54" stroke="#1e1e1e"/>
<line x1="122.38" y1="459.29" x2="128.00" y2="459.29" stroke="#1e1e1e"/>
<line x1="122.38" y1="461.05" x2="122.38" y2="462.81" stroke="#1e1e1e"/>
<line x1="122.38" y1="461.05" x2="128.00" y2="461.05" stroke="#1e1e1e"/>
<line x1="122.38" y1="462.81" x2="128.00" y2="462.81" stroke="#1e1e1e"/>
<line x1="116.77" y1="461.93" x2="116.77" y2="464.56" stroke="#1e1e1e"/>
<line x1="116.77" y1="461.93" x2="122.38" y2="461.93" stroke="#1e1e1e"/>
<line x1="116.77" y1="464.56" x2="128.00" y2="464.56" stroke="#1e1e1e"/>
<line x1="122.38" y1="466.32" x2="122.38" y2="468.08" stroke="#1e1e1e"/>
<line x1="122.38" y1="466.32" x2="128.00" y2="466.32" stroke="#1e1e1e"/>
<line x1="122.38" y1="468.08" x2="128.00" y2="468.08" stroke="#1e1e1e"/>
<line x1="116.77" y1="467.20" x2="116.77" y2="469.83" stroke="#1e1e1e"/>
<line x1="116.77" y1="467.20" x2="122.38" y2="467.20" stroke="#1e1e1e"/>
<line x1="116.77" y1="469.83" x2="128.00" y2="469.83" stroke="#1e1e1e"/>
<line x1="111.15" y1="463.25" x2="111.15" y2="468.52" stroke="#1e1e1e"/>
<line x1="111.15" y1="463.25" x2="116.77" y2="463.25" stroke="#1e1e1e"/>
<line x1="111.15" y1="468.52" x2="116.77" y2="468.52" stroke="#1e1e1e"/>
<line x1="105.54" y1="458.41" x2="105.54" y2="465.88" stroke="#1e1e1e"/>
<line x1="105.54" y1="458.41" x2="122.38" y2="458.41" stroke="#1e1e1e"/>
<line x1="105.54" y1="465.88" x2="111.15" y2="465.88" stroke="#1e1e1e"/>
<line x1="99.92" y1="454.90" x2="99.92" y2="462.15" stroke="#1e1e1e"/>
<line x1="99.92" y1="454.90" x2="122.38" y2="454.90" stroke="#1e1e1e"/>
<line x1="99.92" y1="462.15" x2="105.54" y2="462.15" stroke="#1e1e1e"/>
<line x1="94.31" y1="445.46" x2="94.31" y2="458.52" stroke="#1e1e1e"/>
<line x1="94.31" y1="445.46" x2="105.54" y2="445.46" stroke="#1e1e1e"/>
<line x1="94.31" y1="458.52" x2="99.92" y2="458.52" stroke="#1e1e1e"/>
<line x1="88.69" y1="440.84" x2="88.69" y2="451.99" stroke="#1e1e1e"/>
<line x1="88.69" y1="440.84" x2="122.38" y2="440.84" stroke="#1e1e1e"/>
<line x1="88.69" y1="451.99" x2="94.31" y2="451.99" stroke="#1e1e1e"/>
<line x1="83.08" y1="434.91" x2="83.08" y2="446.42" stroke="#1e1e1e"/>
<line x1="83.08" y1="434.91" x2="111.15" y2="434.91" stroke="#1e1e1e"/>
<line x1="83.08" y1="446.42" x2="88.69" y2="446.42" stroke="#1e1e1e"/>
<line x1="77.46" y1="429.86" x2="77.46" y2="440.67" stroke="#1e1e1e"/>
<line x1="77.46" y1="429.86" x2="116.77" y2="429.86" stroke="#1e1e1e"/>
<line x1="77.46" y1="440.67" x2="83.08" y2="440.67" stroke="#1e1e1e"/>
<line x1="71.85" y1="421.19" x2="71.85" y2="435.26" stroke="#1e1e1e"/>
<line x1="71.85" y1="421.19" x2="105.54" y2="421.19" stroke="#1e1e1e"/>
<line x1="71.85" y1="435.26" x2="77.46" y2="435.26" stroke="#1e1e1e"/>
<line x1="66.23" y1="413.83" x2="66.23" y2="428.23" stroke="#1e1e1e"/>
<line x1="66.23" y1="413.83" x2="111.15" y2="413.83" stroke="#1e1e1e"/>
<line x1="66.23" y1="428.23" x2="71.85" y2="428.23" stroke="#1e1e1e"/>
<line x1="60.62" y1="408.34" x2="60.62" y2="421.03" stroke="#1e1e1e"/>
<line x1="60.62" y1="408.34" x2="128.00" y2="408.34" stroke="#1e1e1e"/>
<line x1="60.62" y1="421.03" x2="66.23" y2="421.03" stroke="#1e1e1e"/>
<line x1="55.00" y1="401.75" x2="55.00" y2="414.68" stroke="#1e1e1e"/>
<line x1="55.00" y1="401.75" x2="111.15" y2="401.75" stroke="#1e1e1e"/>
<line x1="55.00" y1="414.68" x2="60.62" y2="414.68" stroke="#1e1e1e"/>
<line x1="49.20" y1="369.29" x2="49.20" y2="408.22" stroke="#1e1e1e"/>
<line x1="49.20" y1="369.29" x2="88.50" y2="369.29" stroke="#1e1e1e"/>
<line x1="49.20" y1="408.22" x2="55.00" y2="408.22" stroke="#1e1e1e"/>
<line x1="44.30" y1="321.13" x2="44.30" y2="388.76" stroke="#1e1e1e"/>
<line x1="44.30" y1="321.13" x2="73.30" y2="321.13" stroke="#1e1e1e"/>
<line x1="73.30" y1="321.13" x2="83.40" y2="321.13" stroke="#f89b9b"/>
<line x1="44.30" y1="388.76" x2="49.20" y2="388.76" stroke="#1e1e1e"/>
<line x1="39.40" y1="312.58" x2="39.40" y2="354.94" stroke="#1e1e1e"/>
<line x1="39.40" y1="312.58" x2="118.80" y2="312.58" stroke="#1e1e1e"/>
<line x1="39.40" y1="354.94" x2="44.30" y2="354.94" stroke="#1e1e1e"/>
<line x1="34.50" y1="309.95" x2="34.50" y2="333.76" stroke="#1e1e1e"/>
<line x1="34.50" y1="309.95" x2="128.00" y2="309.95" stroke="#1e1e1e"/>
<line x1="34.50" y1="333.76" x2="39.40" y2="333.76" stroke="#1e1e1e"/>
<line x1="29.60" y1="304.90" x2="29.60" y2="321.86" stroke="#1e1e1e"/>
<line x1="29.60" y1="304.90" x2="113.00" y2="304.90" stroke="#1e1e1e"/>
<line x1="29.60" y1="321.86" x2="34.50" y2="321.86" stroke="#1e1e1e"/>
<line x1="24.50" y1="117.53" x2="24.50" y2="313.38" stroke="#1e1e1e"/>
<line x1="24.50" y1="117.53" x2="39.30" y2="117.53" stroke="#1e1e1e"/>
<line x1="24.50" y1="313.38" x2="29.60" y2="313.38" stroke="#1e1e1e"/>
<line x1="118.67" y1="473.35" x2="118.67" y2="475.11" stroke="#1e1e1e"/>
<line x1="118.67" y1="473.35" x2="128.00" y2="473.35" stroke="#1e1e1e"/>
<line x1="118.67" y1="475.11" x2="128.00" y2="475.11" stroke="#1e1e1e"/>
<line x1="109.33" y1="474.23" x2="109.33" y2="476.86" stroke="#1e1e1e"/>
<line x1="109.33" y1="474.23" x2="118.67" y2="474.23" stroke="#1e1e1e"/>
<line x1="109.33" y1="476.86" x2="128.00" y2="476.86" stroke="#1e1e1e"/>
<line x1="100.00" y1="471.59" x2="100.00" y2="475.54" stroke="#1e1e1e"/>
<line x1="100.00" y1="471.59" x2="128.00" y2="471.59" stroke="#1e1e1e"/>
<line x1="100.00" y1="475.54" x2="109.33" y2="475.54" stroke="#1e1e1e"/>
<line x1="119.33" y1="480.38" x2="119.33" y2="482.13" stroke="#1e1e1e"/>
<line x1="119.33" y1="480.38" x2="128.00" y2="480.38" stroke="#1e1e1e"/>
<line x1="119.33" y1="482.13" x2="128.00" y2="482.13" stroke="#1e1e1e"/>
<line x1="119.33" y1="483.89" x2="119.33" y2="485.65" stroke="#1e1e1e"/>
<line x1="119.33" y1="483.89" x2="128.00" y2="483.89" stroke="#1e1e1e"/>
<line x1="119.33" y1="485.65" x2="128.00" y2="485.65" stroke="#1e1e1e"/>
<line x1="110.67" y1="481.25" x2="110.67" y2="484.77" stroke="#1e1e1e"/>
<line x1="110.67" y1="481.25" x2="119.33" y2="481.25" stroke="#1e1e1e"/>
<line x1="110.67" y1="484.77" x2="119.33" y2="484.77" stroke="#1e1e1e"/>
<line x1="102.00" y1="478.62" x2="102.00" y2="483.01" stroke="#1e1e1e"/>
<line x1="102.00" y1="478.62" x2="128.00" y2="478.62" stroke="#1e1e1e"/>
<line x1="102.00" y1="483.01" x2="110.67" y2="483.01" stroke="#1e1e1e"/>
<line x1="118.00" y1="487.40" x2="118.00" y2="489.16" stroke="#1e1e1e"/>
<line x1="118.00" y1="487.40" x2="128.00" y2="487.40" stroke="#1e1e1e"/>
<line x1="118.00" y1="489.16" x2="128.00" y2="489.16" stroke="#1e1e1e"/>
<line x1="108.00" y1="488.28" x2="108.00" y2="490.92" stroke="#1e1e1e"/>
<line x1="108.00" y1="488.28" x2="118.00" y2="488.28" stroke="#1e1e1e"/>
<line x1="108.00" y1="490.92" x2="128.00" y2="490.92" stroke="#1e1e1e"/>
<line x1="118.00" y1="492.68" x2="118.00" y2="494.43" stroke="#1e1e1e"/>
<line x1="118.00" y1="492.68" x2="128.00" y2="492.68" stroke="#1e1e1e"/>
<line x1="118.00" y1="494.43" x2="128.00" y2="494.43" stroke="#1e1e1e"/>
<line x1="98.00" y1="489.60" x2="98.00" y2="493.55" stroke="#1e1e1e"/>
<line x1="98.00" y1="489.60" x2="108.00" y2="489.60" stroke="#1e1e1e"/>
<line x1="98.00" y1="493.55" x2="118.00" y2="493.55" stroke="#1e1e1e"/>
<line x1="118.67" y1="496.19" x2="118.67" y2="497.95" stroke="#f89b9b"/>
<line x1="118.67" y1="496.19" x2="128.00" y2="496.19" stroke="#f89b9b"/>
<line x1="118.67" y1="497.95" x2="128.00" y2="497.95" stroke="#f89b9b"/>
<line x1="109.33" y1="497.07" x2="109.33" y2="499.70" stroke="#f89b9b"/>
<line x1="109.33" y1="497.07" x2="118.67" y2="497.07" stroke="#f89b9b"/>
<line x1="109.33" y1="499.70" x2="128.00" y2="499.70" stroke="#f89b9b"/>
<line x1="118.67" y1="503.22" x2="118.67" y2="504.97" stroke="#f89b9b"/>
<line x1="118.67" y1="503.22" x2="128.00" y2="503.22" stroke="#f89b9b"/>
<line x1="118.67" y1="504.97" x2="128.00" y2="504.97" stroke="#f89b9b"/>
<line x1="109.33" y1="501.46" x2="109.33" y2="504.10" stroke="#f89b9b"/>
<line x1="109.33" y1="501.46" x2="128.00" y2="501.46" stroke="#f89b9b"/>
<line x1="109.33" y1="504.10" x2="118.67" y2="504.10" stroke="#f89b9b"/>
<line x1="100.00" y1="498.39" x2="100.00" y2="502.78" stroke="#f89b9b"/>
<line x1="100.00" y1="498.39" x2="109.33" y2="498.39" stroke="#f89b9b"/>
<line x1="100.00" y1="502.78" x2="109.33" y2="502.78" stroke="#f89b9b"/>
<line x1="104.00" y1="506.73" x2="104.00" y2="508.49" stroke="#1e1e1e"/>
<line x1="104.00" y1="506.73" x2="128.00" y2="506.73" stroke="#1e1e1e"/>
<line x1="104.00" y1="508.49" x2="128.00" y2="508.49" stroke="#1e1e1e"/>
<line x1="120.50" y1="510.25" x2="120.50" y2="512.00" stroke="#f89b9b"/>
<line x1="120.50" y1="510.25" x2="128.00" y2="510.25" stroke="#f89b9b"/>
<line x1="120.50" y1="512.00" x2="128.00" y2="512.00" stroke="#f89b9b"/>
<line x1="120.50" y1="515.52" x2="120.50" y2="517.27" stroke="#f89b9b"/>
<line x1="120.50" y1="515.52" x2="128.00" y2="515.52" stroke="#f89b9b"/>
<line x1="120.50" y1="517.27" x2="128.00" y2="517.27" stroke="#f89b9b"/>
<line x1="113.00" y1="516.39" x2="113.00" y2="519.03" stroke="#f89b9b"/>
<line x1="113.00" y1="516.39" x2="120.50" y2="516.39" stroke="#f89b9b"/>
<line x1="113.00" y1="519.03" x2="128.00" y2="519.03" stroke="#f89b9b"/>
<line x1="105.50" y1="513.76" x2="105.50" y2="517.71" stroke="#f89b9b"/>
<line x1="105.50" y1="513.76" x2="128.00" y2="513.76" stroke="#f89b9b"/>
<line x1="105.50" y1="517.71" x2="113.00" y2="517.71" stroke="#f89b9b"/>
<line x1="98.00" y1="511.12" x2="98.00" y2="515.74" stroke="#f89b9b"/>
<line x1="98.00" y1="511.12" x2="120.50" y2="511.12" stroke="#f89b9b"/>
<line x1="98.00" y1="515.74" x2="105.50" y2="515.74" stroke="#f89b9b"/>
<line x1="117.33" y1="520.79" x2="117.33" y2="522.54" stroke="#1e1e1e"/>
<line x1="117.33" y1="520.79" x2="128.00" y2="520.79" stroke="#1e1e1e"/>
<line x1="117.33" y1="522.54" x2="128.00" y2="522.54" stroke="#1e1e1e"/>
<line x1="106.67" y1="521.67" x2="106.67" y2="524.30" stroke="#1e1e1e"/>
<line x1="106.67" y1="521.67" x2="117.33" y2="521.67" stroke="#1e1e1e"/>
<line x1="106.67" y1="524.30" x2="128.00" y2="524.30" stroke="#1e1e1e"/>
<line x1="117.33" y1="526.06" x2="117.33" y2="527.82" stroke="#1e1e1e"/>
<line x1="117.33" y1="526.06" x2="128.00" y2="526.06" stroke="#1e1e1e"/>
<line x1="117.33" y1="527.82" x2="128.00" y2="527.82" stroke="#1e1e1e"/>
<line x1="117.33" y1="529.57" x2="117.33" y2="531.33" stroke="#1e1e1e"/>
<line x1="117.33" y1="529.57" x2="128.00" y2="529.57" stroke="#1e1e1e"/>
<line x1="117.33" y1="531.33" x2="128.00" y2="531.33" stroke="#1e1e1e"/>
<line x1="106.67" y1="526.94" x2="106.67" y2="530.45" stroke="#1e1e1e"/>
<line x1="106.67" y1="526.94" x2="117.33" y2="526.94" stroke="#1e1e1e"/>
<line x1="106.67" y1="530.45" x2="117.33" y2="530.45" stroke="#1e1e1e"/>
<line x1="96.00" y1="522.98" x2="96.00" y2="528.69" stroke="#1e1e1e"/>
<line x1="96.00" y1="522.98" x2="106.67" y2="522.98" stroke="#1e1e1e"/>
<line x1="96.00" y1="528.69" x2="106.67" y2="528.69" stroke="#1e1e1e"/>
<line x1="122.00" y1="533.09" x2="122.00" y2="534.84" stroke="#f89b9b"/>
<line x1="122.00" y1="533.09" x2="128.00" y2="533.09" stroke="#f89b9b"/>
<line x1="122.00" y1="534.84" x2="128.00" y2="534.84" stroke="#f89b9b"/>
<line x1="112.00" y1="536.60" x2="112.00" y2="538.36" stroke="#1e1e1e"/>
<line x1="112.00" y1="536.60" x2="128.00" y2="536.60" stroke="#1e1e1e"/>
<line x1="112.00" y1="538.36" x2="128.00" y2="538.36" stroke="#1e1e1e"/>
<line x1="118.00" y1="540.11" x2="118.00" y2="541.87" stroke="#1e1e1e"/>
<line x1="118.00" y1="540.11" x2="128.00" y2="540.11" stroke="#1e1e1e"/>
<line x1="118.00" y1="541.87" x2="128.00" y2="541.87" stroke="#1e1e1e"/>
<line x1="108.00" y1="540.99" x2="108.00" y2="543.63" stroke="#1e1e1e"/>
<line x1="108.00" y1="540.99" x2="118.00" y2="540.99" stroke="#1e1e1e"/>
<line x1="108.00" y1="543.63" x2="128.00" y2="543.63" stroke="#1e1e1e"/>
<line x1="119.35" y1="545.39" x2="119.35" y2="547.14" stroke="#1e1e1e"/>
<line x1="119.35" y1="545.39" x2="128.00" y2="545.39" stroke="#1e1e1e"/>
<line x1="119.35" y1="547.14" x2="128.00" y2="547.14" stroke="#1e1e1e"/>
<line x1="110.70" y1="546.26" x2="110.70" y2="548.90" stroke="#1e1e1e"/>
<line x1="110.70" y1="546.26" x2="119.35" y2="546.26" stroke="#1e1e1e"/>
<line x1="110.70" y1="548.90" x2="128.00" y2="548.90" stroke="#1e1e1e"/>
<line x1="119.35" y1="552.41" x2="119.35" y2="554.17" stroke="#1e1e1e"/>
<line x1="119.35" y1="552.41" x2="128.00" y2="552.41" stroke="#1e1e1e"/>
<line x1="119.35" y1="554.17" x2="128.00" y2="554.17" stroke="#1e1e1e"/>
<line x1="110.70" y1="550.66" x2="110.70" y2="553.29" stroke="#1e1e1e"/>
<line x1="110.70" y1="550.66" x2="128.00" y2="550.66" stroke="#1e1e1e"/>
<line x1="110.70" y1="553.29" x2="119.35" y2="553.29" stroke="#1e1e1e"/>
<line x1="102.05" y1="551.97" x2="102.05" y2="555.93" stroke="#1e1e1e"/>
<line x1="102.05" y1="551.97" x2="110.70" y2="551.97" stroke="#1e1e1e"/>
<line x1="102.05" y1="555.93" x2="128.00" y2="555.93" stroke="#1e1e1e"/>
<line x1="93.40" y1="547.58" x2="93.40" y2="553.95" stroke="#1e1e1e"/>
<line x1="93.40" y1="547.58" x2="110.70" y2="547.58" stroke="#1e1e1e"/>
<line x1="93.40" y1="553.95" x2="102.05" y2="553.95" stroke="#1e1e1e"/>
<line x1="112.00" y1="557.68" x2="112.00" y2="559.44" stroke="#1e1e1e"/>
<line x1="112.00" y1="557.68" x2="128.00" y2="557.68" stroke="#1e1e1e"/>
<line x1="112.00" y1="559.44" x2="128.00" y2="559.44" stroke="#1e1e1e"/>
<line x1="114.00" y1="561.20" x2="114.00" y2="562.96" stroke="#1e1e1e"/>
<line x1="114.00" y1="561.20" x2="128.00" y2="561.20" stroke="#1e1e1e"/>
<line x1="114.00" y1="562.96" x2="128.00" y2="562.96" stroke="#1e1e1e"/>
<line x1="121.00" y1="564.71" x2="121.00" y2="566.47" stroke="#1e1e1e"/>
<line x1="121.00" y1="564.71" x2="128.00" y2="564.71" stroke="#1e1e1e"/>
<line x1="121.00" y1="566.47" x2="128.00" y2="566.47" stroke="#1e1e1e"/>
<line x1="121.00" y1="569.98" x2="121.00" y2="571.74" stroke="#1e1e1e"/>
<line x1="121.00" y1="569.98" x2="128.00" y2="569.98" stroke="#1e1e1e"/>
<line x1="121.00" y1="571.74" x2="128.00" y2="571.74" stroke="#1e1e1e"/>
<line x1="114.00" y1="570.86" x2="114.00" y2="573.50" stroke="#1e1e1e"/>
<line x1="114.00" y1="570.86" x2="121.00" y2="570.86" stroke="#1e1e1e"/>
<line x1="114.00" y1="573.50" x2="128.00" y2="573.50" stroke="#1e1e1e"/>
<line x1="107.00" y1="568.23" x2="107.00" y2="572.18" stroke="#1e1e1e"/>
<line x1="107.00" y1="568.23" x2="128.00" y2="568.23" stroke="#1e1e1e"/>
<line x1="107.00" y1="572.18" x2="114.00" y2="572.18" stroke="#1e1e1e"/>
<line x1="100.00" y1="565.59" x2="100.00" y2="570.20" stroke="#1e1e1e"/>
<line x1="100.00" y1="565.59" x2="121.00" y2="565.59" stroke="#1e1e1e"/>
<line x1="100.00" y1="570.20" x2="107.00" y2="570.20" stroke="#1e1e1e"/>
<line x1="120.67" y1="577.01" x2="120.67" y2="578.77" stroke="#1e1e1e"/>
<line x1="120.67" y1="577.01" x2="128.00" y2="577.01" stroke="#1e1e1e"/>
<line x1="120.67" y1="578.77" x2="128.00" y2="578.77" stroke="#1e1e1e"/>
<line x1="113.33" y1="575.25" x2="113.33" y2="577.89" stroke="#1e1e1e"/>
<line x1="113.33" y1="575.25" x2="128.00" y2="575.25" stroke="#1e1e1e"/>
<line x1="113.33" y1="577.89" x2="120.67" y2="577.89" stroke="#1e1e1e"/>
<line x1="120.67" y1="580.53" x2="120.67" y2="582.28" stroke="#1e1e1e"/>
<line x1="120.67" y1="580.53" x2="128.00" y2="580.53" stroke="#1e1e1e"/>
<line x1="120.67" y1="582.28" x2="128.00" y2="582.28" stroke="#1e1e1e"/>
<line x1="120.67" y1="584.04" x2="120.67" y2="585.80" stroke="#1e1e1e"/>
<line x1="120.67" y1="584.04" x2="128.00" y2="584.04" stroke="#1e1e1e"/>
<line x1="120.67" y1="585.80" x2="128.00" y2="585.80" stroke="#1e1e1e"/>
<line x1="120.67" y1="591.07" x2="120.67" y2="592.82" stroke="#1e1e1e"/>
<line x1="120.67" y1="591.07" x2="128.00" y2="591.07" stroke="#1e1e1e"/>
<line x1="120.67" y1="592.82" x2="128.00" y2="592.82" stroke="#1e1e1e"/>
<line x1="113.33" y1="589.31" x2="113.33" y2="591.95" stroke="#1e1e1e"/>
<line x1="113.33" y1="589.31" x2="128.00" y2="589.31" stroke="#1e1e1e"/>
<line x1="113.33" y1="591.95" x2="120.67" y2="591.95" stroke="#1e1e1e"/>
<line x1="106.00" y1="587.55" x2="106.00" y2="590.63" stroke="#1e1e1e"/>
<line x1="106.00" y1="587.55" x2="128.00" y2="587.55" stroke="#1e1e1e"/>
<line x1="106.00" y1="590.63" x2="113.33" y2="590.63" stroke="#1e1e1e"/>
<line x1="98.67" y1="584.92" x2="98.67" y2="589.09" stroke="#1e1e1e"/>
<line x1="98.67" y1="584.92" x2="120.67" y2="584.92" stroke="#1e1e1e"/>
<line x1="98.67" y1="589.09" x2="106.00" y2="589.09" stroke="#1e1e1e"/>
<line x1="91.33" y1="581.40" x2="91.33" y2="587.00" stroke="#1e1e1e"/>
<line x1="91.33" y1="581.40" x2="120.67" y2="581.40" stroke="#1e1e1e"/>
<line x1="91.33" y1="587.00" x2="98.67" y2="587.00" stroke="#1e1e1e"/>
<line x1="84.00" y1="576.57" x2="84.00" y2="584.20" stroke="#1e1e1e"/>
<line x1="84.00" y1="576.57" x2="113.33" y2="576.57" stroke="#1e1e1e"/>
<line x1="84.00" y1="584.20" x2="91.33" y2="584.20" stroke="#1e1e1e"/>
<line x1="122.00" y1="594.58" x2="122.00" y2="596.34" stroke="#1e1e1e"/>
<line x1="122.00" y1="594.58" x2="128.00" y2="594.58" stroke="#1e1e1e"/>
<line x1="122.00" y1="596.34" x2="128.00" y2="596.34" stroke="#1e1e1e"/>
<line x1="122.00" y1="598.10" x2="122.00" y2="599.85" stroke="#1e1e1e"/>
<line x1="122.00" y1="598.10" x2="128.00" y2="598.10" stroke="#1e1e1e"/>
<line x1="122.00" y1="599.85" x2="128.00" y2="599.85" stroke="#1e1e1e"/>
<line x1="116.00" y1="598.97" x2="116.00" y2="601.61" stroke="#1e1e1e"/>
<line x1="116.00" y1="598.97" x2="122.00" y2="598.97" stroke="#1e1e1e"/>
<line x1="116.00" y1="601.61" x2="128.00" y2="601.61" stroke="#1e1e1e"/>
<line x1="122.00" y1="603.37" x2="122.00" y2="605.12" stroke="#1e1e1e"/>
<line x1="122.00" y1="603.37" x2="128.00" y2="603.37" stroke="#1e1e1e"/>
<line x1="122.00" y1="605.12" x2="128.00" y2="605.12" stroke="#1e1e1e"/>
<line x1="122.00" y1="606.88" x2="122.00" y2="608.64" stroke="#1e1e1e"/>
<line x1="122.00" y1="606.88" x2="128.00" y2="606.88" stroke="#1e1e1e"/>
<line x1="122.00" y1="608.64" x2="128.00" y2="608.64" stroke="#1e1e1e"/>
<line x1="122.00" y1="610.39" x2="122.00" y2="612.15" stroke="#1e1e1e"/>
<line x1="122.00" y1="610.39" x2="128.00" y2="610.39" stroke="#1e1e1e"/>
<line x1="122.00" y1="612.15" x2="128.00" y2="612.15" stroke="#1e1e1e"/>
<line x1="116.00" y1="607.76" x2="116.00" y2="611.27" stroke="#1e1e1e"/>
<line x1="116.00" y1="607.76" x2="122.00" y2="607.76" stroke="#1e1e1e"/>
<line x1="116.00" y1="611.27" x2="122.00" y2="611.27" stroke="#1e1e1e"/>
<line x1="110.00" y1="604.24" x2="110.00" y2="609.52" stroke="#1e1e1e"/>
<line x1="110.00" y1="604.24" x2="122.00" y2="604.24" stroke="#1e1e1e"/>
<line x1="110.00" y1="609.52" x2="116.00" y2="609.52" stroke="#1e1e1e"/>
<line x1="104.00" y1="600.29" x2="104.00" y2="606.88" stroke="#1e1e1e"/>
<line x1="104.00" y1="600.29" x2="116.00" y2="600.29" stroke="#1e1e1e"/>
<line x1="104.00" y1="606.88" x2="110.00" y2="606.88" stroke="#1e1e1e"/>
<line x1="98.00" y1="595.46" x2="98.00" y2="603.59" stroke="#1e1e1e"/>
<line x1="98.00" y1="595.46" x2="122.00" y2="595.46" stroke="#1e1e1e"/>
<line x1="98.00" y1="603.59" x2="104.00" y2="603.59" stroke="#1e1e1e"/>
<line x1="78.60" y1="580.39" x2="78.60" y2="599.52" stroke="#1e1e1e"/>
<line x1="78.60" y1="580.39" x2="84.00" y2="580.39" stroke="#1e1e1e"/>
<line x1="78.60" y1="599.52" x2="98.00" y2="599.52" stroke="#1e1e1e"/>
<line x1="73.60" y1="567.90" x2="73.60" y2="589.96" stroke="#1e1e1e"/>
<line x1="73.60" y1="567.90" x2="100.00" y2="567.90" stroke="#1e1e1e"/>
<line x1="73.60" y1="589.96" x2="78.60" y2="589.96" stroke="#1e1e1e"/>
<line x1="64.40" y1="562.08" x2="64.40" y2="578.93" stroke="#1e1e1e"/>
<line x1="64.40" y1="562.08" x2="114.00" y2="562.08" stroke="#1e1e1e"/>
<line x1="64.40" y1="578.93" x2="73.60" y2="578.93" stroke="#1e1e1e"/>
<line x1="59.00" y1="558.56" x2="59.00" y2="570.50" stroke="#1e1e1e"/>
<line x1="59.00" y1="558.56" x2="112.00" y2="558.56" stroke="#1e1e1e"/>
<line x1="59.00" y1="570.50" x2="64.40" y2="570.50" stroke="#1e1e1e"/>
<line x1="53.70" y1="550.77" x2="53.70" y2="564.53" stroke="#1e1e1e"/>
<line x1="53.70" y1="550.77" x2="93.40" y2="550.77" stroke="#1e1e1e"/>
<line x1="53.70" y1="564.53" x2="59.00" y2="564.53" stroke="#1e1e1e"/>
<line x1="50.50" y1="542.31" x2="50.50" y2="557.65" stroke="#1e1e1e"/>
<line x1="50.50" y1="542.31" x2="108.00" y2="542.31" stroke="#1e1e1e"/>
<line x1="50.50" y1="557.65" x2="53.70" y2="557.65" stroke="#1e1e1e"/>
<line x1="47.00" y1="537.48" x2="47.00" y2="549.98" stroke="#1e1e1e"/>
<line x1="47.00" y1="537.48" x2="112.00" y2="537.48" stroke="#1e1e1e"/>
<line x1="47.00" y1="549.98" x2="50.50" y2="549.98" stroke="#1e1e1e"/>
<line x1="43.50" y1="533.96" x2="43.50" y2="543.73" stroke="#1e1e1e"/>
<line x1="43.50" y1="533.96" x2="122.00" y2="533.96" stroke="#1e1e1e"/>
<line x1="122.00" y1="533.96" x2="122.00" y2="533.96" stroke="#f89b9b"/>
<line x1="43.50" y1="543.73" x2="47.00" y2="543.73" stroke="#1e1e1e"/>
<line x1="40.00" y1="525.84" x2="40.00" y2="538.85" stroke="#1e1e1e"/>
<line x1="40.00" y1="525.84" x2="96.00" y2="525.84" stroke="#1e1e1e"/>
<line x1="40.00" y1="538.85" x2="43.50" y2="538.85" stroke="#1e1e1e"/>
<line x1="36.50" y1="513.43" x2="36.50" y2="532.34" stroke="#1e1e1e"/>
<line x1="36.50" y1="513.43" x2="95.20" y2="513.43" stroke="#1e1e1e"/>
<line x1="95.20" y1="513.43" x2="98.00" y2="513.43" stroke="#f89b9b"/>
<line x1="36.50" y1="532.34" x2="40.00" y2="532.34" stroke="#1e1e1e"/>
<line x1="33.00" y1="507.61" x2="33.00" y2="522.89" stroke="#1e1e1e"/>
<line x1="33.00" y1="507.61" x2="104.00" y2="507.61" stroke="#1e1e1e"/>
<line x1="33.00" y1="522.89" x2="36.50" y2="522.89" stroke="#1e1e1e"/>
<line x1="29.50" y1="500.58" x2="29.50" y2="515.25" stroke="#1e1e1e"/>
<line x1="29.50" y1="500.58" x2="100.00" y2="500.58" stroke="#1e1e1e"/>
<line x1="100.00" y1="500.58" x2="100.00" y2="500.58" stroke="#f89b9b"/>
<line x1="29.50" y1="515.25" x2="33.00" y2="515.25" stroke="#1e1e1e"/>
<line x1="26.00" y1="491.58" x2="26.00" y2="507.92" stroke="#1e1e1e"/>
<line x1="26.00" y1="491.58" x2="98.00" y2="491.58" stroke="#1e1e1e"/>
<line x1="26.00" y1="507.92" x2="29.50" y2="507.92" stroke="#1e1e1e"/>
<line x1="22.50" y1="480.82" x2="22.50" y2="499.75" stroke="#1e1e1e"/>
<line x1="22.50" y1="480.82" x2="102.00" y2="480.82" stroke="#1e1e1e"/>
<line x1="22.50" y1="499.75" x2="26.00" y2="499.75" stroke="#1e1e1e"/>
<line x1="19.20" y1="473.57" x2="19.20" y2="490.28" stroke="#1e1e1e"/>
<line x1="19.20" y1="473.57" x2="100.00" y2="473.57" stroke="#1e1e1e"/>
<line x1="19.20" y1="490.28" x2="22.50" y2="490.28" stroke="#1e1e1e"/>
<line x1="15.40" y1="215.45" x2="15.40" y2="481.92" stroke="#1e1e1e"/>
<line x1="15.40" y1="215.45" x2="24.50" y2="215.45" stroke="#1e1e1e"/>
<line x1="15.40" y1="481.92" x2="19.20" y2="481.92" stroke="#1e1e1e"/>
<line x1="120.50" y1="613.91" x2="120.50" y2="615.67" stroke="#1e1e1e"/>
<line x1="120.50" y1="613.91" x2="128.00" y2="613.91" stroke="#1e1e1e"/>
<line x1="120.50" y1="615.67" x2="128.00" y2="615.67" stroke="#1e1e1e"/>
<line x1="120.50" y1="617.42" x2="120.50" y2="619.18" stroke="#1e1e1e"/>
<line x1="120.50" y1="617.42" x2="128.00" y2="617.42" stroke="#1e1e1e"/>
<line x1="120.50" y1="619.18" x2="128.00" y2="619.18" stroke="#1e1e1e"/>
<line x1="120.50" y1="620.94" x2="120.50" y2="622.69" stroke="#1e1e1e"/>
<line x1="120.50" y1="620.94" x2="128.00" y2="620.94" stroke="#1e1e1e"/>
<line x1="120.50" y1="622.69" x2="128.00" y2="622.69" stroke="#1e1e1e"/>
<line x1="113.00" y1="621.82" x2="113.00" y2="624.45" stroke="#1e1e1e"/>
<line x1="113.00" y1="621.82" x2="120.50" y2="621.82" stroke="#1e1e1e"/>
<line x1="113.00" y1="624.45" x2="128.00" y2="624.45" stroke="#1e1e1e"/>
<line x1="105.50" y1="618.30" x2="105.50" y2="623.13" stroke="#1e1e1e"/>
<line x1="105.50" y1="618.30" x2="120.50" y2="618.30" stroke="#1e1e1e"/>
<line x1="105.50" y1="623.13" x2="113.00" y2="623.13" stroke="#1e1e1e"/>
<line x1="98.00" y1="614.79" x2="98.00" y2="620.72" stroke="#1e1e1e"/>
<line x1="98.00" y1="614.79" x2="120.50" y2="614.79" stroke="#1e1e1e"/>
<line x1="98.00" y1="620.72" x2="105.50" y2="620.72" stroke="#1e1e1e"/>
<line x1="123.71" y1="627.96" x2="123.71" y2="629.72" stroke="#1e1e1e"/>
<line x1="123.71" y1="627.96" x2="128.00" y2="627.96" stroke="#1e1e1e"/>
<line x1="123.71" y1="629.72" x2="128.00" y2="629.72" stroke="#1e1e1e"/>
<line x1="123.71" y1="631.48" x2="123.71" y2="633.24" stroke="#1e1e1e"/>
<line x1="123.71" y1="631.48" x2="128.00" y2="631.48" stroke="#1e1e1e"/>
<line x1="123.71" y1="633.24" x2="128.00" y2="633.24" stroke="#1e1e1e"/>
<line x1="119.43" y1="628.84" x2="119.43" y2="632.36" stroke="#1e1e1e"/>
<line x1="119.43" y1="628.84" x2="123.71" y2="628.84" stroke="#1e1e1e"/>
<line x1="119.43" y1="632.36" x2="123.71" y2="632.36" stroke="#1e1e1e"/>
<line x1="115.14" y1="626.21" x2="115.14" y2="630.60" stroke="#1e1e1e"/>
<line x1="115.14" y1="626.21" x2="128.00" y2="626.21" stroke="#1e1e1e"/>
<line x1="115.14" y1="630.60" x2="119.43" y2="630.60" stroke="#1e1e1e"/>
<line x1="123.71" y1="634.99" x2="123.71" y2="636.75" stroke="#1e1e1e"/>
<line x1="123.71" y1="634.99" x2="128.00" y2="634.99" stroke="#1e1e1e"/>
<line x1="123.71" y1="636.75" x2="128.00" y2="636.75" stroke="#1e1e1e"/>
<line x1="110.86" y1="628.40" x2="110.86" y2="635.87" stroke="#1e1e1e"/>
<line x1="110.86" y1="628.40" x2="115.14" y2="628.40" stroke="#1e1e1e"/>
<line x1="110.86" y1="635.87" x2="123.71" y2="635.87" stroke="#1e1e1e"/>
<line x1="123.71" y1="638.51" x2="123.71" y2="640.26" stroke="#1e1e1e"/>
<line x1="123.71" y1="638.51" x2="128.00" y2="638.51" stroke="#1e1e1e"/>
<line x1="123.71" y1="640.26" x2="128.00" y2="640.26" stroke="#1e1e1e"/>
<line x1="123.71" y1="642.02" x2="123.71" y2="643.78" stroke="#1e1e1e"/>
<line x1="123.71" y1="642.02" x2="128.00" y2="642.02" stroke="#1e1e1e"/>
<line x1="123.71" y1="643.78" x2="128.00" y2="643.78" stroke="#1e1e1e"/>
<line x1="119.43" y1="639.38" x2="119.43" y2="642.90" stroke="#1e1e1e"/>
<line x1="119.43" y1="639.38" x2="123.71" y2="639.38" stroke="#1e1e1e"/>
<line x1="119.43" y1="642.90" x2="123.71" y2="642.90" stroke="#1e1e1e"/>
<line x1="123.71" y1="647.29" x2="123.71" y2="649.05" stroke="#1e1e1e"/>
<line x1="123.71" y1="647.29" x2="128.00" y2="647.29" stroke="#1e1e1e"/>
<line x1="123.71" y1="649.05" x2="128.00" y2="649.05" stroke="#1e1e1e"/>
<line x1="123.71" y1="654.32" x2="123.71" y2="656.08" stroke="#1e1e1e"/>
<line x1="123.71" y1="654.32" x2="128.00" y2="654.32" stroke="#1e1e1e"/>
<line x1="123.71" y1="656.08" x2="128.00" y2="656.08" stroke="#1e1e1e"/>
<line x1="119.43" y1="652.56" x2="119.43" y2="655.20" stroke="#1e1e1e"/>
<line x1="119.43" y1="652.56" x2="128.00" y2="652.56" stroke="#1e1e1e"/>
<line x1="119.43" y1="655.20" x2="123.71" y2="655.20" stroke="#1e1e1e"/>
<line x1="115.14" y1="650.81" x2="115.14" y2="653.88" stroke="#1e1e1e"/>
<line x1="115.14" y1="650.81" x2="128.00" y2="650.81" stroke="#1e1e1e"/>
<line x1="115.14" y1="653.88" x2="119.43" y2="653.88" stroke="#1e1e1e"/>
<line x1="110.86" y1="648.17" x2="110.86" y2="652.34" stroke="#1e1e1e"/>
<line x1="110.86" y1="648.17" x2="123.71" y2="648.17" stroke="#1e1e1e"/>
<line x1="110.86" y1="652.34" x2="115.14" y2="652.34" stroke="#1e1e1e"/>
<line x1="106.57" y1="645.53" x2="106.57" y2="650.26" stroke="#1e1e1e"/>
<line x1="106.57" y1="645.53" x2="128.00" y2="645.53" stroke="#1e1e1e"/>
<line x1="106.57" y1="650.26" x2="110.86" y2="650.26" stroke="#1e1e1e"/>
<line x1="102.29" y1="641.14" x2="102.29" y2="647.90" stroke="#1e1e1e"/>
<line x1="102.29" y1="641.14" x2="119.43" y2="641.14" stroke="#1e1e1e"/>
<line x1="102.29" y1="647.90" x2="106.57" y2="647.90" stroke="#1e1e1e"/>
<line x1="98.00" y1="632.14" x2="98.00" y2="644.52" stroke="#1e1e1e"/>
<line x1="98.00" y1="632.14" x2="110.86" y2="632.14" stroke="#1e1e1e"/>
<line x1="98.00" y1="644.52" x2="102.29" y2="644.52" stroke="#1e1e1e"/>
<line x1="93.20" y1="617.75" x2="93.20" y2="638.33" stroke="#1e1e1e"/>
<line x1="93.20" y1="617.75" x2="98.00" y2="617.75" stroke="#1e1e1e"/>
<line x1="93.20" y1="638.33" x2="98.00" y2="638.33" stroke="#1e1e1e"/>
<line x1="10.30" y1="348.69" x2="10.30" y2="628.04" stroke="#1e1e1e"/>
<line x1="10.30" y1="348.69" x2="15.40" y2="348.69" stroke="#1e1e1e"/>
<line x1="10.30" y1="628.04" x2="93.20" y2="628.04" stroke="#1e1e1e"/>
<line x1="121.00" y1="657.83" x2="121.00" y2="659.59" stroke="#f89b9b"/>
<line x1="121.00" y1="657.83" x2="128.00" y2="657.83" stroke="#f89b9b"/>
<line x1="121.00" y1="659.59" x2="128.00" y2="659.59" stroke="#f89b9b"/>
<line x1="122.00" y1="661.35" x2="122.00" y2="663.10" stroke="#1e1e1e"/>
<line x1="122.00" y1="661.35" x2="128.00" y2="661.35" stroke="#1e1e1e"/>
<line x1="122.00" y1="663.10" x2="128.00" y2="663.10" stroke="#1e1e1e"/>
<line x1="122.00" y1="664.86" x2="122.00" y2="666.62" stroke="#1e1e1e"/>
<line x1="122.00" y1="664.86" x2="128.00" y2="664.86" stroke="#1e1e1e"/>
<line x1="122.00" y1="666.62" x2="128.00" y2="666.62" stroke="#1e1e1e"/>
<line x1="116.00" y1="665.74" x2="116.00" y2="668.38" stroke="#1e1e1e"/>
<line x1="116.00" y1="665.74" x2="122.00" y2="665.74" stroke="#1e1e1e"/>
<line x1="116.00" y1="668.38" x2="128.00" y2="668.38" stroke="#1e1e1e"/>
<line x1="110.00" y1="662.23" x2="110.00" y2="667.06" stroke="#1e1e1e"/>
<line x1="110.00" y1="662.23" x2="122.00" y2="662.23" stroke="#1e1e1e"/>
<line x1="110.00" y1="667.06" x2="116.00" y2="667.06" stroke="#1e1e1e"/>
<line x1="103.60" y1="658.71" x2="103.60" y2="664.64" stroke="#1e1e1e"/>
<line x1="103.60" y1="658.71" x2="122.30" y2="658.71" stroke="#1e1e1e"/>
<line x1="122.30" y1="658.71" x2="121.00" y2="658.71" stroke="#f89b9b"/>
<line x1="103.60" y1="664.64" x2="110.00" y2="664.64" stroke="#1e1e1e"/>
<line x1="120.00" y1="670.13" x2="120.00" y2="671.89" stroke="#1e1e1e"/>
<line x1="120.00" y1="670.13" x2="128.00" y2="670.13" stroke="#1e1e1e"/>
<line x1="120.00" y1="671.89" x2="128.00" y2="671.89" stroke="#1e1e1e"/>
<line x1="120.67" y1="673.65" x2="120.67" y2="675.40" stroke="#1e1e1e"/>
<line x1="120.67" y1="673.65" x2="128.00" y2="673.65" stroke="#1e1e1e"/>
<line x1="120.67" y1="675.40" x2="128.00" y2="675.40" stroke="#1e1e1e"/>
<line x1="120.67" y1="677.16" x2="120.67" y2="678.92" stroke="#1e1e1e"/>
<line x1="120.67" y1="677.16" x2="128.00" y2="677.16" stroke="#1e1e1e"/>
<line x1="120.67" y1="678.92" x2="128.00" y2="678.92" stroke="#1e1e1e"/>
<line x1="113.33" y1="674.52" x2="113.33" y2="678.04" stroke="#1e1e1e"/>
<line x1="113.33" y1="674.52" x2="120.67" y2="674.52" stroke="#1e1e1e"/>
<line x1="113.33" y1="678.04" x2="120.67" y2="678.04" stroke="#1e1e1e"/>
<line x1="120.67" y1="684.19" x2="120.67" y2="685.95" stroke="#1e1e1e"/>
<line x1="120.67" y1="684.19" x2="128.00" y2="684.19" stroke="#1e1e1e"/>
<line x1="120.67" y1="685.95" x2="128.00" y2="685.95" stroke="#1e1e1e"/>
<line x1="113.33" y1="682.43" x2="113.33" y2="685.07" stroke="#1e1e1e"/>
<line x1="113.33" y1="682.43" x2="128.00" y2="682.43" stroke="#1e1e1e"/>
<line x1="113.33" y1="685.07" x2="120.67" y2="685.07" stroke="#1e1e1e"/>
<line x1="106.00" y1="680.67" x2="106.00" y2="683.75" stroke="#1e1e1e"/>
<line x1="106.00" y1="680.67" x2="128.00" y2="680.67" stroke="#1e1e1e"/>
<line x1="106.00" y1="683.75" x2="113.33" y2="683.75" stroke="#1e1e1e"/>
<line x1="120.67" y1="687.70" x2="120.67" y2="689.46" stroke="#1e1e1e"/>
<line x1="120.67" y1="687.70" x2="128.00" y2="687.70" stroke="#1e1e1e"/>
<line x1="120.67" y1="689.46" x2="128.00" y2="689.46" stroke="#1e1e1e"/>
<line x1="113.33" y1="688.58" x2="113.33" y2="691.22" stroke="#1e1e1e"/>
<line x1="113.33" y1="688.58" x2="120.67" y2="688.58" stroke="#1e1e1e"/>
<line x1="113.33" y1="691.22" x2="128.00" y2="691.22" stroke="#1e1e1e"/>
<line x1="98.67" y1="682.21" x2="98.67" y2="689.90" stroke="#1e1e1e"/>
<line x1="98.67" y1="682.21" x2="106.00" y2="682.21" stroke="#1e1e1e"/>
<line x1="98.67" y1="689.90" x2="113.33" y2="689.90" stroke="#1e1e1e"/>
<line x1="120.67" y1="692.97" x2="120.67" y2="694.73" stroke="#1e1e1e"/>
<line x1="120.67" y1="692.97" x2="128.00" y2="692.97" stroke="#1e1e1e"/>
<line x1="120.67" y1="694.73" x2="128.00" y2="694.73" stroke="#1e1e1e"/>
<line x1="120.67" y1="696.49" x2="120.67" y2="698.24" stroke="#1e1e1e"/>
<line x1="120.67" y1="696.49" x2="128.00" y2="696.49" stroke="#1e1e1e"/>
<line x1="120.67" y1="698.24" x2="128.00" y2="698.24" stroke="#1e1e1e"/>
<line x1="113.33" y1="693.85" x2="113.33" y2="697.37" stroke="#1e1e1e"/>
<line x1="113.33" y1="693.85" x2="120.67" y2="693.85" stroke="#1e1e1e"/>
<line x1="113.33" y1="697.37" x2="120.67" y2="697.37" stroke="#1e1e1e"/>
<line x1="91.33" y1="686.06" x2="91.33" y2="695.61" stroke="#1e1e1e"/>
<line x1="91.33" y1="686.06" x2="98.67" y2="686.06" stroke="#1e1e1e"/>
<line x1="91.33" y1="695.61" x2="113.33" y2="695.61" stroke="#1e1e1e"/>
<line x1="84.00" y1="676.28" x2="84.00" y2="690.83" stroke="#1e1e1e"/>
<line x1="84.00" y1="676.28" x2="113.33" y2="676.28" stroke="#1e1e1e"/>
<line x1="84.00" y1="690.83" x2="91.33" y2="690.83" stroke="#1e1e1e"/>
<line x1="121.40" y1="701.76" x2="121.40" y2="703.52" stroke="#1e1e1e"/>
<line x1="121.40" y1="701.76" x2="128.00" y2="701.76" stroke="#1e1e1e"/>
<line x1="121.40" y1="703.52" x2="128.00" y2="703.52" stroke="#1e1e1e"/>
<line x1="114.80" y1="702.64" x2="114.80" y2="705.27" stroke="#1e1e1e"/>
<line x1="114.80" y1="702.64" x2="121.40" y2="702.64" stroke="#1e1e1e"/>
<line x1="114.80" y1="705.27" x2="128.00" y2="705.27" stroke="#1e1e1e"/>
<line x1="121.40" y1="707.03" x2="121.40" y2="708.79" stroke="#1e1e1e"/>
<line x1="121.40" y1="707.03" x2="128.00" y2="707.03" stroke="#1e1e1e"/>
<line x1="121.40" y1="708.79" x2="128.00" y2="708.79" stroke="#1e1e1e"/>
<line x1="108.20" y1="703.95" x2="108.20" y2="707.91" stroke="#1e1e1e"/>
<line x1="108.20" y1="703.95" x2="114.80" y2="703.95" stroke="#1e1e1e"/>
<line x1="108.20" y1="707.91" x2="121.40" y2="707.91" stroke="#1e1e1e"/>
<line x1="101.60" y1="705.93" x2="101.60" y2="710.54" stroke="#1e1e1e"/>
<line x1="101.60" y1="705.93" x2="108.20" y2="705.93" stroke="#1e1e1e"/>
<line x1="101.60" y1="710.54" x2="128.00" y2="710.54" stroke="#1e1e1e"/>
<line x1="95.00" y1="700.00" x2="95.00" y2="708.24" stroke="#1e1e1e"/>
<line x1="95.00" y1="700.00" x2="128.00" y2="700.00" stroke="#1e1e1e"/>
<line x1="95.00" y1="708.24" x2="101.60" y2="708.24" stroke="#1e1e1e"/>
<line x1="123.00" y1="712.30" x2="123.00" y2="714.06" stroke="#f89b9b"/>
<line x1="123.00" y1="712.30" x2="128.00" y2="712.30" stroke="#f89b9b"/>
<line x1="123.00" y1="714.06" x2="128.00" y2="714.06" stroke="#f89b9b"/>
<line x1="123.00" y1="715.81" x2="123.00" y2="717.57" stroke="#f89b9b"/>
<line x1="123.00" y1="715.81" x2="128.00" y2="715.81" stroke="#f89b9b"/>
<line x1="123.00" y1="717.57" x2="128.00" y2="717.57" stroke="#f89b9b"/>
<line x1="118.00" y1="716.69" x2="118.00" y2="719.33" stroke="#f89b9b"/>
<line x1="118.00" y1="716.69" x2="123.00" y2="716.69" stroke="#f89b9b"/>
<line x1="118.00" y1="719.33" x2="128.00" y2="719.33" stroke="#f89b9b"/>
<line x1="113.00" y1="718.01" x2="113.00" y2="721.09" stroke="#f89b9b"/>
<line x1="113.00" y1="718.01" x2="118.00" y2="718.01" stroke="#f89b9b"/>
<line x1="113.00" y1="721.09" x2="128.00" y2="721.09" stroke="#f89b9b"/>
<line x1="108.00" y1="713.18" x2="108.00" y2="719.55" stroke="#f89b9b"/>
<line x1="108.00" y1="713.18" x2="123.00" y2="713.18" stroke="#f89b9b"/>
<line x1="108.00" y1="719.55" x2="113.00" y2="719.55" stroke="#f89b9b"/>
<line x1="88.40" y1="704.12" x2="88.40" y2="716.36" stroke="#1e1e1e"/>
<line x1="88.40" y1="704.12" x2="95.00" y2="704.12" stroke="#1e1e1e"/>
<line x1="88.40" y1="716.36" x2="106.40" y2="716.36" stroke="#1e1e1e"/>
<line x1="106.40" y1="716.36" x2="108.00" y2="716.36" stroke="#f89b9b"/>
<line x1="78.40" y1="683.56" x2="78.40" y2="710.24" stroke="#1e1e1e"/>
<line x1="78.40" y1="683.56" x2="84.00" y2="683.56" stroke="#1e1e1e"/>
<line x1="78.40" y1="710.24" x2="88.40" y2="710.24" stroke="#1e1e1e"/>
<line x1="73.80" y1="671.01" x2="73.80" y2="696.90" stroke="#1e1e1e"/>
<line x1="73.80" y1="671.01" x2="120.00" y2="671.01" stroke="#1e1e1e"/>
<line x1="73.80" y1="696.90" x2="78.40" y2="696.90" stroke="#1e1e1e"/>
<line x1="122.81" y1="726.36" x2="122.81" y2="728.11" stroke="#f89b9b"/>
<line x1="122.81" y1="726.36" x2="128.00" y2="726.36" stroke="#f89b9b"/>
<line x1="122.81" y1="728.11" x2="128.00" y2="728.11" stroke="#f89b9b"/>
<line x1="122.81" y1="729.87" x2="122.81" y2="731.63" stroke="#f89b9b"/>
<line x1="122.81" y1="729.87" x2="128.00" y2="729.87" stroke="#f89b9b"/>
<line x1="122.81" y1="731.63" x2="128.00" y2="731.63" stroke="#f89b9b"/>
<line x1="122.81" y1="735.14" x2="122.81" y2="736.90" stroke="#f89b9b"/>
<line x1="122.81" y1="735.14" x2="128.00" y2="735.14" stroke="#f89b9b"/>
<line x1="122.81" y1="736.90" x2="128.00" y2="736.90" stroke="#f89b9b"/>
<line x1="117.61" y1="733.38" x2="117.61" y2="736.02" stroke="#f89b9b"/>
<line x1="117.61" y1="733.38" x2="128.00" y2="733.38" stroke="#f89b9b"/>
<line x1="117.61" y1="736.02" x2="122.81" y2="736.02" stroke="#f89b9b"/>
<line x1="122.81" y1="738.66" x2="122.81" y2="740.41" stroke="#f89b9b"/>
<line x1="122.81" y1="738.66" x2="128.00" y2="738.66" stroke="#f89b9b"/>
<line x1="122.81" y1="740.41" x2="128.00" y2="740.41" stroke="#f89b9b"/>
<line x1="112.42" y1="734.70" x2="112.42" y2="739.53" stroke="#f89b9b"/>
<line x1="112.42" y1="734.70" x2="117.61" y2="734.70" stroke="#f89b9b"/>
<line x1="112.42" y1="739.53" x2="122.81" y2="739.53" stroke="#f89b9b"/>
<line x1="122.81" y1="742.17" x2="122.81" y2="743.93" stroke="#f89b9b"/>
<line x1="122.81" y1="742.17" x2="128.00" y2="742.17" stroke="#f89b9b"/>
<line x1="122.81" y1="743.93" x2="128.00" y2="743.93" stroke="#f89b9b"/>
<line x1="122.81" y1="745.68" x2="122.81" y2="747.44" stroke="#f89b9b"/>
<line x1="122.81" y1="745.68" x2="128.00" y2="745.68" stroke="#f89b9b"/>
<line x1="122.81" y1="747.44" x2="128.00" y2="747.44" stroke="#f89b9b"/>
<line x1="122.81" y1="750.95" x2="122.81" y2="752.71" stroke="#f89b9b"/>
<line x1="122.81" y1="750.95" x2="128.00" y2="750.95" stroke="#f89b9b"/>
<line x1="122.81" y1="752.71" x2="128.00" y2="752.71" stroke="#f89b9b"/>
<line x1="117.61" y1="751.83" x2="117.61" y2="754.47" stroke="#f89b9b"/>
<line x1="117.61" y1="751.83" x2="122.81" y2="751.83" stroke="#f89b9b"/>
<line x1="117.61" y1="754.47" x2="128.00" y2="754.47" stroke="#f89b9b"/>
<line x1="122.81" y1="756.23" x2="122.81" y2="757.98" stroke="#f89b9b"/>
<line x1="122.81" y1="756.23" x2="128.00" y2="756.23" stroke="#f89b9b"/>
<line x1="122.81" y1="757.98" x2="128.00" y2="757.98" stroke="#f89b9b"/>
<line x1="122.81" y1="759.74" x2="122.81" y2="761.50" stroke="#f89b9b"/>
<line x1="122.81" y1="759.74" x2="128.00" y2="759.74" stroke="#f89b9b"/>
<line x1="122.81" y1="761.50" x2="128.00" y2="761.50" stroke="#f89b9b"/>
<line x1="122.81" y1="765.01" x2="122.81" y2="766.77" stroke="#f89b9b"/>
<line x1="122.81" y1="765.01" x2="128.00" y2="765.01" stroke="#f89b9b"/>
<line x1="122.81" y1="766.77" x2="128.00" y2="766.77" stroke="#f89b9b"/>
<line x1="117.61" y1="763.25" x2="117.61" y2="765.89" stroke="#f89b9b"/>
<line x1="117.61" y1="763.25" x2="128.00" y2="763.25" stroke="#f89b9b"/>
<line x1="117.61" y1="765.89" x2="122.81" y2="765.89" stroke="#f89b9b"/>
<line x1="122.81" y1="770.28" x2="122.81" y2="772.04" stroke="#f89b9b"/>
<line x1="122.81" y1="770.28" x2="128.00" y2="770.28" stroke="#f89b9b"/>
<line x1="122.81" y1="772.04" x2="128.00" y2="772.04" stroke="#f89b9b"/>
<line x1="122.81" y1="773.80" x2="122.81" y2="775.55" stroke="#f89b9b"/>
<line x1="122.81" y1="773.80" x2="128.00" y2="773.80" stroke="#f89b9b"/>
<line x1="122.81" y1="775.55" x2="128.00" y2="775.55" stroke="#f89b9b"/>
<line x1="122.81" y1="777.31" x2="122.81" y2="779.07" stroke="#f89b9b"/>
<line x1="122.81" y1="777.31" x2="128.00" y2="777.31" stroke="#f89b9b"/>
<line x1="122.81" y1="779.07" x2="128.00" y2="779.07" stroke="#f89b9b"/>
<line x1="117.61" y1="774.67" x2="117.61" y2="778.19" stroke="#f89b9b"/>
<line x1="117.61" y1="774.67" x2="122.81" y2="774.67" stroke="#f89b9b"/>
<line x1="117.61" y1="778.19" x2="122.81" y2="778.19" stroke="#f89b9b"/>
<line x1="122.81" y1="780.82" x2="122.81" y2="782.58" stroke="#f89b9b"/>
<line x1="122.81" y1="780.82" x2="128.00" y2="780.82" stroke="#f89b9b"/>
<line x1="122.81" y1="782.58" x2="128.00" y2="782.58" stroke="#f89b9b"/>
<line x1="122.81" y1="784.34" x2="122.81" y2="786.09" stroke="#f89b9b"/>
<line x1="122.81" y1="784.34" x2="128.00" y2="784.34" stroke="#f89b9b"/>
<line x1="122.81" y1="786.09" x2="128.00" y2="786.09" stroke="#f89b9b"/>
<line x1="117.61" y1="781.70" x2="117.61" y2="785.22" stroke="#f89b9b"/>
<line x1="117.61" y1="781.70" x2="122.81" y2="781.70" stroke="#f89b9b"/>
<line x1="117.61" y1="785.22" x2="122.81" y2="785.22" stroke="#f89b9b"/>
<line x1="122.81" y1="789.61" x2="122.81" y2="791.37" stroke="#f89b9b"/>
<line x1="122.81" y1="789.61" x2="128.00" y2="789.61" stroke="#f89b9b"/>
<line x1="122.81" y1="791.37" x2="128.00" y2="791.37" stroke="#f89b9b"/>
<line x1="117.61" y1="787.85" x2="117.61" y2="790.49" stroke="#f89b9b"/>
<line x1="117.61" y1="787.85" x2="128.00" y2="787.85" stroke="#f89b9b"/>
<line x1="117.61" y1="790.49" x2="122.81" y2="790.49" stroke="#f89b9b"/>
<line x1="112.42" y1="789.17" x2="112.42" y2="793.12" stroke="#f89b9b"/>
<line x1="112.42" y1="789.17" x2="117.61" y2="789.17" stroke="#f89b9b"/>
<line x1="112.42" y1="793.12" x2="128.00" y2="793.12" stroke="#f89b9b"/>
<line x1="122.81" y1="794.88" x2="122.81" y2="796.64" stroke="#f89b9b"/>
<line x1="122.81" y1="794.88" x2="128.00" y2="794.88" stroke="#f89b9b"/>
<line x1="122.81" y1="796.64" x2="128.00" y2="796.64" stroke="#f89b9b"/>
<line x1="122.81" y1="798.39" x2="122.81" y2="800.15" stroke="#f89b9b"/>
<line x1="122.81" y1="798.39" x2="128.00" y2="798.39" stroke="#f89b9b"/>
<line x1="122.81" y1="800.15" x2="128.00" y2="800.15" stroke="#f89b9b"/>
<line x1="122.81" y1="801.91" x2="122.81" y2="803.66" stroke="#f89b9b"/>
<line x1="122.81" y1="801.91" x2="128.00" y2="801.91" stroke="#f89b9b"/>
<line x1="122.81" y1="803.66" x2="128.00" y2="803.66" stroke="#f89b9b"/>
<line x1="117.61" y1="802.79" x2="117.61" y2="805.42" stroke="#f89b9b"/>
<line x1="117.61" y1="802.79" x2="122.81" y2="802.79" stroke="#f89b9b"/>
<line x1="117.61" y1="805.42" x2="128.00" y2="805.42" stroke="#f89b9b"/>
<line x1="112.42" y1="799.27" x2="112.42" y2="804.10" stroke="#f89b9b"/>
<line x1="112.42" y1="799.27" x2="122.81" y2="799.27" stroke="#f89b9b"/>
<line x1="112.42" y1="804.10" x2="117.61" y2="804.10" stroke="#f89b9b"/>
<line x1="107.22" y1="795.76" x2="107.22" y2="801.69" stroke="#f89b9b"/>
<line x1="107.22" y1="795.76" x2="122.81" y2="795.76" stroke="#f89b9b"/>
<line x1="107.22" y1="801.69" x2="112.42" y2="801.69" stroke="#f89b9b"/>
<line x1="102.03" y1="791.15" x2="102.03" y2="798.72" stroke="#f89b9b"/>
<line x1="102.03" y1="791.15" x2="112.42" y2="791.15" stroke="#f89b9b"/>
<line x1="102.03" y1="798.72" x2="107.22" y2="798.72" stroke="#f89b9b"/>
<line x1="96.83" y1="783.46" x2="96.83" y2="794.93" stroke="#f89b9b"/>
<line x1="96.83" y1="783.46" x2="117.61" y2="783.46" stroke="#f89b9b"/>
<line x1="96.83" y1="794.93" x2="102.03" y2="794.93" stroke="#f89b9b"/>
<line x1="91.64" y1="776.43" x2="91.64" y2="789.20" stroke="#f89b9b"/>
<line x1="91.64" y1="776.43" x2="117.61" y2="776.43" stroke="#f89b9b"/>
<line x1="91.64" y1="789.20" x2="96.83" y2="789.20" stroke="#f89b9b"/>
<line x1="86.44" y1="771.16" x2="86.44" y2="782.81" stroke="#f89b9b"/>
<line x1="86.44" y1="771.16" x2="122.81" y2="771.16" stroke="#f89b9b"/>
<line x1="86.44" y1="782.81" x2="91.64" y2="782.81" stroke="#f89b9b"/>
<line x1="81.25" y1="768.52" x2="81.25" y2="776.99" stroke="#f89b9b"/>
<line x1="81.25" y1="768.52" x2="128.00" y2="768.52" stroke="#f89b9b"/>
<line x1="81.25" y1="776.99" x2="86.44" y2="776.99" stroke="#f89b9b"/>
<line x1="76.05" y1="764.57" x2="76.05" y2="772.76" stroke="#f89b9b"/>
<line x1="76.05" y1="764.57" x2="117.61" y2="764.57" stroke="#f89b9b"/>
<line x1="76.05" y1="772.76" x2="81.25" y2="772.76" stroke="#f89b9b"/>
<line x1="70.86" y1="760.62" x2="70.86" y2="768.66" stroke="#f89b9b"/>
<line x1="70.86" y1="760.62" x2="122.81" y2="760.62" stroke="#f89b9b"/>
<line x1="70.86" y1="768.66" x2="76.05" y2="768.66" stroke="#f89b9b"/>
<line x1="65.66" y1="757.10" x2="65.66" y2="764.64" stroke="#f89b9b"/>
<line x1="65.66" y1="757.10" x2="122.81" y2="757.10" stroke="#f89b9b"/>
<line x1="65.66" y1="764.64" x2="70.86" y2="764.64" stroke="#f89b9b"/>
<line x1="60.47" y1="753.15" x2="60.47" y2="760.87" stroke="#f89b9b"/>
<line x1="60.47" y1="753.15" x2="117.61" y2="753.15" stroke="#f89b9b"/>
<line x1="60.47" y1="760.87" x2="65.66" y2="760.87" stroke="#f89b9b"/>
<line x1="55.27" y1="749.20" x2="55.27" y2="757.01" stroke="#f89b9b"/>
<line x1="55.27" y1="749.20" x2="128.00" y2="749.20" stroke="#f89b9b"/>
<line x1="55.27" y1="757.01" x2="60.47" y2="757.01" stroke="#f89b9b"/>
<line x1="50.08" y1="746.56" x2="50.08" y2="753.10" stroke="#f89b9b"/>
<line x1="50.08" y1="746.56" x2="122.81" y2="746.56" stroke="#f89b9b"/>
<line x1="50.08" y1="753.10" x2="55.27" y2="753.10" stroke="#f89b9b"/>
<line x1="44.88" y1="743.05" x2="44.88" y2="749.83" stroke="#f89b9b"/>
<line x1="44.88" y1="743.05" x2="122.81" y2="743.05" stroke="#f89b9b"/>
<line x1="44.88" y1="749.83" x2="50.08" y2="749.83" stroke="#f89b9b"/>
<line x1="39.69" y1="737.12" x2="39.69" y2="746.44" stroke="#f89b9b"/>
<line x1="39.69" y1="737.12" x2="112.42" y2="737.12" stroke="#f89b9b"/>
<line x1="39.69" y1="746.44" x2="44.88" y2="746.44" stroke="#f89b9b"/>
<line x1="34.49" y1="730.75" x2="34.49" y2="741.78" stroke="#f89b9b"/>
<line x1="34.49" y1="730.75" x2="122.81" y2="730.75" stroke="#f89b9b"/>
<line x1="34.49" y1="741.78" x2="39.69" y2="741.78" stroke="#f89b9b"/>
<line x1="29.30" y1="727.23" x2="29.30" y2="736.26" stroke="#f89b9b"/>
<line x1="29.30" y1="727.23" x2="122.81" y2="727.23" stroke="#f89b9b"/>
<line x1="29.30" y1="736.26" x2="34.49" y2="736.26" stroke="#f89b9b"/>
<line x1="24.90" y1="724.60" x2="24.90" y2="731.75" stroke="#1e1e1e"/>
<line x1="24.90" y1="724.60" x2="128.00" y2="724.60" stroke="#1e1e1e"/>
<line x1="24.90" y1="731.75" x2="26.60" y2="731.75" stroke="#1e1e1e"/>
<line x1="26.60" y1="731.75" x2="29.30" y2="731.75" stroke="#f89b9b"/>
<line x1="19.20" y1="683.96" x2="19.20" y2="728.17" stroke="#1e1e1e"/>
<line x1="19.20" y1="683.96" x2="73.80" y2="683.96" stroke="#1e1e1e"/>
<line x1="19.20" y1="728.17" x2="24.90" y2="728.17" stroke="#1e1e1e"/>
<line x1="14.80" y1="661.68" x2="14.80" y2="706.06" stroke="#1e1e1e"/>
<line x1="14.80" y1="661.68" x2="103.60" y2="661.68" stroke="#1e1e1e"/>
<line x1="14.80" y1="706.06" x2="19.20" y2="706.06" stroke="#1e1e1e"/>
<line x1="4.80" y1="488.36" x2="4.80" y2="683.87" stroke="#1e1e1e"/>
<line x1="4.80" y1="488.36" x2="10.30" y2="488.36" stroke="#1e1e1e"/>
<line x1="4.80" y1="683.87" x2="14.80" y2="683.87" stroke="#1e1e1e"/>
<line x1="0.00" y1="586.12" x2="4.80" y2="586.12" stroke="#1e1e1e"/>
</g>
<circle cx="108.80" cy="112.28" r="2.35" fill="#f99393"/>
<circle cx="115.40" cy="108.33" r="2.35" fill="#f99393"/>
<circle cx="125.60" cy="146.55" r="2.35" fill="#f99393"/>
<circle cx="104.00" cy="136.88" r="2.35" fill="#f99393"/>
<circle cx="96.00" cy="173.16" r="2.35" fill="#f99393"/>
<circle cx="122.80" cy="204.53" r="2.35" fill="#f99393"/>
<circle cx="113.20" cy="131.61" r="2.35" fill="#f99393"/>
<circle cx="125.00" cy="313.46" r="2.35" fill="#f99393"/>
<circle cx="125.20" cy="369.69" r="2.35" fill="#f99393"/>
<circle cx="73.30" cy="321.13" r="2.35" fill="#f99393"/>
<circle cx="122.00" cy="533.96" r="2.35" fill="#f99393"/>
<circle cx="95.20" cy="513.43" r="2.35" fill="#f99393"/>
<circle cx="100.00" cy="500.58" r="2.35" fill="#f99393"/>
<circle cx="122.30" cy="658.71" r="2.35" fill="#f99393"/>
<circle cx="106.40" cy="716.36" r="2.35" fill="#f99393"/>
<circle cx="26.60" cy="731.75" r="2.35" fill="#f99393"/>
<circle cx="50.4" cy="824.7" r="5.3" fill="#f79595"/>
<text x="61.3" y="828.4" font-size="10.4" fill="#1a1a1a">AMS loss</text>
<rect x="130.6" y="819.2" width="10.8" height="10.8" fill="#0073a8" stroke="#333" stroke-width="0.8"/>
<text x="146.0" y="828.5" font-size="10.4" fill="#1a1a1a">Orthologue</text>
<rect x="130.6" y="837.2" width="10.8" height="10.8" fill="#bfe5fa" stroke="#333" stroke-width="0.8"/>
<text x="146.0" y="846.5" font-size="10.4" fill="#1a1a1a">Homologue (including paralogue)</text>
<rect x="311.3" y="819.2" width="10.8" height="10.8" fill="#f99793" stroke="#333" stroke-width="0.8"/>
<text x="328.0" y="828.5" font-size="10.4" fill="#1a1a1a">Absent (in genome)</text>
<rect x="311.3" y="837.2" width="10.8" height="10.8" fill="#ffffff" stroke="#333" stroke-width="0.8"/>
<text x="328.0" y="846.5" font-size="10.4" fill="#1a1a1a">Not detected (in transcriptome)</text>
<rect x="495.0" y="819.2" width="10.8" height="10.8" fill="#000000" stroke="#333" stroke-width="0.8"/>
<text x="511.3" y="828.5" font-size="10.4" fill="#1a1a1a">Symbiosis</text>
<rect x="495.0" y="837.2" width="10.8" height="10.8" fill="#ffffff" stroke="#333" stroke-width="0.8"/>
<text x="511.3" y="846.5" font-size="10.4" fill="#1a1a1a">No symbiosis</text>
<rect x="495.0" y="855.6" width="10.8" height="10.8" fill="#e6e3da" stroke="#333" stroke-width="0.8"/>
<text x="511.3" y="864.9" font-size="10.4" fill="#1a1a1a">Not determined</text>
<rect x="602.7" y="819.2" width="10.8" height="10.8" fill="#548a5e" stroke="#333" stroke-width="0.8"/>
<text x="618.7" y="828.5" font-size="10.4" fill="#1a1a1a">Genome</text>
<rect x="602.7" y="837.2" width="10.8" height="10.8" fill="#eef4bb" stroke="#333" stroke-width="0.8"/>
<text x="618.7" y="846.5" font-size="10.4" fill="#1a1a1a">Transcriptome</text>
</svg>
</body></html>
